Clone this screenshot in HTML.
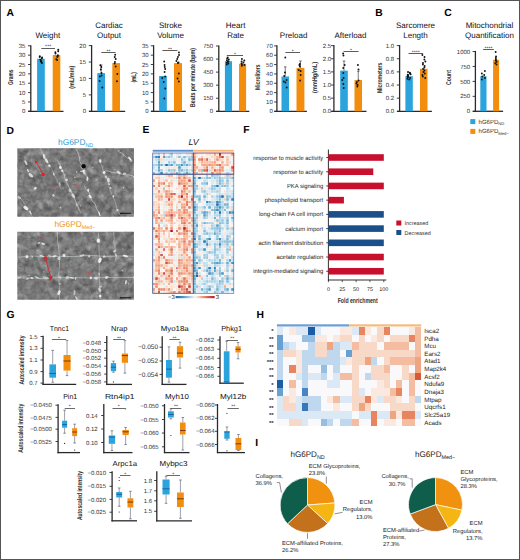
<!DOCTYPE html><html><head><meta charset="utf-8"><title>Figure</title><style>html,body{margin:0;padding:0;background:#fff;width:520px;height:560px;overflow:hidden}svg{display:block}text{font-family:"Liberation Sans",sans-serif;text-rendering:geometricPrecision}</style></head><body><svg width="520" height="560" viewBox="0 0 520 560" font-family="Liberation Sans, sans-serif"><rect width="520" height="560" fill="#fff"/><line x1="30.8" y1="45.2" x2="30.8" y2="111.9" stroke="#2a2a2a" stroke-width="1.3"/>
<line x1="28.2" y1="111.3" x2="63.5" y2="111.3" stroke="#2a2a2a" stroke-width="1.3"/>
<line x1="28" y1="45.8" x2="30.8" y2="45.8" stroke="#2a2a2a" stroke-width="0.9"/>
<text x="25.4" y="47.9" font-size="6.0" text-anchor="end" fill="#333">35</text>
<line x1="28" y1="55.16" x2="30.8" y2="55.16" stroke="#2a2a2a" stroke-width="0.9"/>
<text x="25.4" y="57.26" font-size="6.0" text-anchor="end" fill="#333">30</text>
<line x1="28" y1="64.51" x2="30.8" y2="64.51" stroke="#2a2a2a" stroke-width="0.9"/>
<text x="25.4" y="66.61" font-size="6.0" text-anchor="end" fill="#333">25</text>
<line x1="28" y1="73.87" x2="30.8" y2="73.87" stroke="#2a2a2a" stroke-width="0.9"/>
<text x="25.4" y="75.97" font-size="6.0" text-anchor="end" fill="#333">20</text>
<line x1="28" y1="83.23" x2="30.8" y2="83.23" stroke="#2a2a2a" stroke-width="0.9"/>
<text x="25.4" y="85.33" font-size="6.0" text-anchor="end" fill="#333">15</text>
<line x1="28" y1="92.59" x2="30.8" y2="92.59" stroke="#2a2a2a" stroke-width="0.9"/>
<text x="25.4" y="94.69" font-size="6.0" text-anchor="end" fill="#333">10</text>
<line x1="28" y1="101.94" x2="30.8" y2="101.94" stroke="#2a2a2a" stroke-width="0.9"/>
<text x="25.4" y="104.04" font-size="6.0" text-anchor="end" fill="#333">5</text>
<line x1="28" y1="111.3" x2="30.8" y2="111.3" stroke="#2a2a2a" stroke-width="0.9"/>
<text x="25.4" y="113.4" font-size="6.0" text-anchor="end" fill="#333">0</text>
<rect x="37.1" y="58.8" width="7.7" height="52.5" fill="#2ba3dc"/>
<circle cx="39.83" cy="56.2" r="0.95" fill="#111"/>
<circle cx="42.11" cy="57.5" r="0.95" fill="#111"/>
<circle cx="41.84" cy="58.4" r="0.95" fill="#111"/>
<circle cx="40.22" cy="59.6" r="0.95" fill="#111"/>
<circle cx="40.99" cy="60.5" r="0.95" fill="#111"/>
<circle cx="40.84" cy="61.4" r="0.95" fill="#111"/>
<circle cx="41.49" cy="62.2" r="0.95" fill="#111"/>
<circle cx="41.92" cy="63" r="0.95" fill="#111"/>
<circle cx="39.7" cy="57" r="0.95" fill="#111"/>
<rect x="52.7" y="55" width="7.6" height="56.3" fill="#f38d0d"/>
<circle cx="58.26" cy="49.8" r="0.95" fill="#111"/>
<circle cx="58.23" cy="51.2" r="0.95" fill="#111"/>
<circle cx="55.38" cy="52.3" r="0.95" fill="#111"/>
<circle cx="55.47" cy="53.5" r="0.95" fill="#111"/>
<circle cx="57.87" cy="55.2" r="0.95" fill="#111"/>
<circle cx="57.56" cy="56.2" r="0.95" fill="#111"/>
<circle cx="57.34" cy="57" r="0.95" fill="#111"/>
<circle cx="56.19" cy="59.3" r="0.95" fill="#111"/>
<circle cx="57.14" cy="60" r="0.95" fill="#111"/>
<line x1="41.3" y1="48.5" x2="55" y2="48.5" stroke="#333" stroke-width="0.8"/>
<text x="48.15" y="48.4" font-size="5.2" text-anchor="middle" fill="#222">***</text>
<text x="47.8" y="38.4" font-size="8" text-anchor="middle" fill="#111">Weight</text>
<text x="13" y="77.2" font-size="7" text-anchor="middle" fill="#2a2a2a" font-weight="bold" textLength="15.4" lengthAdjust="spacingAndGlyphs" transform="rotate(-90 13 77.2)">Grams</text>
<line x1="91.6" y1="45" x2="91.6" y2="111.9" stroke="#2a2a2a" stroke-width="1.3"/>
<line x1="89" y1="111.3" x2="125.2" y2="111.3" stroke="#2a2a2a" stroke-width="1.3"/>
<line x1="88.8" y1="45.6" x2="91.6" y2="45.6" stroke="#2a2a2a" stroke-width="0.9"/>
<text x="86" y="47.7" font-size="6.0" text-anchor="end" fill="#333">20</text>
<line x1="88.8" y1="62.02" x2="91.6" y2="62.02" stroke="#2a2a2a" stroke-width="0.9"/>
<text x="86" y="64.12" font-size="6.0" text-anchor="end" fill="#333">15</text>
<line x1="88.8" y1="78.45" x2="91.6" y2="78.45" stroke="#2a2a2a" stroke-width="0.9"/>
<text x="86" y="80.55" font-size="6.0" text-anchor="end" fill="#333">10</text>
<line x1="88.8" y1="94.88" x2="91.6" y2="94.88" stroke="#2a2a2a" stroke-width="0.9"/>
<text x="86" y="96.97" font-size="6.0" text-anchor="end" fill="#333">5</text>
<line x1="88.8" y1="111.3" x2="91.6" y2="111.3" stroke="#2a2a2a" stroke-width="0.9"/>
<text x="86" y="113.4" font-size="6.0" text-anchor="end" fill="#333">0</text>
<rect x="97.3" y="73.1" width="7.7" height="38.2" fill="#2ba3dc"/>
<line x1="101.15" y1="73.1" x2="101.15" y2="65" stroke="#222" stroke-width="0.6"/>
<line x1="99.85" y1="65" x2="102.45" y2="65" stroke="#222" stroke-width="0.6"/>
<circle cx="100.36" cy="65.2" r="0.95" fill="#111"/>
<circle cx="101.34" cy="67" r="0.95" fill="#111"/>
<circle cx="100.78" cy="69.5" r="0.95" fill="#111"/>
<circle cx="101.53" cy="73" r="0.95" fill="#111"/>
<circle cx="101.6" cy="75.5" r="0.95" fill="#111"/>
<circle cx="99.81" cy="76.5" r="0.95" fill="#111"/>
<circle cx="99.64" cy="81" r="0.95" fill="#111"/>
<circle cx="102.28" cy="87.5" r="0.95" fill="#111"/>
<rect x="112.3" y="63.1" width="7.7" height="48.2" fill="#f38d0d"/>
<circle cx="115.16" cy="54.8" r="0.95" fill="#111"/>
<circle cx="114.73" cy="57" r="0.95" fill="#111"/>
<circle cx="115.67" cy="59" r="0.95" fill="#111"/>
<circle cx="114.9" cy="62" r="0.95" fill="#111"/>
<circle cx="114.61" cy="63.5" r="0.95" fill="#111"/>
<circle cx="115.69" cy="66.5" r="0.95" fill="#111"/>
<circle cx="117.34" cy="74" r="0.95" fill="#111"/>
<circle cx="116.96" cy="81.2" r="0.95" fill="#111"/>
<line x1="101.3" y1="52.5" x2="115.6" y2="52.5" stroke="#333" stroke-width="0.8"/>
<text x="108.45" y="52.8" font-size="5.2" text-anchor="middle" fill="#222">**</text>
<text x="109" y="28.4" font-size="8" text-anchor="middle" fill="#111">Cardiac</text>
<text x="109" y="38.2" font-size="8" text-anchor="middle" fill="#111">Output</text>
<text x="74.3" y="77.2" font-size="7" text-anchor="middle" fill="#2a2a2a" font-weight="bold" textLength="23.2" lengthAdjust="spacingAndGlyphs" transform="rotate(-90 74.3 77.2)">(mL/min)</text>
<line x1="153.6" y1="45.2" x2="153.6" y2="111.9" stroke="#2a2a2a" stroke-width="1.3"/>
<line x1="151" y1="111.3" x2="185.8" y2="111.3" stroke="#2a2a2a" stroke-width="1.3"/>
<line x1="150.8" y1="45.8" x2="153.6" y2="45.8" stroke="#2a2a2a" stroke-width="0.9"/>
<text x="148.6" y="47.9" font-size="6.0" text-anchor="end" fill="#333">35</text>
<line x1="150.8" y1="55.16" x2="153.6" y2="55.16" stroke="#2a2a2a" stroke-width="0.9"/>
<text x="148.6" y="57.26" font-size="6.0" text-anchor="end" fill="#333">30</text>
<line x1="150.8" y1="64.51" x2="153.6" y2="64.51" stroke="#2a2a2a" stroke-width="0.9"/>
<text x="148.6" y="66.61" font-size="6.0" text-anchor="end" fill="#333">25</text>
<line x1="150.8" y1="73.87" x2="153.6" y2="73.87" stroke="#2a2a2a" stroke-width="0.9"/>
<text x="148.6" y="75.97" font-size="6.0" text-anchor="end" fill="#333">20</text>
<line x1="150.8" y1="83.23" x2="153.6" y2="83.23" stroke="#2a2a2a" stroke-width="0.9"/>
<text x="148.6" y="85.33" font-size="6.0" text-anchor="end" fill="#333">15</text>
<line x1="150.8" y1="92.59" x2="153.6" y2="92.59" stroke="#2a2a2a" stroke-width="0.9"/>
<text x="148.6" y="94.69" font-size="6.0" text-anchor="end" fill="#333">10</text>
<line x1="150.8" y1="101.94" x2="153.6" y2="101.94" stroke="#2a2a2a" stroke-width="0.9"/>
<text x="148.6" y="104.04" font-size="6.0" text-anchor="end" fill="#333">5</text>
<line x1="150.8" y1="111.3" x2="153.6" y2="111.3" stroke="#2a2a2a" stroke-width="0.9"/>
<text x="148.6" y="113.4" font-size="6.0" text-anchor="end" fill="#333">0</text>
<rect x="159.1" y="76" width="7.7" height="35.3" fill="#2ba3dc"/>
<circle cx="164.19" cy="61.5" r="0.95" fill="#111"/>
<circle cx="164.57" cy="65" r="0.95" fill="#111"/>
<circle cx="164.74" cy="67" r="0.95" fill="#111"/>
<circle cx="165.22" cy="69" r="0.95" fill="#111"/>
<circle cx="164.57" cy="72" r="0.95" fill="#111"/>
<circle cx="165.15" cy="76.5" r="0.95" fill="#111"/>
<circle cx="162.29" cy="78" r="0.95" fill="#111"/>
<circle cx="163.69" cy="82" r="0.95" fill="#111"/>
<circle cx="165.22" cy="88.5" r="0.95" fill="#111"/>
<circle cx="164.28" cy="98.5" r="0.95" fill="#111"/>
<rect x="174" y="63.1" width="8" height="48.2" fill="#f38d0d"/>
<circle cx="178.94" cy="52.5" r="0.95" fill="#111"/>
<circle cx="179.03" cy="55" r="0.95" fill="#111"/>
<circle cx="177.95" cy="57" r="0.95" fill="#111"/>
<circle cx="177.24" cy="59" r="0.95" fill="#111"/>
<circle cx="176.4" cy="61" r="0.95" fill="#111"/>
<circle cx="178.52" cy="62.5" r="0.95" fill="#111"/>
<circle cx="177.9" cy="63" r="0.95" fill="#111"/>
<circle cx="178.83" cy="73.5" r="0.95" fill="#111"/>
<circle cx="177.59" cy="78.5" r="0.95" fill="#111"/>
<circle cx="178.86" cy="81.5" r="0.95" fill="#111"/>
<line x1="162.4" y1="50.5" x2="177.4" y2="50.5" stroke="#333" stroke-width="0.8"/>
<text x="169.9" y="50.6" font-size="5.2" text-anchor="middle" fill="#222">**</text>
<text x="170.5" y="28.4" font-size="8" text-anchor="middle" fill="#111">Stroke</text>
<text x="170.5" y="38.2" font-size="8" text-anchor="middle" fill="#111">Volume</text>
<text x="135.6" y="77.3" font-size="7" text-anchor="middle" fill="#2a2a2a" font-weight="bold" textLength="10.5" lengthAdjust="spacingAndGlyphs" transform="rotate(-90 135.6 77.3)">(mL)</text>
<line x1="218.8" y1="45.4" x2="218.8" y2="111.9" stroke="#2a2a2a" stroke-width="1.3"/>
<line x1="216.2" y1="111.3" x2="249.3" y2="111.3" stroke="#2a2a2a" stroke-width="1.3"/>
<line x1="216" y1="46" x2="218.8" y2="46" stroke="#2a2a2a" stroke-width="0.9"/>
<text x="213.2" y="48.1" font-size="6.0" text-anchor="end" fill="#333">750</text>
<line x1="216" y1="59.06" x2="218.8" y2="59.06" stroke="#2a2a2a" stroke-width="0.9"/>
<text x="213.2" y="61.16" font-size="6.0" text-anchor="end" fill="#333">600</text>
<line x1="216" y1="72.12" x2="218.8" y2="72.12" stroke="#2a2a2a" stroke-width="0.9"/>
<text x="213.2" y="74.22" font-size="6.0" text-anchor="end" fill="#333">450</text>
<line x1="216" y1="85.18" x2="218.8" y2="85.18" stroke="#2a2a2a" stroke-width="0.9"/>
<text x="213.2" y="87.28" font-size="6.0" text-anchor="end" fill="#333">300</text>
<line x1="216" y1="98.24" x2="218.8" y2="98.24" stroke="#2a2a2a" stroke-width="0.9"/>
<text x="213.2" y="100.34" font-size="6.0" text-anchor="end" fill="#333">150</text>
<line x1="216" y1="111.3" x2="218.8" y2="111.3" stroke="#2a2a2a" stroke-width="0.9"/>
<text x="213.2" y="113.4" font-size="6.0" text-anchor="end" fill="#333">0</text>
<rect x="224.9" y="61.2" width="7.1" height="50.1" fill="#2ba3dc"/>
<circle cx="227.74" cy="57.5" r="0.95" fill="#111"/>
<circle cx="227.18" cy="58.5" r="0.95" fill="#111"/>
<circle cx="228.78" cy="59.5" r="0.95" fill="#111"/>
<circle cx="226.93" cy="60.3" r="0.95" fill="#111"/>
<circle cx="228.41" cy="61.2" r="0.95" fill="#111"/>
<circle cx="227.87" cy="62" r="0.95" fill="#111"/>
<circle cx="226.89" cy="62.8" r="0.95" fill="#111"/>
<circle cx="228.32" cy="63.6" r="0.95" fill="#111"/>
<circle cx="226.82" cy="64.5" r="0.95" fill="#111"/>
<rect x="239" y="63.8" width="7.1" height="47.5" fill="#f38d0d"/>
<circle cx="241.93" cy="59" r="0.95" fill="#111"/>
<circle cx="244.28" cy="60.5" r="0.95" fill="#111"/>
<circle cx="241.6" cy="61.5" r="0.95" fill="#111"/>
<circle cx="243.46" cy="62.5" r="0.95" fill="#111"/>
<circle cx="241.47" cy="63.5" r="0.95" fill="#111"/>
<circle cx="241.99" cy="64.3" r="0.95" fill="#111"/>
<circle cx="244.4" cy="65" r="0.95" fill="#111"/>
<circle cx="241.87" cy="65.8" r="0.95" fill="#111"/>
<line x1="226.8" y1="55.5" x2="243" y2="55.5" stroke="#333" stroke-width="0.8"/>
<text x="234.9" y="55.6" font-size="5.2" text-anchor="middle" fill="#222">*</text>
<text x="235.6" y="28.4" font-size="8" text-anchor="middle" fill="#111">Heart</text>
<text x="235.6" y="38.2" font-size="8" text-anchor="middle" fill="#111">Rate</text>
<text x="194.9" y="77.5" font-size="7" text-anchor="middle" fill="#2a2a2a" font-weight="bold" textLength="59" lengthAdjust="spacingAndGlyphs" transform="rotate(-90 194.9 77.5)">Beats per minute (bpm)</text>
<line x1="276.9" y1="45.3" x2="276.9" y2="111.9" stroke="#2a2a2a" stroke-width="1.3"/>
<line x1="274.3" y1="111.3" x2="306.9" y2="111.3" stroke="#2a2a2a" stroke-width="1.3"/>
<line x1="274.1" y1="45.9" x2="276.9" y2="45.9" stroke="#2a2a2a" stroke-width="0.9"/>
<text x="272.8" y="48" font-size="6.0" text-anchor="end" fill="#333">70</text>
<line x1="274.1" y1="55.24" x2="276.9" y2="55.24" stroke="#2a2a2a" stroke-width="0.9"/>
<text x="272.8" y="57.34" font-size="6.0" text-anchor="end" fill="#333">60</text>
<line x1="274.1" y1="64.59" x2="276.9" y2="64.59" stroke="#2a2a2a" stroke-width="0.9"/>
<text x="272.8" y="66.69" font-size="6.0" text-anchor="end" fill="#333">50</text>
<line x1="274.1" y1="73.93" x2="276.9" y2="73.93" stroke="#2a2a2a" stroke-width="0.9"/>
<text x="272.8" y="76.03" font-size="6.0" text-anchor="end" fill="#333">40</text>
<line x1="274.1" y1="83.27" x2="276.9" y2="83.27" stroke="#2a2a2a" stroke-width="0.9"/>
<text x="272.8" y="85.37" font-size="6.0" text-anchor="end" fill="#333">30</text>
<line x1="274.1" y1="92.61" x2="276.9" y2="92.61" stroke="#2a2a2a" stroke-width="0.9"/>
<text x="272.8" y="94.71" font-size="6.0" text-anchor="end" fill="#333">20</text>
<line x1="274.1" y1="101.96" x2="276.9" y2="101.96" stroke="#2a2a2a" stroke-width="0.9"/>
<text x="272.8" y="104.06" font-size="6.0" text-anchor="end" fill="#333">10</text>
<line x1="274.1" y1="111.3" x2="276.9" y2="111.3" stroke="#2a2a2a" stroke-width="0.9"/>
<text x="272.8" y="113.4" font-size="6.0" text-anchor="end" fill="#333">0</text>
<rect x="281.5" y="76.5" width="7.5" height="34.8" fill="#2ba3dc"/>
<line x1="285.25" y1="76.5" x2="285.25" y2="66.9" stroke="#222" stroke-width="0.6"/>
<line x1="283.95" y1="66.9" x2="286.55" y2="66.9" stroke="#222" stroke-width="0.6"/>
<circle cx="285.28" cy="57.5" r="0.95" fill="#111"/>
<circle cx="284.99" cy="72.5" r="0.95" fill="#111"/>
<circle cx="284.24" cy="76" r="0.95" fill="#111"/>
<circle cx="286.57" cy="80" r="0.95" fill="#111"/>
<circle cx="283.82" cy="81.5" r="0.95" fill="#111"/>
<circle cx="285.41" cy="82.5" r="0.95" fill="#111"/>
<circle cx="286.67" cy="87.5" r="0.95" fill="#111"/>
<rect x="296.5" y="67.9" width="7.9" height="43.4" fill="#f38d0d"/>
<line x1="300.45" y1="67.9" x2="300.45" y2="61" stroke="#222" stroke-width="0.6"/>
<line x1="299.15" y1="61" x2="301.75" y2="61" stroke="#222" stroke-width="0.6"/>
<circle cx="299.83" cy="64" r="0.95" fill="#111"/>
<circle cx="299.37" cy="65" r="0.95" fill="#111"/>
<circle cx="299.85" cy="66.5" r="0.95" fill="#111"/>
<circle cx="298.66" cy="70" r="0.95" fill="#111"/>
<circle cx="300.6" cy="71" r="0.95" fill="#111"/>
<circle cx="300.64" cy="75" r="0.95" fill="#111"/>
<circle cx="300.09" cy="80.5" r="0.95" fill="#111"/>
<line x1="285.4" y1="52.5" x2="300" y2="52.5" stroke="#333" stroke-width="0.8"/>
<text x="292.7" y="52.8" font-size="5.2" text-anchor="middle" fill="#222">*</text>
<text x="293.6" y="38.4" font-size="8" text-anchor="middle" fill="#111">Preload</text>
<text x="259.8" y="77.2" font-size="7" text-anchor="middle" fill="#2a2a2a" font-weight="bold" textLength="25.6" lengthAdjust="spacingAndGlyphs" transform="rotate(-90 259.8 77.2)">Microliters</text>
<line x1="333.9" y1="45" x2="333.9" y2="111.9" stroke="#2a2a2a" stroke-width="1.3"/>
<line x1="331.3" y1="111.3" x2="366.5" y2="111.3" stroke="#2a2a2a" stroke-width="1.3"/>
<line x1="331.1" y1="45.6" x2="333.9" y2="45.6" stroke="#2a2a2a" stroke-width="0.9"/>
<text x="331.2" y="47.7" font-size="6.0" text-anchor="end" fill="#333">2.5</text>
<line x1="331.1" y1="58.74" x2="333.9" y2="58.74" stroke="#2a2a2a" stroke-width="0.9"/>
<text x="331.2" y="60.84" font-size="6.0" text-anchor="end" fill="#333">2.0</text>
<line x1="331.1" y1="71.88" x2="333.9" y2="71.88" stroke="#2a2a2a" stroke-width="0.9"/>
<text x="331.2" y="73.98" font-size="6.0" text-anchor="end" fill="#333">1.5</text>
<line x1="331.1" y1="85.02" x2="333.9" y2="85.02" stroke="#2a2a2a" stroke-width="0.9"/>
<text x="331.2" y="87.12" font-size="6.0" text-anchor="end" fill="#333">1.0</text>
<line x1="331.1" y1="98.16" x2="333.9" y2="98.16" stroke="#2a2a2a" stroke-width="0.9"/>
<text x="331.2" y="100.26" font-size="6.0" text-anchor="end" fill="#333">0.5</text>
<line x1="331.1" y1="111.3" x2="333.9" y2="111.3" stroke="#2a2a2a" stroke-width="0.9"/>
<text x="331.2" y="113.4" font-size="6.0" text-anchor="end" fill="#333">0.0</text>
<rect x="340.2" y="70.6" width="7.6" height="40.7" fill="#2ba3dc"/>
<line x1="344" y1="70.6" x2="344" y2="61" stroke="#222" stroke-width="0.6"/>
<line x1="342.7" y1="61" x2="345.3" y2="61" stroke="#222" stroke-width="0.6"/>
<circle cx="343.15" cy="53.5" r="0.95" fill="#111"/>
<circle cx="343.49" cy="55.5" r="0.95" fill="#111"/>
<circle cx="344.66" cy="65" r="0.95" fill="#111"/>
<circle cx="343.19" cy="68" r="0.95" fill="#111"/>
<circle cx="343.33" cy="73" r="0.95" fill="#111"/>
<circle cx="343.58" cy="78" r="0.95" fill="#111"/>
<circle cx="342.29" cy="80" r="0.95" fill="#111"/>
<circle cx="343.34" cy="84" r="0.95" fill="#111"/>
<circle cx="343.72" cy="88" r="0.95" fill="#111"/>
<rect x="354.5" y="80" width="7.5" height="31.3" fill="#f38d0d"/>
<line x1="358.25" y1="80" x2="358.25" y2="71.2" stroke="#222" stroke-width="0.6"/>
<line x1="356.95" y1="71.2" x2="359.55" y2="71.2" stroke="#222" stroke-width="0.6"/>
<circle cx="357.92" cy="65" r="0.95" fill="#111"/>
<circle cx="358.5" cy="69.5" r="0.95" fill="#111"/>
<circle cx="358.53" cy="80.5" r="0.95" fill="#111"/>
<circle cx="356.86" cy="82" r="0.95" fill="#111"/>
<circle cx="356.43" cy="83.5" r="0.95" fill="#111"/>
<circle cx="357.6" cy="85" r="0.95" fill="#111"/>
<circle cx="357.28" cy="86.5" r="0.95" fill="#111"/>
<line x1="343.6" y1="51.5" x2="358.6" y2="51.5" stroke="#333" stroke-width="0.8"/>
<text x="351.1" y="51.6" font-size="5.2" text-anchor="middle" fill="#222">*</text>
<text x="350.5" y="38.4" font-size="8" text-anchor="middle" fill="#111">Afterload</text>
<text x="317.3" y="77.5" font-size="7" text-anchor="middle" fill="#2a2a2a" font-weight="bold" textLength="31.2" lengthAdjust="spacingAndGlyphs" transform="rotate(-90 317.3 77.5)">(mmHg/mL)</text>
<line x1="399.6" y1="45" x2="399.6" y2="111.9" stroke="#2a2a2a" stroke-width="1.3"/>
<line x1="397" y1="111.3" x2="431.9" y2="111.3" stroke="#2a2a2a" stroke-width="1.3"/>
<line x1="396.8" y1="45.6" x2="399.6" y2="45.6" stroke="#2a2a2a" stroke-width="0.9"/>
<text x="394" y="47.7" font-size="6.0" text-anchor="end" fill="#333">1.0</text>
<line x1="396.8" y1="58.74" x2="399.6" y2="58.74" stroke="#2a2a2a" stroke-width="0.9"/>
<text x="394" y="60.84" font-size="6.0" text-anchor="end" fill="#333">0.8</text>
<line x1="396.8" y1="71.88" x2="399.6" y2="71.88" stroke="#2a2a2a" stroke-width="0.9"/>
<text x="394" y="73.98" font-size="6.0" text-anchor="end" fill="#333">0.6</text>
<line x1="396.8" y1="85.02" x2="399.6" y2="85.02" stroke="#2a2a2a" stroke-width="0.9"/>
<text x="394" y="87.12" font-size="6.0" text-anchor="end" fill="#333">0.4</text>
<line x1="396.8" y1="98.16" x2="399.6" y2="98.16" stroke="#2a2a2a" stroke-width="0.9"/>
<text x="394" y="100.26" font-size="6.0" text-anchor="end" fill="#333">0.2</text>
<line x1="396.8" y1="111.3" x2="399.6" y2="111.3" stroke="#2a2a2a" stroke-width="0.9"/>
<text x="394" y="113.4" font-size="6.0" text-anchor="end" fill="#333">0.0</text>
<rect x="405.4" y="76.2" width="7.4" height="35.1" fill="#2ba3dc"/>
<circle cx="408.04" cy="72" r="0.95" fill="#111"/>
<circle cx="409.92" cy="72.8" r="0.95" fill="#111"/>
<circle cx="409.91" cy="73.5" r="0.95" fill="#111"/>
<circle cx="410.64" cy="74.2" r="0.95" fill="#111"/>
<circle cx="407.72" cy="75" r="0.95" fill="#111"/>
<circle cx="407.91" cy="75.8" r="0.95" fill="#111"/>
<circle cx="407.55" cy="76.5" r="0.95" fill="#111"/>
<circle cx="407.89" cy="77.2" r="0.95" fill="#111"/>
<circle cx="410.13" cy="78" r="0.95" fill="#111"/>
<circle cx="407.47" cy="78.8" r="0.95" fill="#111"/>
<circle cx="409.24" cy="79.6" r="0.95" fill="#111"/>
<circle cx="407.84" cy="74.6" r="0.95" fill="#111"/>
<circle cx="408.2" cy="76.1" r="0.95" fill="#111"/>
<rect x="420" y="68.8" width="7.5" height="42.5" fill="#f38d0d"/>
<circle cx="422.38" cy="55" r="0.95" fill="#111"/>
<circle cx="424.53" cy="57" r="0.95" fill="#111"/>
<circle cx="424.35" cy="59.5" r="0.95" fill="#111"/>
<circle cx="425.39" cy="61.5" r="0.95" fill="#111"/>
<circle cx="422.98" cy="63" r="0.95" fill="#111"/>
<circle cx="422.92" cy="64.5" r="0.95" fill="#111"/>
<circle cx="424.64" cy="66" r="0.95" fill="#111"/>
<circle cx="424.37" cy="67.5" r="0.95" fill="#111"/>
<circle cx="423.09" cy="69" r="0.95" fill="#111"/>
<circle cx="424.46" cy="70.5" r="0.95" fill="#111"/>
<circle cx="423.43" cy="72" r="0.95" fill="#111"/>
<circle cx="424.8" cy="73.5" r="0.95" fill="#111"/>
<circle cx="422.43" cy="75" r="0.95" fill="#111"/>
<circle cx="422.8" cy="76.5" r="0.95" fill="#111"/>
<circle cx="425.25" cy="78" r="0.95" fill="#111"/>
<line x1="408.5" y1="53.5" x2="423.1" y2="53.5" stroke="#333" stroke-width="0.8"/>
<text x="415.8" y="53.8" font-size="5.2" text-anchor="middle" fill="#222">****</text>
<text x="415.5" y="28.4" font-size="8" text-anchor="middle" fill="#111">Sarcomere</text>
<text x="415.5" y="38.2" font-size="8" text-anchor="middle" fill="#111">Length</text>
<text x="382.2" y="77.8" font-size="7" text-anchor="middle" fill="#2a2a2a" font-weight="bold" textLength="30.6" lengthAdjust="spacingAndGlyphs" transform="rotate(-90 382.2 77.8)">Micrometers</text>
<line x1="475.4" y1="50.9" x2="475.4" y2="111.9" stroke="#2a2a2a" stroke-width="1.3"/>
<line x1="472.8" y1="111.3" x2="503.1" y2="111.3" stroke="#2a2a2a" stroke-width="1.3"/>
<line x1="472.6" y1="51.5" x2="475.4" y2="51.5" stroke="#2a2a2a" stroke-width="0.9"/>
<text x="470.2" y="53.6" font-size="6.0" text-anchor="end" fill="#333">1000</text>
<line x1="472.6" y1="66.45" x2="475.4" y2="66.45" stroke="#2a2a2a" stroke-width="0.9"/>
<text x="470.2" y="68.55" font-size="6.0" text-anchor="end" fill="#333">750</text>
<line x1="472.6" y1="81.4" x2="475.4" y2="81.4" stroke="#2a2a2a" stroke-width="0.9"/>
<text x="470.2" y="83.5" font-size="6.0" text-anchor="end" fill="#333">500</text>
<line x1="472.6" y1="96.35" x2="475.4" y2="96.35" stroke="#2a2a2a" stroke-width="0.9"/>
<text x="470.2" y="98.45" font-size="6.0" text-anchor="end" fill="#333">250</text>
<line x1="472.6" y1="111.3" x2="475.4" y2="111.3" stroke="#2a2a2a" stroke-width="0.9"/>
<text x="470.2" y="113.4" font-size="6.0" text-anchor="end" fill="#333">0</text>
<rect x="480.3" y="76.2" width="6.2" height="35.1" fill="#2ba3dc"/>
<circle cx="484.89" cy="71" r="0.95" fill="#111"/>
<circle cx="481.84" cy="73.5" r="0.95" fill="#111"/>
<circle cx="484.16" cy="75" r="0.95" fill="#111"/>
<circle cx="482.31" cy="76.5" r="0.95" fill="#111"/>
<circle cx="484.96" cy="78" r="0.95" fill="#111"/>
<circle cx="481.85" cy="79.5" r="0.95" fill="#111"/>
<rect x="493.1" y="59.8" width="6" height="51.5" fill="#f38d0d"/>
<circle cx="495.66" cy="52" r="0.95" fill="#111"/>
<circle cx="496.04" cy="56.5" r="0.95" fill="#111"/>
<circle cx="495.83" cy="58" r="0.95" fill="#111"/>
<circle cx="495.93" cy="59.5" r="0.95" fill="#111"/>
<circle cx="495.81" cy="60.5" r="0.95" fill="#111"/>
<circle cx="496.6" cy="61.8" r="0.95" fill="#111"/>
<circle cx="495.33" cy="63.2" r="0.95" fill="#111"/>
<circle cx="496.53" cy="64.5" r="0.95" fill="#111"/>
<line x1="483.1" y1="49.5" x2="493.8" y2="49.5" stroke="#333" stroke-width="0.8"/>
<text x="488.45" y="49.7" font-size="5.2" text-anchor="middle" fill="#222">****</text>
<text x="489.5" y="28.4" font-size="8" text-anchor="middle" fill="#111">Mitochondrial</text>
<text x="489.5" y="38.2" font-size="8" text-anchor="middle" fill="#111">Quantification</text>
<text x="450.8" y="77.5" font-size="7" text-anchor="middle" fill="#2a2a2a" font-weight="bold" textLength="15" lengthAdjust="spacingAndGlyphs" transform="rotate(-90 450.8 77.5)">Count</text>
<rect x="470.3" y="119.1" width="5" height="5" fill="#2ba3dc"/>
<rect x="470.3" y="128.9" width="5" height="5" fill="#f38d0d"/>
<text x="478.6" y="123.7" font-size="6" fill="#333">hG6PD<tspan font-size="4.2" dy="1.5">ND</tspan></text>
<text x="478.6" y="133.3" font-size="6" fill="#333">hG6PD<tspan font-size="4.2" dy="1.5">Med−</tspan></text>
<text x="6.5" y="15.7" font-size="10.3" fill="#000" font-weight="bold">A</text>
<text x="375.3" y="15.7" font-size="10.3" fill="#000" font-weight="bold">B</text>
<text x="444.2" y="15.9" font-size="10.3" fill="#000" font-weight="bold">C</text>
<text x="6.6" y="133.9" font-size="10.3" fill="#000" font-weight="bold">D</text>
<text x="142.5" y="133.3" font-size="10.3" fill="#000" font-weight="bold">E</text>
<text x="243.3" y="133.3" font-size="10.3" fill="#000" font-weight="bold">F</text>
<text x="6.6" y="317.9" font-size="10.3" fill="#000" font-weight="bold">G</text>
<text x="256.5" y="317.9" font-size="10.3" fill="#000" font-weight="bold">H</text>
<text x="255.3" y="445.5" font-size="10.3" fill="#000" font-weight="bold">I</text>
<defs><filter id="emblur" x="-10%" y="-10%" width="120%" height="120%"><feGaussianBlur stdDeviation="0.3"/></filter>
<filter id="emtex21" x="0" y="0" width="100%" height="100%" color-interpolation-filters="sRGB"><feTurbulence type="fractalNoise" baseFrequency="0.16" numOctaves="3" seed="21"/><feColorMatrix type="matrix" values="0.3 0.3 0 0 0.18  0.3 0.3 0 0 0.18  0.3 0.3 0 0 0.18  0 0 0 0 1"/></filter>
<filter id="emtex22" x="0" y="0" width="100%" height="100%" color-interpolation-filters="sRGB"><feTurbulence type="fractalNoise" baseFrequency="0.16" numOctaves="3" seed="22"/><feColorMatrix type="matrix" values="0.3 0.3 0 0 0.18  0.3 0.3 0 0 0.18  0.3 0.3 0 0 0.18  0 0 0 0 1"/></filter>
</defs>
<clipPath id="emclip21"><rect x="17.3" y="148.2" width="116.6" height="68.6"/></clipPath>
<g clip-path="url(#emclip21)">
<rect x="17.3" y="148.2" width="116.6" height="68.6" fill="#808080" filter="url(#emtex21)"/>
<ellipse cx="36.53" cy="195.52" rx="5.04" ry="4.47" fill="#767676" fill-opacity="0.35" stroke="#555" stroke-width="0.7" stroke-opacity="0.37"/>
<ellipse cx="129.61" cy="160.79" rx="4.61" ry="4.95" fill="#6e6e6e" fill-opacity="0.35" stroke="#555" stroke-width="0.48" stroke-opacity="0.4"/>
<ellipse cx="25.38" cy="202.65" rx="3.43" ry="2.54" fill="#6e6e6e" fill-opacity="0.35" stroke="#555" stroke-width="0.5" stroke-opacity="0.5"/>
<ellipse cx="107.16" cy="176.1" rx="4.27" ry="5.01" fill="#7f7f7f" fill-opacity="0.35" stroke="#555" stroke-width="0.59" stroke-opacity="0.41"/>
<ellipse cx="126.66" cy="149.79" rx="5.46" ry="3.57" fill="#6e6e6e" fill-opacity="0.35" stroke="#555" stroke-width="0.51" stroke-opacity="0.39"/>
<ellipse cx="57.28" cy="181.45" rx="3.25" ry="2.02" fill="#767676" fill-opacity="0.35" stroke="#555" stroke-width="0.38" stroke-opacity="0.3"/>
<ellipse cx="95.86" cy="203.28" rx="5.13" ry="6" fill="#6e6e6e" fill-opacity="0.35" stroke="#555" stroke-width="0.39" stroke-opacity="0.37"/>
<ellipse cx="113.73" cy="161.99" rx="6.19" ry="7.01" fill="#7f7f7f" fill-opacity="0.35" stroke="#555" stroke-width="0.45" stroke-opacity="0.49"/>
<ellipse cx="75.77" cy="170.01" rx="4.44" ry="3.37" fill="#6e6e6e" fill-opacity="0.35" stroke="#555" stroke-width="0.41" stroke-opacity="0.43"/>
<ellipse cx="131.85" cy="148.39" rx="2.78" ry="2.67" fill="#767676" fill-opacity="0.35" stroke="#555" stroke-width="0.55" stroke-opacity="0.33"/>
<ellipse cx="131.57" cy="155.93" rx="5.18" ry="5.05" fill="#8a8a8a" fill-opacity="0.35" stroke="#555" stroke-width="0.47" stroke-opacity="0.4"/>
<ellipse cx="53.05" cy="155.28" rx="2.76" ry="3.01" fill="#7f7f7f" fill-opacity="0.35" stroke="#555" stroke-width="0.48" stroke-opacity="0.42"/>
<ellipse cx="96.11" cy="209.85" rx="6.33" ry="5.35" fill="#767676" fill-opacity="0.35" stroke="#555" stroke-width="0.69" stroke-opacity="0.4"/>
<ellipse cx="120.28" cy="181.88" rx="4" ry="2.99" fill="#767676" fill-opacity="0.35" stroke="#555" stroke-width="0.41" stroke-opacity="0.27"/>
<ellipse cx="111.2" cy="201.29" rx="4.43" ry="4.89" fill="#6e6e6e" fill-opacity="0.35" stroke="#555" stroke-width="0.65" stroke-opacity="0.41"/>
<ellipse cx="21.35" cy="165.25" rx="4.08" ry="4.58" fill="#767676" fill-opacity="0.35" stroke="#555" stroke-width="0.69" stroke-opacity="0.44"/>
<ellipse cx="73.15" cy="165.5" rx="6.34" ry="5.8" fill="#7f7f7f" fill-opacity="0.35" stroke="#555" stroke-width="0.36" stroke-opacity="0.3"/>
<ellipse cx="115.04" cy="202.75" rx="6.03" ry="5.79" fill="#7f7f7f" fill-opacity="0.35" stroke="#555" stroke-width="0.52" stroke-opacity="0.48"/>
<ellipse cx="72.9" cy="157.72" rx="4.85" ry="3.32" fill="#6e6e6e" fill-opacity="0.35" stroke="#555" stroke-width="0.48" stroke-opacity="0.28"/>
<ellipse cx="100.75" cy="166.34" rx="3.8" ry="2.85" fill="#7f7f7f" fill-opacity="0.35" stroke="#555" stroke-width="0.44" stroke-opacity="0.35"/>
<ellipse cx="129.09" cy="210.32" rx="3.03" ry="1.99" fill="#6e6e6e" fill-opacity="0.35" stroke="#555" stroke-width="0.42" stroke-opacity="0.41"/>
<ellipse cx="108.96" cy="153.13" rx="2.98" ry="2.29" fill="#8a8a8a" fill-opacity="0.35" stroke="#555" stroke-width="0.54" stroke-opacity="0.33"/>
<ellipse cx="74.88" cy="163.27" rx="3.16" ry="2.25" fill="#7f7f7f" fill-opacity="0.35" stroke="#555" stroke-width="0.42" stroke-opacity="0.44"/>
<ellipse cx="105.57" cy="189.63" rx="4.52" ry="4.73" fill="#6e6e6e" fill-opacity="0.35" stroke="#555" stroke-width="0.63" stroke-opacity="0.25"/>
<ellipse cx="71.39" cy="152.56" rx="5.56" ry="3.92" fill="#767676" fill-opacity="0.35" stroke="#555" stroke-width="0.44" stroke-opacity="0.42"/>
<ellipse cx="53.87" cy="151.08" rx="4.06" ry="3.19" fill="#8a8a8a" fill-opacity="0.35" stroke="#555" stroke-width="0.64" stroke-opacity="0.45"/>
<ellipse cx="74.44" cy="187.51" rx="4.68" ry="2.98" fill="#8a8a8a" fill-opacity="0.35" stroke="#555" stroke-width="0.69" stroke-opacity="0.33"/>
<ellipse cx="98.86" cy="184.27" rx="4.74" ry="3.03" fill="#8a8a8a" fill-opacity="0.35" stroke="#555" stroke-width="0.69" stroke-opacity="0.34"/>
<ellipse cx="54.39" cy="216.33" rx="2.93" ry="1.89" fill="#6e6e6e" fill-opacity="0.35" stroke="#555" stroke-width="0.57" stroke-opacity="0.45"/>
<ellipse cx="131.28" cy="182.85" rx="6.29" ry="6.34" fill="#7f7f7f" fill-opacity="0.35" stroke="#555" stroke-width="0.51" stroke-opacity="0.38"/>
<ellipse cx="119.4" cy="153.03" rx="2.6" ry="2.59" fill="#6e6e6e" fill-opacity="0.35" stroke="#555" stroke-width="0.44" stroke-opacity="0.43"/>
<ellipse cx="112.6" cy="197.85" rx="4.32" ry="3.21" fill="#7f7f7f" fill-opacity="0.35" stroke="#555" stroke-width="0.46" stroke-opacity="0.31"/>
<ellipse cx="123.95" cy="193.09" rx="2.65" ry="1.86" fill="#8a8a8a" fill-opacity="0.35" stroke="#555" stroke-width="0.6" stroke-opacity="0.47"/>
<ellipse cx="108.19" cy="191.2" rx="5.53" ry="5.54" fill="#8a8a8a" fill-opacity="0.35" stroke="#555" stroke-width="0.44" stroke-opacity="0.48"/>
<ellipse cx="62.3" cy="190.37" rx="5.8" ry="6.83" fill="#6e6e6e" fill-opacity="0.35" stroke="#555" stroke-width="0.41" stroke-opacity="0.3"/>
<ellipse cx="119.4" cy="197.35" rx="2.86" ry="2.02" fill="#8a8a8a" fill-opacity="0.35" stroke="#555" stroke-width="0.57" stroke-opacity="0.34"/>
<ellipse cx="103.93" cy="215.63" rx="6.46" ry="4.52" fill="#7f7f7f" fill-opacity="0.35" stroke="#555" stroke-width="0.42" stroke-opacity="0.33"/>
<ellipse cx="92.11" cy="194.96" rx="3.54" ry="4.15" fill="#8a8a8a" fill-opacity="0.35" stroke="#555" stroke-width="0.53" stroke-opacity="0.49"/>
<ellipse cx="130.07" cy="209.92" rx="4.53" ry="3.36" fill="#8a8a8a" fill-opacity="0.35" stroke="#555" stroke-width="0.6" stroke-opacity="0.29"/>
<ellipse cx="63.09" cy="175.76" rx="4.34" ry="4.34" fill="#767676" fill-opacity="0.35" stroke="#555" stroke-width="0.58" stroke-opacity="0.41"/>
<ellipse cx="28.84" cy="215.1" rx="3.36" ry="2.72" fill="#8a8a8a" fill-opacity="0.35" stroke="#555" stroke-width="0.36" stroke-opacity="0.38"/>
<ellipse cx="21.88" cy="189.9" rx="5.3" ry="3.95" fill="#6e6e6e" fill-opacity="0.35" stroke="#555" stroke-width="0.68" stroke-opacity="0.29"/>
<ellipse cx="130.73" cy="161.25" rx="3.98" ry="2.4" fill="#767676" fill-opacity="0.35" stroke="#555" stroke-width="0.4" stroke-opacity="0.45"/>
<ellipse cx="113.19" cy="184.52" rx="2.7" ry="1.92" fill="#7f7f7f" fill-opacity="0.35" stroke="#555" stroke-width="0.66" stroke-opacity="0.31"/>
<ellipse cx="84.33" cy="204.71" rx="4.84" ry="4.26" fill="#6e6e6e" fill-opacity="0.35" stroke="#555" stroke-width="0.58" stroke-opacity="0.27"/>
<ellipse cx="68.11" cy="205.32" rx="6.46" ry="6.42" fill="#767676" fill-opacity="0.35" stroke="#555" stroke-width="0.37" stroke-opacity="0.45"/>
<ellipse cx="88.02" cy="190.75" rx="4.38" ry="4.74" fill="#8a8a8a" fill-opacity="0.35" stroke="#555" stroke-width="0.4" stroke-opacity="0.29"/>
<ellipse cx="50.88" cy="192.1" rx="2.54" ry="2.75" fill="#6e6e6e" fill-opacity="0.35" stroke="#555" stroke-width="0.42" stroke-opacity="0.27"/>
<ellipse cx="113.88" cy="172.91" rx="3.91" ry="2.73" fill="#7f7f7f" fill-opacity="0.35" stroke="#555" stroke-width="0.45" stroke-opacity="0.45"/>
<ellipse cx="63.88" cy="150.43" rx="3.43" ry="2.8" fill="#8a8a8a" fill-opacity="0.35" stroke="#555" stroke-width="0.49" stroke-opacity="0.42"/>
<ellipse cx="102.16" cy="184.19" rx="2.81" ry="3.08" fill="#767676" fill-opacity="0.35" stroke="#555" stroke-width="0.53" stroke-opacity="0.43"/>
<ellipse cx="88.04" cy="191.62" rx="5.07" ry="3.11" fill="#8a8a8a" fill-opacity="0.35" stroke="#555" stroke-width="0.52" stroke-opacity="0.29"/>
<ellipse cx="116.52" cy="203.54" rx="6.13" ry="6.17" fill="#767676" fill-opacity="0.35" stroke="#555" stroke-width="0.59" stroke-opacity="0.41"/>
<ellipse cx="89.12" cy="189.61" rx="2.95" ry="2.32" fill="#767676" fill-opacity="0.35" stroke="#555" stroke-width="0.68" stroke-opacity="0.48"/>
<ellipse cx="109.87" cy="148.97" rx="3.91" ry="3.78" fill="#6e6e6e" fill-opacity="0.35" stroke="#555" stroke-width="0.61" stroke-opacity="0.41"/>
<ellipse cx="36.13" cy="212.05" rx="4.64" ry="5.24" fill="#767676" fill-opacity="0.35" stroke="#555" stroke-width="0.43" stroke-opacity="0.38"/>
<ellipse cx="50.64" cy="179.07" rx="5.57" ry="6.53" fill="#6e6e6e" fill-opacity="0.35" stroke="#555" stroke-width="0.43" stroke-opacity="0.4"/>
<ellipse cx="58.33" cy="194.29" rx="5.97" ry="5.63" fill="#6e6e6e" fill-opacity="0.35" stroke="#555" stroke-width="0.67" stroke-opacity="0.49"/>
<ellipse cx="105.35" cy="215.72" rx="5.46" ry="5.71" fill="#767676" fill-opacity="0.35" stroke="#555" stroke-width="0.67" stroke-opacity="0.38"/>
<ellipse cx="121.67" cy="183.46" rx="2.99" ry="2.23" fill="#7f7f7f" fill-opacity="0.35" stroke="#555" stroke-width="0.56" stroke-opacity="0.37"/>
<g filter="url(#emblur)" fill="#f4f4f4">
<polyline points="39.99,147.51 42.29,152.75 46.02,158.06 48.21,163.01 51.57,168.53 54.21,173.99 56.4,179.18 58.67,184.3 61.45,189.43" fill="none" stroke="#e2e2e2" stroke-width="0.61" opacity="0.55"/>
<ellipse cx="44.02" cy="156.46" rx="2.62" ry="1.21" transform="rotate(78.26 44.02 156.46)" opacity="0.8"/>
<ellipse cx="46.49" cy="160.73" rx="2.81" ry="1.22" transform="rotate(59.23 46.49 160.73)" opacity="0.82"/>
<ellipse cx="49.35" cy="165.73" rx="1.33" ry="1.1" transform="rotate(39.85 49.35 165.73)" opacity="0.9"/>
<ellipse cx="53.87" cy="174.39" rx="1.31" ry="0.71" transform="rotate(69.38 53.87 174.39)" opacity="0.79"/>
<ellipse cx="59.78" cy="184.02" rx="1.93" ry="0.89" transform="rotate(81.85 59.78 184.02)" opacity="0.53"/>
<polyline points="57.57,160.33 60.73,166.56 63.58,172.89 65.48,180.22 68.43,185.84 71.66,192.74 74.85,199.14 77.15,205.07 80.56,212.64" fill="none" stroke="#e2e2e2" stroke-width="0.94" opacity="0.55"/>
<ellipse cx="60.34" cy="167.38" rx="1.53" ry="1.36" transform="rotate(55.02 60.34 167.38)" opacity="0.93"/>
<ellipse cx="62.25" cy="170.96" rx="1.2" ry="1.21" transform="rotate(47.07 62.25 170.96)" opacity="0.79"/>
<ellipse cx="64.88" cy="174.74" rx="1.03" ry="0.62" transform="rotate(83.86 64.88 174.74)" opacity="0.6"/>
<ellipse cx="66.6" cy="179.83" rx="1.3" ry="1.37" transform="rotate(85.82 66.6 179.83)" opacity="0.68"/>
<ellipse cx="70.11" cy="190.58" rx="1.69" ry="1.49" transform="rotate(66 70.11 190.58)" opacity="0.52"/>
<ellipse cx="73.29" cy="195.79" rx="2.5" ry="1.51" transform="rotate(54.41 73.29 195.79)" opacity="0.67"/>
<ellipse cx="76.74" cy="204.99" rx="1.01" ry="0.75" transform="rotate(80.34 76.74 204.99)" opacity="0.64"/>
<polyline points="76.02,149.37 78.26,153.3 79.61,157.86 79.77,161.45 82.17,164.9 83.93,167.98 85,171.96 86.05,175.71 88.74,179.22" fill="none" stroke="#e2e2e2" stroke-width="0.91" opacity="0.55"/>
<ellipse cx="82.2" cy="166.96" rx="1.58" ry="1.32" transform="rotate(55.46 82.2 166.96)" opacity="0.84"/>
<ellipse cx="83.76" cy="172.05" rx="2.4" ry="0.93" transform="rotate(71.79 83.76 172.05)" opacity="0.87"/>
<ellipse cx="87.34" cy="178.79" rx="2.37" ry="0.83" transform="rotate(97.26 87.34 178.79)" opacity="0.85"/>
<polyline points="99.39,159.24 102.04,166.8 104.5,174.24 107.77,180.54 109.47,188.64 112.31,195.69 115.43,202.03 116.78,209.34 120.41,215.47" fill="none" stroke="#e2e2e2" stroke-width="0.64" opacity="0.55"/>
<ellipse cx="100.27" cy="161.06" rx="1.82" ry="1.24" transform="rotate(79.51 100.27 161.06)" opacity="0.89"/>
<ellipse cx="104.07" cy="172.5" rx="1.38" ry="1.57" transform="rotate(68.14 104.07 172.5)" opacity="0.91"/>
<ellipse cx="105.99" cy="176.91" rx="1.35" ry="1.29" transform="rotate(52.64 105.99 176.91)" opacity="0.57"/>
<ellipse cx="108.41" cy="180" rx="2.54" ry="1.47" transform="rotate(81.94 108.41 180)" opacity="0.73"/>
<ellipse cx="109.16" cy="184.08" rx="0.82" ry="0.74" transform="rotate(59.7 109.16 184.08)" opacity="0.82"/>
<ellipse cx="110.51" cy="187.95" rx="1.2" ry="0.96" transform="rotate(83.97 110.51 187.95)" opacity="0.67"/>
<ellipse cx="113.42" cy="196.32" rx="1.42" ry="0.81" transform="rotate(97.71 113.42 196.32)" opacity="0.78"/>
<ellipse cx="117.54" cy="210" rx="0.86" ry="1.21" transform="rotate(94.62 117.54 210)" opacity="0.92"/>
<polyline points="105.43,170.78 108.53,171.1 111.2,172.12 116.09,173.03 119.73,172.34 122.35,174.52 126.58,174.96 129.48,174.87 133.11,176.22" fill="none" stroke="#e2e2e2" stroke-width="0.99" opacity="0.55"/>
<ellipse cx="118.57" cy="172.54" rx="2.48" ry="1.16" transform="rotate(36.78 118.57 172.54)" opacity="0.79"/>
<ellipse cx="124.5" cy="173.66" rx="1.79" ry="1.21" transform="rotate(-1.13 124.5 173.66)" opacity="0.59"/>
<ellipse cx="134.57" cy="176.91" rx="1.7" ry="0.82" transform="rotate(-7.13 134.57 176.91)" opacity="0.74"/>
<polyline points="117.46,150.71 119.37,152.03 121.72,153.15 123.26,154.5 124.84,156.17 127.87,158.16 129.81,159.1 130.43,161.29 132.47,161.22" fill="none" stroke="#e2e2e2" stroke-width="0.91" opacity="0.55"/>
<ellipse cx="130.01" cy="158.78" rx="2.66" ry="0.81" transform="rotate(51.34 130.01 158.78)" opacity="0.94"/>
<polyline points="18.35,195.26 19.59,197.28 21.87,199.82 23.52,202.48 25.74,205.55 26.77,207.75 27.96,211.38 30.83,212.74 32.25,216.65" fill="none" stroke="#e2e2e2" stroke-width="0.67" opacity="0.55"/>
<ellipse cx="19.19" cy="197.55" rx="2.06" ry="1.27" transform="rotate(28.34 19.19 197.55)" opacity="0.52"/>
<ellipse cx="25.9" cy="208.01" rx="2.91" ry="1.68" transform="rotate(35.07 25.9 208.01)" opacity="0.92"/>
<ellipse cx="30.41" cy="212.48" rx="2.16" ry="0.73" transform="rotate(66.49 30.41 212.48)" opacity="0.79"/>
<polyline points="84.36,185.77 86.14,189.62 89.23,192.49 90.47,196.99 92.14,201 95.04,203.66 96.68,208.91 98.25,211.56 100.03,215.34" fill="none" stroke="#e2e2e2" stroke-width="0.94" opacity="0.55"/>
<ellipse cx="88.19" cy="190.22" rx="1.83" ry="0.87" transform="rotate(88.72 88.19 190.22)" opacity="0.85"/>
<ellipse cx="90.03" cy="196.52" rx="2.04" ry="1.22" transform="rotate(48.13 90.03 196.52)" opacity="0.92"/>
<ellipse cx="99.42" cy="213.82" rx="2.64" ry="0.63" transform="rotate(72.02 99.42 213.82)" opacity="0.94"/>
<ellipse cx="25.95" cy="162.79" rx="2.66" ry="1.01" transform="rotate(62.47 25.95 162.79)" opacity="0.75"/>
<ellipse cx="27.98" cy="170.66" rx="1.65" ry="0.7" transform="rotate(75.27 27.98 170.66)" opacity="0.93"/>
<ellipse cx="30.93" cy="175.3" rx="2.86" ry="1.5" transform="rotate(39.32 30.93 175.3)" opacity="0.79"/>
<ellipse cx="35.25" cy="188.4" rx="1.19" ry="1.51" transform="rotate(51.52 35.25 188.4)" opacity="0.89"/>
<ellipse cx="53.4" cy="195.37" rx="1.36" ry="1.13" transform="rotate(53.66 53.4 195.37)" opacity="0.67"/>
<ellipse cx="76.63" cy="171.92" rx="0.81" ry="0.7" transform="rotate(-9.86 76.63 171.92)" opacity="0.67"/>
<ellipse cx="82.66" cy="171.13" rx="2.8" ry="0.97" transform="rotate(-9.33 82.66 171.13)" opacity="0.65"/>
<ellipse cx="63.36" cy="188" rx="0.4" ry="0.41" opacity="0.79"/>
<ellipse cx="126.89" cy="153.12" rx="0.49" ry="0.73" opacity="0.46"/>
<ellipse cx="123.66" cy="187.68" rx="0.64" ry="0.66" opacity="0.73"/>
<ellipse cx="40.88" cy="173.32" rx="0.64" ry="0.42" opacity="0.46"/>
<ellipse cx="92.83" cy="167.59" rx="0.74" ry="0.51" opacity="0.54"/>
<ellipse cx="60.51" cy="207.76" rx="0.7" ry="0.75" opacity="0.75"/>
<ellipse cx="119.01" cy="150.46" rx="0.79" ry="0.5" opacity="0.5"/>
<ellipse cx="80.51" cy="205.74" rx="0.51" ry="0.64" opacity="0.54"/>
<ellipse cx="81.55" cy="199.17" rx="0.42" ry="0.41" opacity="0.58"/>
<ellipse cx="74.83" cy="177.27" rx="0.82" ry="0.46" opacity="0.79"/>
</g>
</g>
<clipPath id="emclip22"><rect x="17.3" y="231.8" width="116.6" height="68"/></clipPath>
<g clip-path="url(#emclip22)">
<rect x="17.3" y="231.8" width="116.6" height="68" fill="#808080" filter="url(#emtex22)"/>
<ellipse cx="129.03" cy="241.35" rx="2.59" ry="3.11" fill="#767676" fill-opacity="0.35" stroke="#555" stroke-width="0.6" stroke-opacity="0.43"/>
<ellipse cx="119.75" cy="285.7" rx="2.82" ry="2.15" fill="#6e6e6e" fill-opacity="0.35" stroke="#555" stroke-width="0.46" stroke-opacity="0.4"/>
<ellipse cx="125.98" cy="278.4" rx="6.2" ry="6.35" fill="#6e6e6e" fill-opacity="0.35" stroke="#555" stroke-width="0.55" stroke-opacity="0.26"/>
<ellipse cx="48.08" cy="260.46" rx="3.22" ry="2.15" fill="#6e6e6e" fill-opacity="0.35" stroke="#555" stroke-width="0.59" stroke-opacity="0.4"/>
<ellipse cx="47.43" cy="296.86" rx="3.75" ry="4.01" fill="#767676" fill-opacity="0.35" stroke="#555" stroke-width="0.45" stroke-opacity="0.32"/>
<ellipse cx="97.97" cy="261.17" rx="3.87" ry="4.41" fill="#7f7f7f" fill-opacity="0.35" stroke="#555" stroke-width="0.67" stroke-opacity="0.38"/>
<ellipse cx="77.62" cy="259.64" rx="5.14" ry="5.91" fill="#8a8a8a" fill-opacity="0.35" stroke="#555" stroke-width="0.55" stroke-opacity="0.35"/>
<ellipse cx="20.24" cy="270.94" rx="4.75" ry="4.35" fill="#7f7f7f" fill-opacity="0.35" stroke="#555" stroke-width="0.38" stroke-opacity="0.5"/>
<ellipse cx="58.77" cy="261.16" rx="4.11" ry="4.76" fill="#767676" fill-opacity="0.35" stroke="#555" stroke-width="0.53" stroke-opacity="0.35"/>
<ellipse cx="28.56" cy="292.69" rx="3.19" ry="2.96" fill="#8a8a8a" fill-opacity="0.35" stroke="#555" stroke-width="0.41" stroke-opacity="0.48"/>
<ellipse cx="90.7" cy="261.96" rx="2.75" ry="1.87" fill="#767676" fill-opacity="0.35" stroke="#555" stroke-width="0.58" stroke-opacity="0.28"/>
<ellipse cx="40.04" cy="240.1" rx="3.09" ry="2.94" fill="#6e6e6e" fill-opacity="0.35" stroke="#555" stroke-width="0.65" stroke-opacity="0.37"/>
<ellipse cx="78.39" cy="271.55" rx="6.47" ry="6.76" fill="#7f7f7f" fill-opacity="0.35" stroke="#555" stroke-width="0.52" stroke-opacity="0.27"/>
<ellipse cx="100.56" cy="296.72" rx="2.94" ry="3.19" fill="#8a8a8a" fill-opacity="0.35" stroke="#555" stroke-width="0.68" stroke-opacity="0.25"/>
<ellipse cx="75.6" cy="274.95" rx="3.86" ry="2.71" fill="#7f7f7f" fill-opacity="0.35" stroke="#555" stroke-width="0.59" stroke-opacity="0.29"/>
<ellipse cx="26.21" cy="244.76" rx="5.22" ry="6.24" fill="#8a8a8a" fill-opacity="0.35" stroke="#555" stroke-width="0.52" stroke-opacity="0.27"/>
<ellipse cx="20.02" cy="282.97" rx="4.82" ry="4.68" fill="#7f7f7f" fill-opacity="0.35" stroke="#555" stroke-width="0.47" stroke-opacity="0.43"/>
<ellipse cx="125.16" cy="288.52" rx="2.65" ry="2.19" fill="#6e6e6e" fill-opacity="0.35" stroke="#555" stroke-width="0.42" stroke-opacity="0.44"/>
<ellipse cx="91.34" cy="235.14" rx="5.26" ry="4.48" fill="#8a8a8a" fill-opacity="0.35" stroke="#555" stroke-width="0.44" stroke-opacity="0.31"/>
<ellipse cx="48.35" cy="236.23" rx="5.16" ry="3.59" fill="#8a8a8a" fill-opacity="0.35" stroke="#555" stroke-width="0.37" stroke-opacity="0.37"/>
<ellipse cx="87.69" cy="234.67" rx="4.45" ry="2.75" fill="#6e6e6e" fill-opacity="0.35" stroke="#555" stroke-width="0.43" stroke-opacity="0.45"/>
<ellipse cx="70.11" cy="276.76" rx="4.27" ry="3.67" fill="#8a8a8a" fill-opacity="0.35" stroke="#555" stroke-width="0.47" stroke-opacity="0.47"/>
<ellipse cx="112.65" cy="232.42" rx="4.02" ry="3.96" fill="#767676" fill-opacity="0.35" stroke="#555" stroke-width="0.65" stroke-opacity="0.49"/>
<ellipse cx="89.72" cy="275.82" rx="3.62" ry="4" fill="#8a8a8a" fill-opacity="0.35" stroke="#555" stroke-width="0.42" stroke-opacity="0.32"/>
<ellipse cx="35.85" cy="288.83" rx="4.54" ry="4.62" fill="#767676" fill-opacity="0.35" stroke="#555" stroke-width="0.69" stroke-opacity="0.3"/>
<ellipse cx="64.61" cy="291.25" rx="5.55" ry="4.62" fill="#767676" fill-opacity="0.35" stroke="#555" stroke-width="0.6" stroke-opacity="0.27"/>
<ellipse cx="124.68" cy="254.8" rx="2.72" ry="2.49" fill="#767676" fill-opacity="0.35" stroke="#555" stroke-width="0.42" stroke-opacity="0.34"/>
<ellipse cx="128.39" cy="231.84" rx="3.78" ry="4.01" fill="#6e6e6e" fill-opacity="0.35" stroke="#555" stroke-width="0.68" stroke-opacity="0.42"/>
<ellipse cx="111.36" cy="287.91" rx="2.89" ry="1.85" fill="#767676" fill-opacity="0.35" stroke="#555" stroke-width="0.44" stroke-opacity="0.33"/>
<ellipse cx="53.75" cy="293.86" rx="4.8" ry="4.39" fill="#8a8a8a" fill-opacity="0.35" stroke="#555" stroke-width="0.46" stroke-opacity="0.42"/>
<ellipse cx="109.76" cy="235.35" rx="3.44" ry="3.12" fill="#8a8a8a" fill-opacity="0.35" stroke="#555" stroke-width="0.59" stroke-opacity="0.25"/>
<ellipse cx="45.57" cy="239.82" rx="3.76" ry="4.26" fill="#8a8a8a" fill-opacity="0.35" stroke="#555" stroke-width="0.39" stroke-opacity="0.48"/>
<ellipse cx="113.45" cy="294.28" rx="3.14" ry="2.42" fill="#7f7f7f" fill-opacity="0.35" stroke="#555" stroke-width="0.47" stroke-opacity="0.45"/>
<ellipse cx="53.07" cy="268.6" rx="6.01" ry="7.07" fill="#8a8a8a" fill-opacity="0.35" stroke="#555" stroke-width="0.67" stroke-opacity="0.37"/>
<ellipse cx="49.94" cy="268.71" rx="2.87" ry="3.14" fill="#8a8a8a" fill-opacity="0.35" stroke="#555" stroke-width="0.54" stroke-opacity="0.36"/>
<ellipse cx="47.29" cy="248.39" rx="3.11" ry="2.91" fill="#8a8a8a" fill-opacity="0.35" stroke="#555" stroke-width="0.63" stroke-opacity="0.38"/>
<ellipse cx="25.37" cy="254.9" rx="4.02" ry="4.62" fill="#7f7f7f" fill-opacity="0.35" stroke="#555" stroke-width="0.5" stroke-opacity="0.38"/>
<ellipse cx="63.31" cy="263.01" rx="5.91" ry="5.11" fill="#767676" fill-opacity="0.35" stroke="#555" stroke-width="0.45" stroke-opacity="0.25"/>
<ellipse cx="26.86" cy="242.31" rx="4.31" ry="4.6" fill="#767676" fill-opacity="0.35" stroke="#555" stroke-width="0.55" stroke-opacity="0.45"/>
<ellipse cx="48.48" cy="240.31" rx="5.55" ry="3.87" fill="#8a8a8a" fill-opacity="0.35" stroke="#555" stroke-width="0.54" stroke-opacity="0.4"/>
<ellipse cx="40.43" cy="285.69" rx="5.45" ry="4.74" fill="#767676" fill-opacity="0.35" stroke="#555" stroke-width="0.62" stroke-opacity="0.42"/>
<ellipse cx="69.91" cy="286.14" rx="4.2" ry="4.48" fill="#767676" fill-opacity="0.35" stroke="#555" stroke-width="0.62" stroke-opacity="0.31"/>
<ellipse cx="79.1" cy="278.17" rx="4.79" ry="4.61" fill="#767676" fill-opacity="0.35" stroke="#555" stroke-width="0.56" stroke-opacity="0.31"/>
<ellipse cx="70.98" cy="286.69" rx="6.43" ry="4.33" fill="#767676" fill-opacity="0.35" stroke="#555" stroke-width="0.47" stroke-opacity="0.34"/>
<ellipse cx="129.86" cy="241.19" rx="4.7" ry="4.24" fill="#6e6e6e" fill-opacity="0.35" stroke="#555" stroke-width="0.39" stroke-opacity="0.42"/>
<ellipse cx="100.55" cy="247.65" rx="3.02" ry="2.49" fill="#8a8a8a" fill-opacity="0.35" stroke="#555" stroke-width="0.35" stroke-opacity="0.29"/>
<ellipse cx="133.41" cy="254.62" rx="4.43" ry="3.1" fill="#767676" fill-opacity="0.35" stroke="#555" stroke-width="0.6" stroke-opacity="0.32"/>
<ellipse cx="31.41" cy="243.36" rx="5.36" ry="5.45" fill="#8a8a8a" fill-opacity="0.35" stroke="#555" stroke-width="0.59" stroke-opacity="0.38"/>
<ellipse cx="55.27" cy="285.13" rx="3.79" ry="4.2" fill="#6e6e6e" fill-opacity="0.35" stroke="#555" stroke-width="0.56" stroke-opacity="0.34"/>
<ellipse cx="18.47" cy="267.83" rx="6.36" ry="5.39" fill="#8a8a8a" fill-opacity="0.35" stroke="#555" stroke-width="0.68" stroke-opacity="0.44"/>
<ellipse cx="28.3" cy="289.98" rx="6.38" ry="4.84" fill="#8a8a8a" fill-opacity="0.35" stroke="#555" stroke-width="0.56" stroke-opacity="0.32"/>
<ellipse cx="101.86" cy="254.1" rx="4.09" ry="2.69" fill="#6e6e6e" fill-opacity="0.35" stroke="#555" stroke-width="0.59" stroke-opacity="0.38"/>
<ellipse cx="35.74" cy="296.59" rx="6.18" ry="5.38" fill="#7f7f7f" fill-opacity="0.35" stroke="#555" stroke-width="0.5" stroke-opacity="0.34"/>
<ellipse cx="20.52" cy="264.49" rx="3.35" ry="2.23" fill="#767676" fill-opacity="0.35" stroke="#555" stroke-width="0.68" stroke-opacity="0.5"/>
<ellipse cx="30.09" cy="263.36" rx="3.31" ry="2.79" fill="#767676" fill-opacity="0.35" stroke="#555" stroke-width="0.51" stroke-opacity="0.29"/>
<ellipse cx="19.56" cy="239.5" rx="3.54" ry="3.73" fill="#7f7f7f" fill-opacity="0.35" stroke="#555" stroke-width="0.57" stroke-opacity="0.33"/>
<ellipse cx="94.72" cy="281.61" rx="3.97" ry="2.58" fill="#7f7f7f" fill-opacity="0.35" stroke="#555" stroke-width="0.69" stroke-opacity="0.29"/>
<ellipse cx="66.51" cy="242.13" rx="5.74" ry="6.11" fill="#8a8a8a" fill-opacity="0.35" stroke="#555" stroke-width="0.61" stroke-opacity="0.25"/>
<ellipse cx="122.15" cy="286.84" rx="4.6" ry="5.2" fill="#7f7f7f" fill-opacity="0.35" stroke="#555" stroke-width="0.42" stroke-opacity="0.3"/>
<ellipse cx="102.91" cy="234.82" rx="2.61" ry="2.34" fill="#8a8a8a" fill-opacity="0.35" stroke="#555" stroke-width="0.43" stroke-opacity="0.41"/>
<g filter="url(#emblur)" fill="#f4f4f4">
<polyline points="17.73,257.24 31.1,255.99 46.91,256.7 61.06,256.42 74.88,256.59 89.54,255.29 105.19,256.5 120.04,255.92 133.76,256.29" fill="none" stroke="#e2e2e2" stroke-width="0.85" opacity="0.55"/>
<ellipse cx="27" cy="256.76" rx="1.47" ry="1.61" transform="rotate(4.51 27 256.76)" opacity="0.88"/>
<ellipse cx="32.25" cy="256.86" rx="1.02" ry="0.62" transform="rotate(7.56 32.25 256.86)" opacity="0.78"/>
<ellipse cx="41.82" cy="255.92" rx="2.47" ry="0.69" transform="rotate(14.88 41.82 255.92)" opacity="0.7"/>
<ellipse cx="49.71" cy="255.78" rx="1.89" ry="0.95" transform="rotate(27.94 49.71 255.78)" opacity="0.52"/>
<ellipse cx="54.44" cy="256.23" rx="2.28" ry="1.03" transform="rotate(-9.21 54.44 256.23)" opacity="0.73"/>
<ellipse cx="63.96" cy="255.38" rx="1.55" ry="1.69" transform="rotate(-27.14 63.96 255.38)" opacity="0.83"/>
<ellipse cx="82.16" cy="255.51" rx="2.74" ry="0.98" transform="rotate(-11.69 82.16 255.51)" opacity="0.63"/>
<ellipse cx="89.27" cy="256.29" rx="1.1" ry="1.32" transform="rotate(18.5 89.27 256.29)" opacity="0.71"/>
<ellipse cx="104.26" cy="256.53" rx="1.42" ry="1.27" transform="rotate(-4.06 104.26 256.53)" opacity="0.64"/>
<ellipse cx="125.35" cy="256.03" rx="2.73" ry="0.98" transform="rotate(14.88 125.35 256.03)" opacity="0.89"/>
<polyline points="16.22,278.1 31.38,277.86 46.06,278.9 60.65,277.22 75.12,277.53 89.37,277.97 104.62,277.53 119.77,277.47 134.11,277.49" fill="none" stroke="#e2e2e2" stroke-width="0.8" opacity="0.55"/>
<ellipse cx="19.14" cy="277.55" rx="2.06" ry="1.03" transform="rotate(-19.37 19.14 277.55)" opacity="0.54"/>
<ellipse cx="27.62" cy="278.75" rx="1.96" ry="0.71" transform="rotate(-20.9 27.62 278.75)" opacity="0.63"/>
<ellipse cx="31.94" cy="278.07" rx="1.51" ry="0.93" transform="rotate(6.73 31.94 278.07)" opacity="0.8"/>
<ellipse cx="37.03" cy="277.39" rx="2.83" ry="0.77" transform="rotate(24.66 37.03 277.39)" opacity="0.77"/>
<ellipse cx="45.84" cy="277.73" rx="3" ry="1.16" transform="rotate(5.16 45.84 277.73)" opacity="0.56"/>
<ellipse cx="67.35" cy="277.64" rx="2.07" ry="1.64" transform="rotate(-14.56 67.35 277.64)" opacity="0.55"/>
<ellipse cx="71.78" cy="277.94" rx="2.45" ry="0.67" transform="rotate(13.15 71.78 277.94)" opacity="0.85"/>
<ellipse cx="75.57" cy="278.49" rx="0.84" ry="1.18" transform="rotate(22.33 75.57 278.49)" opacity="0.83"/>
<ellipse cx="90.79" cy="277.86" rx="1.05" ry="1.44" transform="rotate(5.79 90.79 277.86)" opacity="0.92"/>
<ellipse cx="95.97" cy="278.2" rx="1.84" ry="1.37" transform="rotate(22.97 95.97 278.2)" opacity="0.64"/>
<ellipse cx="106.75" cy="277.41" rx="1.96" ry="1.4" transform="rotate(-16.83 106.75 277.41)" opacity="0.69"/>
<ellipse cx="134.68" cy="277.67" rx="2.21" ry="0.76" transform="rotate(20.32 134.68 277.67)" opacity="0.69"/>
<polyline points="57.54,231.74 57.55,240.81 58.8,248.59 59.45,257.01 59.53,265.73 58.72,274.86 58.96,282.56 59.76,291.58 59.33,300.7" fill="none" stroke="#e2e2e2" stroke-width="0.75" opacity="0.55"/>
<ellipse cx="59.07" cy="258.44" rx="1.57" ry="1.7" transform="rotate(58.88 59.07 258.44)" opacity="0.7"/>
<ellipse cx="60.22" cy="277.64" rx="1.9" ry="1.22" transform="rotate(67.7 60.22 277.64)" opacity="0.51"/>
<ellipse cx="59.88" cy="283.87" rx="0.8" ry="0.66" transform="rotate(101.97 59.88 283.87)" opacity="0.86"/>
<ellipse cx="58.98" cy="292.58" rx="2.6" ry="1.35" transform="rotate(114.29 58.98 292.58)" opacity="0.89"/>
<polyline points="98.26,232.25 99.04,241.28 98.94,249.7 99.62,257.89 99.22,265.96 99.24,274.55 99.6,283.11 99.86,290.75 100.7,299.21" fill="none" stroke="#e2e2e2" stroke-width="0.71" opacity="0.55"/>
<ellipse cx="98.28" cy="240.69" rx="2.15" ry="1.69" transform="rotate(92.03 98.28 240.69)" opacity="0.95"/>
<ellipse cx="99.92" cy="260.32" rx="2.77" ry="1.64" transform="rotate(109.5 99.92 260.32)" opacity="0.94"/>
<ellipse cx="99.13" cy="273.93" rx="1.51" ry="0.65" transform="rotate(73.62 99.13 273.93)" opacity="0.61"/>
<ellipse cx="100.72" cy="286.73" rx="1.03" ry="1.61" transform="rotate(58.03 100.72 286.73)" opacity="0.62"/>
<ellipse cx="99.78" cy="289.75" rx="2.44" ry="1.34" transform="rotate(60.54 99.78 289.75)" opacity="0.69"/>
<ellipse cx="100.14" cy="296.01" rx="1.37" ry="1.37" transform="rotate(88.92 100.14 296.01)" opacity="0.9"/>
<polyline points="113.33,232.04 113.79,235.53 114.36,238.26 113.36,242.25 115.14,245.47 115.19,248.83 114.56,252.32 116.09,256.61 115.42,260.06" fill="none" stroke="#e2e2e2" stroke-width="0.71" opacity="0.55"/>
<ellipse cx="114.7" cy="251.18" rx="0.93" ry="1.7" transform="rotate(63.26 114.7 251.18)" opacity="0.7"/>
<ellipse cx="116.04" cy="255.09" rx="1.74" ry="0.64" transform="rotate(82.5 116.04 255.09)" opacity="0.75"/>
<ellipse cx="39.05" cy="242.95" rx="1.65" ry="0.66" transform="rotate(-11.33 39.05 242.95)" opacity="0.85"/>
<ellipse cx="43.13" cy="243.65" rx="2" ry="1.05" transform="rotate(18.47 43.13 243.65)" opacity="0.75"/>
<ellipse cx="122.59" cy="270.46" rx="1.14" ry="0.67" transform="rotate(45.73 122.59 270.46)" opacity="0.59"/>
<ellipse cx="125.93" cy="282.2" rx="2.21" ry="0.81" transform="rotate(97.82 125.93 282.2)" opacity="0.92"/>
<ellipse cx="74.45" cy="292.47" rx="2.73" ry="1" transform="rotate(94.35 74.45 292.47)" opacity="0.58"/>
<ellipse cx="76.75" cy="298.77" rx="2.78" ry="0.87" transform="rotate(60.89 76.75 298.77)" opacity="0.66"/>
<ellipse cx="37.38" cy="250.49" rx="0.87" ry="0.8" opacity="0.47"/>
<ellipse cx="28" cy="239.49" rx="0.45" ry="0.41" opacity="0.52"/>
<ellipse cx="128.58" cy="283.71" rx="0.52" ry="0.63" opacity="0.71"/>
<ellipse cx="51.2" cy="274.93" rx="0.41" ry="0.47" opacity="0.72"/>
<ellipse cx="17.64" cy="259.27" rx="0.74" ry="0.41" opacity="0.72"/>
<ellipse cx="66.95" cy="265.73" rx="0.42" ry="0.79" opacity="0.67"/>
<ellipse cx="47.35" cy="265.19" rx="0.71" ry="0.58" opacity="0.45"/>
<ellipse cx="29.35" cy="275.63" rx="0.85" ry="0.45" opacity="0.56"/>
<ellipse cx="43.66" cy="271.74" rx="0.7" ry="0.57" opacity="0.51"/>
<ellipse cx="95.97" cy="295.92" rx="0.43" ry="0.46" opacity="0.65"/>
</g>
</g>
<circle cx="83.6" cy="166.2" r="2.3" fill="#0a0a0a"/>
<polygon points="34.6,160.4 37.9,161.5 35.4,164.0" fill="#e0202a"/>
<line x1="36.5" y1="162.5" x2="42.8" y2="173.5" stroke="#e0202a" stroke-width="0.9"/>
<circle cx="43.2" cy="174.5" r="1.7" fill="#e0202a"/>
<text x="53.8" y="188.3" font-size="4.5" text-anchor="middle" fill="#d04040" opacity="0.8">M</text>
<text x="77.6" y="188.3" font-size="4.5" text-anchor="middle" fill="#d04040" opacity="0.8">M</text>
<line x1="120" y1="213.3" x2="131.2" y2="213.3" stroke="#111" stroke-width="1"/>
<text x="42.2" y="239.8" font-size="4.5" text-anchor="middle" fill="#d04040" opacity="0.8">M</text>
<circle cx="45.6" cy="258.0" r="1.8" fill="#e0202a"/>
<line x1="45.6" y1="258.5" x2="50.4" y2="276" stroke="#e0202a" stroke-width="0.9"/>
<circle cx="50.6" cy="277.5" r="1.8" fill="#e0202a"/>
<line x1="30" y1="258" x2="75" y2="258" stroke="#33aa99" stroke-width="0.4" opacity="0.5"/>
<line x1="30" y1="276" x2="75" y2="276" stroke="#33aa99" stroke-width="0.4" opacity="0.5"/>
<text x="89.5" y="275.3" font-size="4.5" text-anchor="middle" fill="#d04040" opacity="0.8">M</text>
<line x1="120" y1="297.8" x2="131.2" y2="297.8" stroke="#111" stroke-width="1"/>
<text x="58" y="145" font-size="8.4" fill="#2b9fd8">hG6PD<tspan font-size="5.4" dy="1.8">ND</tspan></text>
<text x="54.4" y="227.3" font-size="8.4" fill="#f0961e">hG6PD<tspan font-size="5.4" dy="1.8">Med−</tspan></text>
<g shape-rendering="crispEdges">
<rect x="152.7" y="153" width="2.58" height="2.7" fill="#fcd5bf"/>
<rect x="155.23" y="153" width="2.58" height="2.7" fill="#cde3ef"/>
<rect x="157.77" y="153" width="2.58" height="2.7" fill="#aed3e6"/>
<rect x="160.3" y="153" width="2.58" height="2.7" fill="#edf2f5"/>
<rect x="162.84" y="153" width="2.58" height="2.7" fill="#f6af8f"/>
<rect x="165.37" y="153" width="2.58" height="2.7" fill="#f0f4f6"/>
<rect x="167.91" y="153" width="2.58" height="2.7" fill="#dbeaf2"/>
<rect x="170.44" y="153" width="2.58" height="2.7" fill="#93c6de"/>
<rect x="172.97" y="153" width="2.58" height="2.7" fill="#f0f4f6"/>
<rect x="175.51" y="153" width="2.58" height="2.7" fill="#dbeaf2"/>
<rect x="178.04" y="153" width="2.58" height="2.7" fill="#d3e6f0"/>
<rect x="180.58" y="153" width="2.58" height="2.7" fill="#f8f3f0"/>
<rect x="183.11" y="153" width="2.58" height="2.7" fill="#f3f5f6"/>
<rect x="185.65" y="153" width="2.58" height="2.7" fill="#dbeaf2"/>
<rect x="188.18" y="153" width="2.58" height="2.7" fill="#fce1d1"/>
<rect x="190.72" y="153" width="2.58" height="2.7" fill="#faccb3"/>
<rect x="193.25" y="153" width="2.58" height="2.7" fill="#f5a987"/>
<rect x="195.78" y="153" width="2.58" height="2.7" fill="#fbe5d8"/>
<rect x="198.32" y="153" width="2.58" height="2.7" fill="#f9f0eb"/>
<rect x="200.85" y="153" width="2.58" height="2.7" fill="#ebf1f5"/>
<rect x="203.39" y="153" width="2.58" height="2.7" fill="#f8f4f2"/>
<rect x="205.92" y="153" width="2.58" height="2.7" fill="#fbe6d9"/>
<rect x="208.46" y="153" width="2.58" height="2.7" fill="#fdddcb"/>
<rect x="210.99" y="153" width="2.58" height="2.7" fill="#fce2d3"/>
<rect x="213.53" y="153" width="2.58" height="2.7" fill="#f5aa88"/>
<rect x="216.06" y="153" width="2.58" height="2.7" fill="#fce1d1"/>
<rect x="218.59" y="153" width="2.58" height="2.7" fill="#b2182b"/>
<rect x="221.13" y="153" width="2.58" height="2.7" fill="#fbe4d6"/>
<rect x="223.66" y="153" width="2.58" height="2.7" fill="#f9eee8"/>
<rect x="226.2" y="153" width="2.58" height="2.7" fill="#f9ece4"/>
<rect x="228.73" y="153" width="2.58" height="2.7" fill="#faeae1"/>
<rect x="231.27" y="153" width="2.58" height="2.7" fill="#ef9878"/>
<rect x="152.7" y="155.65" width="2.58" height="2.7" fill="#a9d1e5"/>
<rect x="155.23" y="155.65" width="2.58" height="2.7" fill="#3884bb"/>
<rect x="157.77" y="155.65" width="2.58" height="2.7" fill="#337eb8"/>
<rect x="160.3" y="155.65" width="2.58" height="2.7" fill="#faeae1"/>
<rect x="162.84" y="155.65" width="2.58" height="2.7" fill="#4c99c6"/>
<rect x="165.37" y="155.65" width="2.58" height="2.7" fill="#acd2e5"/>
<rect x="167.91" y="155.65" width="2.58" height="2.7" fill="#90c3dd"/>
<rect x="170.44" y="155.65" width="2.58" height="2.7" fill="#b5d7e8"/>
<rect x="172.97" y="155.65" width="2.58" height="2.7" fill="#f1f4f6"/>
<rect x="175.51" y="155.65" width="2.58" height="2.7" fill="#fddac6"/>
<rect x="178.04" y="155.65" width="2.58" height="2.7" fill="#86bdda"/>
<rect x="180.58" y="155.65" width="2.58" height="2.7" fill="#deebf2"/>
<rect x="183.11" y="155.65" width="2.58" height="2.7" fill="#7fb9d8"/>
<rect x="185.65" y="155.65" width="2.58" height="2.7" fill="#cce2ee"/>
<rect x="188.18" y="155.65" width="2.58" height="2.7" fill="#aed3e6"/>
<rect x="190.72" y="155.65" width="2.58" height="2.7" fill="#9bc9e0"/>
<rect x="193.25" y="155.65" width="2.58" height="2.7" fill="#ee9878"/>
<rect x="195.78" y="155.65" width="2.58" height="2.7" fill="#fbe5d9"/>
<rect x="198.32" y="155.65" width="2.58" height="2.7" fill="#f9eee7"/>
<rect x="200.85" y="155.65" width="2.58" height="2.7" fill="#facbb3"/>
<rect x="203.39" y="155.65" width="2.58" height="2.7" fill="#f8f0ec"/>
<rect x="205.92" y="155.65" width="2.58" height="2.7" fill="#f9ebe3"/>
<rect x="208.46" y="155.65" width="2.58" height="2.7" fill="#faebe3"/>
<rect x="210.99" y="155.65" width="2.58" height="2.7" fill="#fcd8c3"/>
<rect x="213.53" y="155.65" width="2.58" height="2.7" fill="#fcd6c1"/>
<rect x="216.06" y="155.65" width="2.58" height="2.7" fill="#f6b393"/>
<rect x="218.59" y="155.65" width="2.58" height="2.7" fill="#e37d63"/>
<rect x="221.13" y="155.65" width="2.58" height="2.7" fill="#c7433f"/>
<rect x="223.66" y="155.65" width="2.58" height="2.7" fill="#e5eff4"/>
<rect x="226.2" y="155.65" width="2.58" height="2.7" fill="#fac8af"/>
<rect x="228.73" y="155.65" width="2.58" height="2.7" fill="#e8f0f4"/>
<rect x="231.27" y="155.65" width="2.58" height="2.7" fill="#fae9df"/>
<rect x="152.7" y="158.29" width="2.58" height="2.7" fill="#ddebf2"/>
<rect x="155.23" y="158.29" width="2.58" height="2.7" fill="#bddbea"/>
<rect x="157.77" y="158.29" width="2.58" height="2.7" fill="#95c7df"/>
<rect x="160.3" y="158.29" width="2.58" height="2.7" fill="#fcd7c2"/>
<rect x="162.84" y="158.29" width="2.58" height="2.7" fill="#dbeaf2"/>
<rect x="165.37" y="158.29" width="2.58" height="2.7" fill="#d5e7f1"/>
<rect x="167.91" y="158.29" width="2.58" height="2.7" fill="#ddebf2"/>
<rect x="170.44" y="158.29" width="2.58" height="2.7" fill="#dae9f2"/>
<rect x="172.97" y="158.29" width="2.58" height="2.7" fill="#d1e5f0"/>
<rect x="175.51" y="158.29" width="2.58" height="2.7" fill="#fbe7db"/>
<rect x="178.04" y="158.29" width="2.58" height="2.7" fill="#e6eff4"/>
<rect x="180.58" y="158.29" width="2.58" height="2.7" fill="#8ec2dd"/>
<rect x="183.11" y="158.29" width="2.58" height="2.7" fill="#c2deec"/>
<rect x="185.65" y="158.29" width="2.58" height="2.7" fill="#f0f4f6"/>
<rect x="188.18" y="158.29" width="2.58" height="2.7" fill="#76b3d4"/>
<rect x="190.72" y="158.29" width="2.58" height="2.7" fill="#98c8e0"/>
<rect x="193.25" y="158.29" width="2.58" height="2.7" fill="#e58267"/>
<rect x="195.78" y="158.29" width="2.58" height="2.7" fill="#f7f7f6"/>
<rect x="198.32" y="158.29" width="2.58" height="2.7" fill="#e58267"/>
<rect x="200.85" y="158.29" width="2.58" height="2.7" fill="#db6b56"/>
<rect x="203.39" y="158.29" width="2.58" height="2.7" fill="#f7b99b"/>
<rect x="205.92" y="158.29" width="2.58" height="2.7" fill="#d6604d"/>
<rect x="208.46" y="158.29" width="2.58" height="2.7" fill="#fcd6c1"/>
<rect x="210.99" y="158.29" width="2.58" height="2.7" fill="#ecf2f5"/>
<rect x="213.53" y="158.29" width="2.58" height="2.7" fill="#f9c3a8"/>
<rect x="216.06" y="158.29" width="2.58" height="2.7" fill="#eb9173"/>
<rect x="218.59" y="158.29" width="2.58" height="2.7" fill="#facbb2"/>
<rect x="221.13" y="158.29" width="2.58" height="2.7" fill="#fcd7c2"/>
<rect x="223.66" y="158.29" width="2.58" height="2.7" fill="#edf2f5"/>
<rect x="226.2" y="158.29" width="2.58" height="2.7" fill="#f7b89a"/>
<rect x="228.73" y="158.29" width="2.58" height="2.7" fill="#faeae0"/>
<rect x="231.27" y="158.29" width="2.58" height="2.7" fill="#e8f0f4"/>
<rect x="152.7" y="160.94" width="2.58" height="2.7" fill="#e9f1f5"/>
<rect x="155.23" y="160.94" width="2.58" height="2.7" fill="#d7e8f1"/>
<rect x="157.77" y="160.94" width="2.58" height="2.7" fill="#569fc9"/>
<rect x="160.3" y="160.94" width="2.58" height="2.7" fill="#d9e9f2"/>
<rect x="162.84" y="160.94" width="2.58" height="2.7" fill="#e1edf3"/>
<rect x="165.37" y="160.94" width="2.58" height="2.7" fill="#ebf1f5"/>
<rect x="167.91" y="160.94" width="2.58" height="2.7" fill="#9ccae1"/>
<rect x="170.44" y="160.94" width="2.58" height="2.7" fill="#c1ddec"/>
<rect x="172.97" y="160.94" width="2.58" height="2.7" fill="#8cc1dc"/>
<rect x="175.51" y="160.94" width="2.58" height="2.7" fill="#f8f1ed"/>
<rect x="178.04" y="160.94" width="2.58" height="2.7" fill="#edf2f5"/>
<rect x="180.58" y="160.94" width="2.58" height="2.7" fill="#b1d5e7"/>
<rect x="183.11" y="160.94" width="2.58" height="2.7" fill="#76b3d4"/>
<rect x="185.65" y="160.94" width="2.58" height="2.7" fill="#dceaf2"/>
<rect x="188.18" y="160.94" width="2.58" height="2.7" fill="#c8e0ed"/>
<rect x="190.72" y="160.94" width="2.58" height="2.7" fill="#fae8de"/>
<rect x="193.25" y="160.94" width="2.58" height="2.7" fill="#f3a280"/>
<rect x="195.78" y="160.94" width="2.58" height="2.7" fill="#f6f7f7"/>
<rect x="198.32" y="160.94" width="2.58" height="2.7" fill="#fddbc7"/>
<rect x="200.85" y="160.94" width="2.58" height="2.7" fill="#f5ac8b"/>
<rect x="203.39" y="160.94" width="2.58" height="2.7" fill="#f8c0a4"/>
<rect x="205.92" y="160.94" width="2.58" height="2.7" fill="#f7ba9c"/>
<rect x="208.46" y="160.94" width="2.58" height="2.7" fill="#f8bb9e"/>
<rect x="210.99" y="160.94" width="2.58" height="2.7" fill="#f6b495"/>
<rect x="213.53" y="160.94" width="2.58" height="2.7" fill="#f19f7e"/>
<rect x="216.06" y="160.94" width="2.58" height="2.7" fill="#fcdecc"/>
<rect x="218.59" y="160.94" width="2.58" height="2.7" fill="#f7f6f5"/>
<rect x="221.13" y="160.94" width="2.58" height="2.7" fill="#f6af8e"/>
<rect x="223.66" y="160.94" width="2.58" height="2.7" fill="#f8f1ed"/>
<rect x="226.2" y="160.94" width="2.58" height="2.7" fill="#f9c0a5"/>
<rect x="228.73" y="160.94" width="2.58" height="2.7" fill="#d0e4f0"/>
<rect x="231.27" y="160.94" width="2.58" height="2.7" fill="#f9ede5"/>
<rect x="152.7" y="163.59" width="2.58" height="2.7" fill="#b8d8e9"/>
<rect x="155.23" y="163.59" width="2.58" height="2.7" fill="#9fcce2"/>
<rect x="157.77" y="163.59" width="2.58" height="2.7" fill="#6aabd0"/>
<rect x="160.3" y="163.59" width="2.58" height="2.7" fill="#76b3d4"/>
<rect x="162.84" y="163.59" width="2.58" height="2.7" fill="#c3deec"/>
<rect x="165.37" y="163.59" width="2.58" height="2.7" fill="#2166ac"/>
<rect x="167.91" y="163.59" width="2.58" height="2.7" fill="#84bcd9"/>
<rect x="170.44" y="163.59" width="2.58" height="2.7" fill="#539dc8"/>
<rect x="172.97" y="163.59" width="2.58" height="2.7" fill="#c3deec"/>
<rect x="175.51" y="163.59" width="2.58" height="2.7" fill="#83bcd9"/>
<rect x="178.04" y="163.59" width="2.58" height="2.7" fill="#82bbd8"/>
<rect x="180.58" y="163.59" width="2.58" height="2.7" fill="#4190c2"/>
<rect x="183.11" y="163.59" width="2.58" height="2.7" fill="#93c6de"/>
<rect x="185.65" y="163.59" width="2.58" height="2.7" fill="#66a9cf"/>
<rect x="188.18" y="163.59" width="2.58" height="2.7" fill="#9ccae1"/>
<rect x="190.72" y="163.59" width="2.58" height="2.7" fill="#d0e4f0"/>
<rect x="193.25" y="163.59" width="2.58" height="2.7" fill="#e0775f"/>
<rect x="195.78" y="163.59" width="2.58" height="2.7" fill="#faeae0"/>
<rect x="198.32" y="163.59" width="2.58" height="2.7" fill="#f8f0eb"/>
<rect x="200.85" y="163.59" width="2.58" height="2.7" fill="#f5ae8d"/>
<rect x="203.39" y="163.59" width="2.58" height="2.7" fill="#f09d7c"/>
<rect x="205.92" y="163.59" width="2.58" height="2.7" fill="#f5ad8d"/>
<rect x="208.46" y="163.59" width="2.58" height="2.7" fill="#ec9273"/>
<rect x="210.99" y="163.59" width="2.58" height="2.7" fill="#f4a582"/>
<rect x="213.53" y="163.59" width="2.58" height="2.7" fill="#f5ad8c"/>
<rect x="216.06" y="163.59" width="2.58" height="2.7" fill="#e6866a"/>
<rect x="218.59" y="163.59" width="2.58" height="2.7" fill="#d86651"/>
<rect x="221.13" y="163.59" width="2.58" height="2.7" fill="#fac8af"/>
<rect x="223.66" y="163.59" width="2.58" height="2.7" fill="#fac7ad"/>
<rect x="226.2" y="163.59" width="2.58" height="2.7" fill="#f6b292"/>
<rect x="228.73" y="163.59" width="2.58" height="2.7" fill="#f8f1ed"/>
<rect x="231.27" y="163.59" width="2.58" height="2.7" fill="#fbe3d5"/>
<rect x="152.7" y="166.24" width="2.58" height="2.7" fill="#c5dfec"/>
<rect x="155.23" y="166.24" width="2.58" height="2.7" fill="#e1edf3"/>
<rect x="157.77" y="166.24" width="2.58" height="2.7" fill="#5ca3cc"/>
<rect x="160.3" y="166.24" width="2.58" height="2.7" fill="#f3f5f6"/>
<rect x="162.84" y="166.24" width="2.58" height="2.7" fill="#eaf1f5"/>
<rect x="165.37" y="166.24" width="2.58" height="2.7" fill="#e3eef3"/>
<rect x="167.91" y="166.24" width="2.58" height="2.7" fill="#d6e8f1"/>
<rect x="170.44" y="166.24" width="2.58" height="2.7" fill="#e6eff4"/>
<rect x="172.97" y="166.24" width="2.58" height="2.7" fill="#fce1d2"/>
<rect x="175.51" y="166.24" width="2.58" height="2.7" fill="#fae8de"/>
<rect x="178.04" y="166.24" width="2.58" height="2.7" fill="#4896c5"/>
<rect x="180.58" y="166.24" width="2.58" height="2.7" fill="#d4e6f0"/>
<rect x="183.11" y="166.24" width="2.58" height="2.7" fill="#d7e8f1"/>
<rect x="185.65" y="166.24" width="2.58" height="2.7" fill="#d4e6f1"/>
<rect x="188.18" y="166.24" width="2.58" height="2.7" fill="#edf2f5"/>
<rect x="190.72" y="166.24" width="2.58" height="2.7" fill="#d1e5f0"/>
<rect x="193.25" y="166.24" width="2.58" height="2.7" fill="#ee9878"/>
<rect x="195.78" y="166.24" width="2.58" height="2.7" fill="#f5a988"/>
<rect x="198.32" y="166.24" width="2.58" height="2.7" fill="#fce1d1"/>
<rect x="200.85" y="166.24" width="2.58" height="2.7" fill="#fbe6da"/>
<rect x="203.39" y="166.24" width="2.58" height="2.7" fill="#f8bc9f"/>
<rect x="205.92" y="166.24" width="2.58" height="2.7" fill="#e37f65"/>
<rect x="208.46" y="166.24" width="2.58" height="2.7" fill="#fbe3d4"/>
<rect x="210.99" y="166.24" width="2.58" height="2.7" fill="#f5a987"/>
<rect x="213.53" y="166.24" width="2.58" height="2.7" fill="#fddbc7"/>
<rect x="216.06" y="166.24" width="2.58" height="2.7" fill="#fae7db"/>
<rect x="218.59" y="166.24" width="2.58" height="2.7" fill="#f3a380"/>
<rect x="221.13" y="166.24" width="2.58" height="2.7" fill="#ec9374"/>
<rect x="223.66" y="166.24" width="2.58" height="2.7" fill="#f5f6f7"/>
<rect x="226.2" y="166.24" width="2.58" height="2.7" fill="#f9f0eb"/>
<rect x="228.73" y="166.24" width="2.58" height="2.7" fill="#fae9e0"/>
<rect x="231.27" y="166.24" width="2.58" height="2.7" fill="#cd4f45"/>
<rect x="152.7" y="168.88" width="2.58" height="2.7" fill="#faeae0"/>
<rect x="155.23" y="168.88" width="2.58" height="2.7" fill="#cbe2ee"/>
<rect x="157.77" y="168.88" width="2.58" height="2.7" fill="#63a7ce"/>
<rect x="160.3" y="168.88" width="2.58" height="2.7" fill="#9dcae1"/>
<rect x="162.84" y="168.88" width="2.58" height="2.7" fill="#f9eee8"/>
<rect x="165.37" y="168.88" width="2.58" height="2.7" fill="#d1e5f0"/>
<rect x="167.91" y="168.88" width="2.58" height="2.7" fill="#8ac0db"/>
<rect x="170.44" y="168.88" width="2.58" height="2.7" fill="#a2cde2"/>
<rect x="172.97" y="168.88" width="2.58" height="2.7" fill="#97c8df"/>
<rect x="175.51" y="168.88" width="2.58" height="2.7" fill="#fbe6da"/>
<rect x="178.04" y="168.88" width="2.58" height="2.7" fill="#79b5d5"/>
<rect x="180.58" y="168.88" width="2.58" height="2.7" fill="#76b3d5"/>
<rect x="183.11" y="168.88" width="2.58" height="2.7" fill="#add3e6"/>
<rect x="185.65" y="168.88" width="2.58" height="2.7" fill="#90c3dd"/>
<rect x="188.18" y="168.88" width="2.58" height="2.7" fill="#c7e0ed"/>
<rect x="190.72" y="168.88" width="2.58" height="2.7" fill="#b2d5e7"/>
<rect x="193.25" y="168.88" width="2.58" height="2.7" fill="#e98c6f"/>
<rect x="195.78" y="168.88" width="2.58" height="2.7" fill="#fae9df"/>
<rect x="198.32" y="168.88" width="2.58" height="2.7" fill="#f5ad8c"/>
<rect x="200.85" y="168.88" width="2.58" height="2.7" fill="#8ac0db"/>
<rect x="203.39" y="168.88" width="2.58" height="2.7" fill="#da6a55"/>
<rect x="205.92" y="168.88" width="2.58" height="2.7" fill="#cb4942"/>
<rect x="208.46" y="168.88" width="2.58" height="2.7" fill="#c2deec"/>
<rect x="210.99" y="168.88" width="2.58" height="2.7" fill="#fbcdb5"/>
<rect x="213.53" y="168.88" width="2.58" height="2.7" fill="#d86450"/>
<rect x="216.06" y="168.88" width="2.58" height="2.7" fill="#f2a17f"/>
<rect x="218.59" y="168.88" width="2.58" height="2.7" fill="#e7866a"/>
<rect x="221.13" y="168.88" width="2.58" height="2.7" fill="#ee9878"/>
<rect x="223.66" y="168.88" width="2.58" height="2.7" fill="#e4eef4"/>
<rect x="226.2" y="168.88" width="2.58" height="2.7" fill="#deebf2"/>
<rect x="228.73" y="168.88" width="2.58" height="2.7" fill="#dae9f2"/>
<rect x="231.27" y="168.88" width="2.58" height="2.7" fill="#f09d7c"/>
<rect x="152.7" y="171.53" width="2.58" height="2.7" fill="#89bfdb"/>
<rect x="155.23" y="171.53" width="2.58" height="2.7" fill="#e7eff4"/>
<rect x="157.77" y="171.53" width="2.58" height="2.7" fill="#b1d5e7"/>
<rect x="160.3" y="171.53" width="2.58" height="2.7" fill="#3c8abe"/>
<rect x="162.84" y="171.53" width="2.58" height="2.7" fill="#f9ede6"/>
<rect x="165.37" y="171.53" width="2.58" height="2.7" fill="#b4d6e8"/>
<rect x="167.91" y="171.53" width="2.58" height="2.7" fill="#e6eff4"/>
<rect x="170.44" y="171.53" width="2.58" height="2.7" fill="#a8d0e4"/>
<rect x="172.97" y="171.53" width="2.58" height="2.7" fill="#f9c3a8"/>
<rect x="175.51" y="171.53" width="2.58" height="2.7" fill="#71b0d3"/>
<rect x="178.04" y="171.53" width="2.58" height="2.7" fill="#a0cce2"/>
<rect x="180.58" y="171.53" width="2.58" height="2.7" fill="#e5eff4"/>
<rect x="183.11" y="171.53" width="2.58" height="2.7" fill="#afd4e6"/>
<rect x="185.65" y="171.53" width="2.58" height="2.7" fill="#64a8ce"/>
<rect x="188.18" y="171.53" width="2.58" height="2.7" fill="#bad9e9"/>
<rect x="190.72" y="171.53" width="2.58" height="2.7" fill="#f3f5f6"/>
<rect x="193.25" y="171.53" width="2.58" height="2.7" fill="#ee9878"/>
<rect x="195.78" y="171.53" width="2.58" height="2.7" fill="#a3cde3"/>
<rect x="198.32" y="171.53" width="2.58" height="2.7" fill="#faeae0"/>
<rect x="200.85" y="171.53" width="2.58" height="2.7" fill="#fcd3bd"/>
<rect x="203.39" y="171.53" width="2.58" height="2.7" fill="#f9f0eb"/>
<rect x="205.92" y="171.53" width="2.58" height="2.7" fill="#fbccb4"/>
<rect x="208.46" y="171.53" width="2.58" height="2.7" fill="#e1edf3"/>
<rect x="210.99" y="171.53" width="2.58" height="2.7" fill="#e37f64"/>
<rect x="213.53" y="171.53" width="2.58" height="2.7" fill="#fdd8c4"/>
<rect x="216.06" y="171.53" width="2.58" height="2.7" fill="#f6ae8e"/>
<rect x="218.59" y="171.53" width="2.58" height="2.7" fill="#f2a17f"/>
<rect x="221.13" y="171.53" width="2.58" height="2.7" fill="#fce2d2"/>
<rect x="223.66" y="171.53" width="2.58" height="2.7" fill="#fae7dc"/>
<rect x="226.2" y="171.53" width="2.58" height="2.7" fill="#a7cfe4"/>
<rect x="228.73" y="171.53" width="2.58" height="2.7" fill="#d7e8f1"/>
<rect x="231.27" y="171.53" width="2.58" height="2.7" fill="#fbe6da"/>
<rect x="152.7" y="174.18" width="2.58" height="2.7" fill="#fae7dc"/>
<rect x="155.23" y="174.18" width="2.58" height="2.7" fill="#fbe3d5"/>
<rect x="157.77" y="174.18" width="2.58" height="2.7" fill="#fcd3bd"/>
<rect x="160.3" y="174.18" width="2.58" height="2.7" fill="#e9f0f4"/>
<rect x="162.84" y="174.18" width="2.58" height="2.7" fill="#e9f0f4"/>
<rect x="165.37" y="174.18" width="2.58" height="2.7" fill="#fbd0b9"/>
<rect x="167.91" y="174.18" width="2.58" height="2.7" fill="#f5a886"/>
<rect x="170.44" y="174.18" width="2.58" height="2.7" fill="#f4a785"/>
<rect x="172.97" y="174.18" width="2.58" height="2.7" fill="#f7f7f7"/>
<rect x="175.51" y="174.18" width="2.58" height="2.7" fill="#d3e6f0"/>
<rect x="178.04" y="174.18" width="2.58" height="2.7" fill="#f3a481"/>
<rect x="180.58" y="174.18" width="2.58" height="2.7" fill="#f7b799"/>
<rect x="183.11" y="174.18" width="2.58" height="2.7" fill="#f09d7c"/>
<rect x="185.65" y="174.18" width="2.58" height="2.7" fill="#fcd3bd"/>
<rect x="188.18" y="174.18" width="2.58" height="2.7" fill="#f9ede6"/>
<rect x="190.72" y="174.18" width="2.58" height="2.7" fill="#f7f6f5"/>
<rect x="193.25" y="174.18" width="2.58" height="2.7" fill="#a8d0e4"/>
<rect x="195.78" y="174.18" width="2.58" height="2.7" fill="#f9eee8"/>
<rect x="198.32" y="174.18" width="2.58" height="2.7" fill="#fae7db"/>
<rect x="200.85" y="174.18" width="2.58" height="2.7" fill="#f6f7f7"/>
<rect x="203.39" y="174.18" width="2.58" height="2.7" fill="#eff3f5"/>
<rect x="205.92" y="174.18" width="2.58" height="2.7" fill="#95c7df"/>
<rect x="208.46" y="174.18" width="2.58" height="2.7" fill="#f8f3f1"/>
<rect x="210.99" y="174.18" width="2.58" height="2.7" fill="#86beda"/>
<rect x="213.53" y="174.18" width="2.58" height="2.7" fill="#aad1e5"/>
<rect x="216.06" y="174.18" width="2.58" height="2.7" fill="#a1cde2"/>
<rect x="218.59" y="174.18" width="2.58" height="2.7" fill="#b1d5e7"/>
<rect x="221.13" y="174.18" width="2.58" height="2.7" fill="#eff3f5"/>
<rect x="223.66" y="174.18" width="2.58" height="2.7" fill="#fce1d2"/>
<rect x="226.2" y="174.18" width="2.58" height="2.7" fill="#96c7df"/>
<rect x="228.73" y="174.18" width="2.58" height="2.7" fill="#fac7ae"/>
<rect x="231.27" y="174.18" width="2.58" height="2.7" fill="#cce3ef"/>
<rect x="152.7" y="176.82" width="2.58" height="2.7" fill="#f8f3f0"/>
<rect x="155.23" y="176.82" width="2.58" height="2.7" fill="#fac9b0"/>
<rect x="157.77" y="176.82" width="2.58" height="2.7" fill="#fac8af"/>
<rect x="160.3" y="176.82" width="2.58" height="2.7" fill="#fce0d0"/>
<rect x="162.84" y="176.82" width="2.58" height="2.7" fill="#e7eff4"/>
<rect x="165.37" y="176.82" width="2.58" height="2.7" fill="#e6eff4"/>
<rect x="167.91" y="176.82" width="2.58" height="2.7" fill="#fcdfcf"/>
<rect x="170.44" y="176.82" width="2.58" height="2.7" fill="#fbe4d7"/>
<rect x="172.97" y="176.82" width="2.58" height="2.7" fill="#fddac5"/>
<rect x="175.51" y="176.82" width="2.58" height="2.7" fill="#c5dfed"/>
<rect x="178.04" y="176.82" width="2.58" height="2.7" fill="#e68469"/>
<rect x="180.58" y="176.82" width="2.58" height="2.7" fill="#fcd5bf"/>
<rect x="183.11" y="176.82" width="2.58" height="2.7" fill="#e58368"/>
<rect x="185.65" y="176.82" width="2.58" height="2.7" fill="#f8bca0"/>
<rect x="188.18" y="176.82" width="2.58" height="2.7" fill="#f8bb9f"/>
<rect x="190.72" y="176.82" width="2.58" height="2.7" fill="#e6eff4"/>
<rect x="193.25" y="176.82" width="2.58" height="2.7" fill="#579fca"/>
<rect x="195.78" y="176.82" width="2.58" height="2.7" fill="#d1e5f0"/>
<rect x="198.32" y="176.82" width="2.58" height="2.7" fill="#2a72b2"/>
<rect x="200.85" y="176.82" width="2.58" height="2.7" fill="#aed3e6"/>
<rect x="203.39" y="176.82" width="2.58" height="2.7" fill="#b3d6e8"/>
<rect x="205.92" y="176.82" width="2.58" height="2.7" fill="#87beda"/>
<rect x="208.46" y="176.82" width="2.58" height="2.7" fill="#86beda"/>
<rect x="210.99" y="176.82" width="2.58" height="2.7" fill="#c6e0ed"/>
<rect x="213.53" y="176.82" width="2.58" height="2.7" fill="#9dcae1"/>
<rect x="216.06" y="176.82" width="2.58" height="2.7" fill="#b2d5e7"/>
<rect x="218.59" y="176.82" width="2.58" height="2.7" fill="#87beda"/>
<rect x="221.13" y="176.82" width="2.58" height="2.7" fill="#b3d6e7"/>
<rect x="223.66" y="176.82" width="2.58" height="2.7" fill="#c1ddeb"/>
<rect x="226.2" y="176.82" width="2.58" height="2.7" fill="#a5cfe4"/>
<rect x="228.73" y="176.82" width="2.58" height="2.7" fill="#bddbea"/>
<rect x="231.27" y="176.82" width="2.58" height="2.7" fill="#85bdd9"/>
<rect x="152.7" y="179.47" width="2.58" height="2.7" fill="#f3a27f"/>
<rect x="155.23" y="179.47" width="2.58" height="2.7" fill="#f7f6f6"/>
<rect x="157.77" y="179.47" width="2.58" height="2.7" fill="#f9c2a7"/>
<rect x="160.3" y="179.47" width="2.58" height="2.7" fill="#e0ecf3"/>
<rect x="162.84" y="179.47" width="2.58" height="2.7" fill="#fddcc8"/>
<rect x="165.37" y="179.47" width="2.58" height="2.7" fill="#f8bc9f"/>
<rect x="167.91" y="179.47" width="2.58" height="2.7" fill="#f4f5f6"/>
<rect x="170.44" y="179.47" width="2.58" height="2.7" fill="#fbd1ba"/>
<rect x="172.97" y="179.47" width="2.58" height="2.7" fill="#e1edf3"/>
<rect x="175.51" y="179.47" width="2.58" height="2.7" fill="#e0ecf3"/>
<rect x="178.04" y="179.47" width="2.58" height="2.7" fill="#f4a683"/>
<rect x="180.58" y="179.47" width="2.58" height="2.7" fill="#f19d7c"/>
<rect x="183.11" y="179.47" width="2.58" height="2.7" fill="#f3a27f"/>
<rect x="185.65" y="179.47" width="2.58" height="2.7" fill="#fcd4bd"/>
<rect x="188.18" y="179.47" width="2.58" height="2.7" fill="#d05548"/>
<rect x="190.72" y="179.47" width="2.58" height="2.7" fill="#fbe3d4"/>
<rect x="193.25" y="179.47" width="2.58" height="2.7" fill="#7fb9d7"/>
<rect x="195.78" y="179.47" width="2.58" height="2.7" fill="#dbeaf2"/>
<rect x="198.32" y="179.47" width="2.58" height="2.7" fill="#edf2f5"/>
<rect x="200.85" y="179.47" width="2.58" height="2.7" fill="#f4f6f6"/>
<rect x="203.39" y="179.47" width="2.58" height="2.7" fill="#c0ddeb"/>
<rect x="205.92" y="179.47" width="2.58" height="2.7" fill="#cee3ef"/>
<rect x="208.46" y="179.47" width="2.58" height="2.7" fill="#eef3f5"/>
<rect x="210.99" y="179.47" width="2.58" height="2.7" fill="#d3e6f0"/>
<rect x="213.53" y="179.47" width="2.58" height="2.7" fill="#dbeaf2"/>
<rect x="216.06" y="179.47" width="2.58" height="2.7" fill="#b0d4e7"/>
<rect x="218.59" y="179.47" width="2.58" height="2.7" fill="#7cb7d6"/>
<rect x="221.13" y="179.47" width="2.58" height="2.7" fill="#9ac9e0"/>
<rect x="223.66" y="179.47" width="2.58" height="2.7" fill="#f9f0ea"/>
<rect x="226.2" y="179.47" width="2.58" height="2.7" fill="#8cc1dc"/>
<rect x="228.73" y="179.47" width="2.58" height="2.7" fill="#fce0d0"/>
<rect x="231.27" y="179.47" width="2.58" height="2.7" fill="#d5e7f1"/>
<rect x="152.7" y="182.12" width="2.58" height="2.7" fill="#fbe6d9"/>
<rect x="155.23" y="182.12" width="2.58" height="2.7" fill="#fbe3d5"/>
<rect x="157.77" y="182.12" width="2.58" height="2.7" fill="#eb9172"/>
<rect x="160.3" y="182.12" width="2.58" height="2.7" fill="#f3a280"/>
<rect x="162.84" y="182.12" width="2.58" height="2.7" fill="#e27b62"/>
<rect x="165.37" y="182.12" width="2.58" height="2.7" fill="#f9ede5"/>
<rect x="167.91" y="182.12" width="2.58" height="2.7" fill="#f7b698"/>
<rect x="170.44" y="182.12" width="2.58" height="2.7" fill="#f8bb9e"/>
<rect x="172.97" y="182.12" width="2.58" height="2.7" fill="#f7f5f4"/>
<rect x="175.51" y="182.12" width="2.58" height="2.7" fill="#f8f1ed"/>
<rect x="178.04" y="182.12" width="2.58" height="2.7" fill="#df755d"/>
<rect x="180.58" y="182.12" width="2.58" height="2.7" fill="#f19e7d"/>
<rect x="183.11" y="182.12" width="2.58" height="2.7" fill="#f09c7b"/>
<rect x="185.65" y="182.12" width="2.58" height="2.7" fill="#f5aa89"/>
<rect x="188.18" y="182.12" width="2.58" height="2.7" fill="#fcd6c0"/>
<rect x="190.72" y="182.12" width="2.58" height="2.7" fill="#fbd2bb"/>
<rect x="193.25" y="182.12" width="2.58" height="2.7" fill="#5ea4cc"/>
<rect x="195.78" y="182.12" width="2.58" height="2.7" fill="#eff3f5"/>
<rect x="198.32" y="182.12" width="2.58" height="2.7" fill="#f3f5f6"/>
<rect x="200.85" y="182.12" width="2.58" height="2.7" fill="#9dcae1"/>
<rect x="203.39" y="182.12" width="2.58" height="2.7" fill="#8dc2dc"/>
<rect x="205.92" y="182.12" width="2.58" height="2.7" fill="#6daed1"/>
<rect x="208.46" y="182.12" width="2.58" height="2.7" fill="#f6f6f7"/>
<rect x="210.99" y="182.12" width="2.58" height="2.7" fill="#d5e7f1"/>
<rect x="213.53" y="182.12" width="2.58" height="2.7" fill="#e8f0f4"/>
<rect x="216.06" y="182.12" width="2.58" height="2.7" fill="#bcdaea"/>
<rect x="218.59" y="182.12" width="2.58" height="2.7" fill="#7ab6d6"/>
<rect x="221.13" y="182.12" width="2.58" height="2.7" fill="#a6cfe4"/>
<rect x="223.66" y="182.12" width="2.58" height="2.7" fill="#fdddca"/>
<rect x="226.2" y="182.12" width="2.58" height="2.7" fill="#9bcae1"/>
<rect x="228.73" y="182.12" width="2.58" height="2.7" fill="#e1ecf3"/>
<rect x="231.27" y="182.12" width="2.58" height="2.7" fill="#faeae1"/>
<rect x="152.7" y="184.77" width="2.58" height="2.7" fill="#e68469"/>
<rect x="155.23" y="184.77" width="2.58" height="2.7" fill="#faeae1"/>
<rect x="157.77" y="184.77" width="2.58" height="2.7" fill="#e98b6e"/>
<rect x="160.3" y="184.77" width="2.58" height="2.7" fill="#fbe5d8"/>
<rect x="162.84" y="184.77" width="2.58" height="2.7" fill="#f8f0ec"/>
<rect x="165.37" y="184.77" width="2.58" height="2.7" fill="#f9c6ac"/>
<rect x="167.91" y="184.77" width="2.58" height="2.7" fill="#eb9172"/>
<rect x="170.44" y="184.77" width="2.58" height="2.7" fill="#fbcfb8"/>
<rect x="172.97" y="184.77" width="2.58" height="2.7" fill="#f8f4f2"/>
<rect x="175.51" y="184.77" width="2.58" height="2.7" fill="#f3f5f6"/>
<rect x="178.04" y="184.77" width="2.58" height="2.7" fill="#fcd7c3"/>
<rect x="180.58" y="184.77" width="2.58" height="2.7" fill="#fae9df"/>
<rect x="183.11" y="184.77" width="2.58" height="2.7" fill="#d6614d"/>
<rect x="185.65" y="184.77" width="2.58" height="2.7" fill="#fdd8c4"/>
<rect x="188.18" y="184.77" width="2.58" height="2.7" fill="#ee9677"/>
<rect x="190.72" y="184.77" width="2.58" height="2.7" fill="#f4a683"/>
<rect x="193.25" y="184.77" width="2.58" height="2.7" fill="#89bfdb"/>
<rect x="195.78" y="184.77" width="2.58" height="2.7" fill="#89bfdb"/>
<rect x="198.32" y="184.77" width="2.58" height="2.7" fill="#f9ede7"/>
<rect x="200.85" y="184.77" width="2.58" height="2.7" fill="#edf2f5"/>
<rect x="203.39" y="184.77" width="2.58" height="2.7" fill="#dceaf2"/>
<rect x="205.92" y="184.77" width="2.58" height="2.7" fill="#faeae1"/>
<rect x="208.46" y="184.77" width="2.58" height="2.7" fill="#f5f6f7"/>
<rect x="210.99" y="184.77" width="2.58" height="2.7" fill="#95c7df"/>
<rect x="213.53" y="184.77" width="2.58" height="2.7" fill="#80b9d8"/>
<rect x="216.06" y="184.77" width="2.58" height="2.7" fill="#317cb7"/>
<rect x="218.59" y="184.77" width="2.58" height="2.7" fill="#c8e0ed"/>
<rect x="221.13" y="184.77" width="2.58" height="2.7" fill="#91c5de"/>
<rect x="223.66" y="184.77" width="2.58" height="2.7" fill="#8cc1dc"/>
<rect x="226.2" y="184.77" width="2.58" height="2.7" fill="#a2cde3"/>
<rect x="228.73" y="184.77" width="2.58" height="2.7" fill="#eef3f5"/>
<rect x="231.27" y="184.77" width="2.58" height="2.7" fill="#c2ddec"/>
<rect x="152.7" y="187.41" width="2.58" height="2.7" fill="#e8f0f4"/>
<rect x="155.23" y="187.41" width="2.58" height="2.7" fill="#f9c3a9"/>
<rect x="157.77" y="187.41" width="2.58" height="2.7" fill="#f6f6f7"/>
<rect x="160.3" y="187.41" width="2.58" height="2.7" fill="#fbe5d9"/>
<rect x="162.84" y="187.41" width="2.58" height="2.7" fill="#96c7df"/>
<rect x="165.37" y="187.41" width="2.58" height="2.7" fill="#f9efe9"/>
<rect x="167.91" y="187.41" width="2.58" height="2.7" fill="#fcd4be"/>
<rect x="170.44" y="187.41" width="2.58" height="2.7" fill="#f8f0eb"/>
<rect x="172.97" y="187.41" width="2.58" height="2.7" fill="#f0f4f6"/>
<rect x="175.51" y="187.41" width="2.58" height="2.7" fill="#fddbc7"/>
<rect x="178.04" y="187.41" width="2.58" height="2.7" fill="#fcdecc"/>
<rect x="180.58" y="187.41" width="2.58" height="2.7" fill="#fbd2bb"/>
<rect x="183.11" y="187.41" width="2.58" height="2.7" fill="#e58368"/>
<rect x="185.65" y="187.41" width="2.58" height="2.7" fill="#f19e7d"/>
<rect x="188.18" y="187.41" width="2.58" height="2.7" fill="#f9ece5"/>
<rect x="190.72" y="187.41" width="2.58" height="2.7" fill="#fdd8c3"/>
<rect x="193.25" y="187.41" width="2.58" height="2.7" fill="#77b4d5"/>
<rect x="195.78" y="187.41" width="2.58" height="2.7" fill="#abd2e5"/>
<rect x="198.32" y="187.41" width="2.58" height="2.7" fill="#deebf2"/>
<rect x="200.85" y="187.41" width="2.58" height="2.7" fill="#f8bea1"/>
<rect x="203.39" y="187.41" width="2.58" height="2.7" fill="#d3e6f0"/>
<rect x="205.92" y="187.41" width="2.58" height="2.7" fill="#e1ecf3"/>
<rect x="208.46" y="187.41" width="2.58" height="2.7" fill="#c6dfed"/>
<rect x="210.99" y="187.41" width="2.58" height="2.7" fill="#8bc1dc"/>
<rect x="213.53" y="187.41" width="2.58" height="2.7" fill="#a5cfe3"/>
<rect x="216.06" y="187.41" width="2.58" height="2.7" fill="#cbe2ee"/>
<rect x="218.59" y="187.41" width="2.58" height="2.7" fill="#b4d6e8"/>
<rect x="221.13" y="187.41" width="2.58" height="2.7" fill="#f8f1ed"/>
<rect x="223.66" y="187.41" width="2.58" height="2.7" fill="#f7f7f7"/>
<rect x="226.2" y="187.41" width="2.58" height="2.7" fill="#bbdaea"/>
<rect x="228.73" y="187.41" width="2.58" height="2.7" fill="#dfecf3"/>
<rect x="231.27" y="187.41" width="2.58" height="2.7" fill="#f2f5f6"/>
<rect x="152.7" y="190.06" width="2.58" height="2.7" fill="#faeae0"/>
<rect x="155.23" y="190.06" width="2.58" height="2.7" fill="#fbe3d5"/>
<rect x="157.77" y="190.06" width="2.58" height="2.7" fill="#ea8e70"/>
<rect x="160.3" y="190.06" width="2.58" height="2.7" fill="#fce0d0"/>
<rect x="162.84" y="190.06" width="2.58" height="2.7" fill="#f9c4aa"/>
<rect x="165.37" y="190.06" width="2.58" height="2.7" fill="#ed9676"/>
<rect x="167.91" y="190.06" width="2.58" height="2.7" fill="#f5aa89"/>
<rect x="170.44" y="190.06" width="2.58" height="2.7" fill="#fbccb4"/>
<rect x="172.97" y="190.06" width="2.58" height="2.7" fill="#f2f5f6"/>
<rect x="175.51" y="190.06" width="2.58" height="2.7" fill="#f1f4f6"/>
<rect x="178.04" y="190.06" width="2.58" height="2.7" fill="#faeae1"/>
<rect x="180.58" y="190.06" width="2.58" height="2.7" fill="#e27b62"/>
<rect x="183.11" y="190.06" width="2.58" height="2.7" fill="#f09b7a"/>
<rect x="185.65" y="190.06" width="2.58" height="2.7" fill="#fddcc9"/>
<rect x="188.18" y="190.06" width="2.58" height="2.7" fill="#f7b99b"/>
<rect x="190.72" y="190.06" width="2.58" height="2.7" fill="#f8f2ee"/>
<rect x="193.25" y="190.06" width="2.58" height="2.7" fill="#62a7ce"/>
<rect x="195.78" y="190.06" width="2.58" height="2.7" fill="#f8f1ed"/>
<rect x="198.32" y="190.06" width="2.58" height="2.7" fill="#edf2f5"/>
<rect x="200.85" y="190.06" width="2.58" height="2.7" fill="#aad1e5"/>
<rect x="203.39" y="190.06" width="2.58" height="2.7" fill="#8cc1dc"/>
<rect x="205.92" y="190.06" width="2.58" height="2.7" fill="#d2e5f0"/>
<rect x="208.46" y="190.06" width="2.58" height="2.7" fill="#d7e8f1"/>
<rect x="210.99" y="190.06" width="2.58" height="2.7" fill="#b5d7e8"/>
<rect x="213.53" y="190.06" width="2.58" height="2.7" fill="#bedceb"/>
<rect x="216.06" y="190.06" width="2.58" height="2.7" fill="#a5cee3"/>
<rect x="218.59" y="190.06" width="2.58" height="2.7" fill="#bddbea"/>
<rect x="221.13" y="190.06" width="2.58" height="2.7" fill="#f9f0ea"/>
<rect x="223.66" y="190.06" width="2.58" height="2.7" fill="#fce2d3"/>
<rect x="226.2" y="190.06" width="2.58" height="2.7" fill="#c6dfed"/>
<rect x="228.73" y="190.06" width="2.58" height="2.7" fill="#d4e6f0"/>
<rect x="231.27" y="190.06" width="2.58" height="2.7" fill="#c6dfed"/>
<rect x="152.7" y="192.71" width="2.58" height="2.7" fill="#cce2ee"/>
<rect x="155.23" y="192.71" width="2.58" height="2.7" fill="#fbceb7"/>
<rect x="157.77" y="192.71" width="2.58" height="2.7" fill="#fcd4be"/>
<rect x="160.3" y="192.71" width="2.58" height="2.7" fill="#fcd4be"/>
<rect x="162.84" y="192.71" width="2.58" height="2.7" fill="#f4f6f6"/>
<rect x="165.37" y="192.71" width="2.58" height="2.7" fill="#ed9576"/>
<rect x="167.91" y="192.71" width="2.58" height="2.7" fill="#f5ac8b"/>
<rect x="170.44" y="192.71" width="2.58" height="2.7" fill="#d7624f"/>
<rect x="172.97" y="192.71" width="2.58" height="2.7" fill="#d86450"/>
<rect x="175.51" y="192.71" width="2.58" height="2.7" fill="#fae8de"/>
<rect x="178.04" y="192.71" width="2.58" height="2.7" fill="#fdddcb"/>
<rect x="180.58" y="192.71" width="2.58" height="2.7" fill="#f2a17f"/>
<rect x="183.11" y="192.71" width="2.58" height="2.7" fill="#f6b090"/>
<rect x="185.65" y="192.71" width="2.58" height="2.7" fill="#e37e64"/>
<rect x="188.18" y="192.71" width="2.58" height="2.7" fill="#f5f6f7"/>
<rect x="190.72" y="192.71" width="2.58" height="2.7" fill="#f8f5f3"/>
<rect x="193.25" y="192.71" width="2.58" height="2.7" fill="#98c8e0"/>
<rect x="195.78" y="192.71" width="2.58" height="2.7" fill="#f4f5f6"/>
<rect x="198.32" y="192.71" width="2.58" height="2.7" fill="#ebf1f5"/>
<rect x="200.85" y="192.71" width="2.58" height="2.7" fill="#f8f3f0"/>
<rect x="203.39" y="192.71" width="2.58" height="2.7" fill="#cae2ee"/>
<rect x="205.92" y="192.71" width="2.58" height="2.7" fill="#a8d0e4"/>
<rect x="208.46" y="192.71" width="2.58" height="2.7" fill="#fdd8c4"/>
<rect x="210.99" y="192.71" width="2.58" height="2.7" fill="#f7f6f5"/>
<rect x="213.53" y="192.71" width="2.58" height="2.7" fill="#f4f6f6"/>
<rect x="216.06" y="192.71" width="2.58" height="2.7" fill="#d8e8f1"/>
<rect x="218.59" y="192.71" width="2.58" height="2.7" fill="#bcdaea"/>
<rect x="221.13" y="192.71" width="2.58" height="2.7" fill="#d8e8f1"/>
<rect x="223.66" y="192.71" width="2.58" height="2.7" fill="#fcdecc"/>
<rect x="226.2" y="192.71" width="2.58" height="2.7" fill="#c8e0ed"/>
<rect x="228.73" y="192.71" width="2.58" height="2.7" fill="#deebf2"/>
<rect x="231.27" y="192.71" width="2.58" height="2.7" fill="#c1ddec"/>
<rect x="152.7" y="195.35" width="2.58" height="2.7" fill="#faeae0"/>
<rect x="155.23" y="195.35" width="2.58" height="2.7" fill="#f8bb9e"/>
<rect x="157.77" y="195.35" width="2.58" height="2.7" fill="#f6b192"/>
<rect x="160.3" y="195.35" width="2.58" height="2.7" fill="#f19e7d"/>
<rect x="162.84" y="195.35" width="2.58" height="2.7" fill="#fbe5d9"/>
<rect x="165.37" y="195.35" width="2.58" height="2.7" fill="#e98d6f"/>
<rect x="167.91" y="195.35" width="2.58" height="2.7" fill="#ef9a7a"/>
<rect x="170.44" y="195.35" width="2.58" height="2.7" fill="#ec9273"/>
<rect x="172.97" y="195.35" width="2.58" height="2.7" fill="#faeae0"/>
<rect x="175.51" y="195.35" width="2.58" height="2.7" fill="#fce1d2"/>
<rect x="178.04" y="195.35" width="2.58" height="2.7" fill="#e7886c"/>
<rect x="180.58" y="195.35" width="2.58" height="2.7" fill="#b2182b"/>
<rect x="183.11" y="195.35" width="2.58" height="2.7" fill="#fbceb7"/>
<rect x="185.65" y="195.35" width="2.58" height="2.7" fill="#ef9979"/>
<rect x="188.18" y="195.35" width="2.58" height="2.7" fill="#fce2d2"/>
<rect x="190.72" y="195.35" width="2.58" height="2.7" fill="#f5a987"/>
<rect x="193.25" y="195.35" width="2.58" height="2.7" fill="#7fb9d7"/>
<rect x="195.78" y="195.35" width="2.58" height="2.7" fill="#88bfda"/>
<rect x="198.32" y="195.35" width="2.58" height="2.7" fill="#84bcd9"/>
<rect x="200.85" y="195.35" width="2.58" height="2.7" fill="#f1f4f6"/>
<rect x="203.39" y="195.35" width="2.58" height="2.7" fill="#73b1d3"/>
<rect x="205.92" y="195.35" width="2.58" height="2.7" fill="#cbe2ee"/>
<rect x="208.46" y="195.35" width="2.58" height="2.7" fill="#f2f5f6"/>
<rect x="210.99" y="195.35" width="2.58" height="2.7" fill="#afd4e6"/>
<rect x="213.53" y="195.35" width="2.58" height="2.7" fill="#d3e6f0"/>
<rect x="216.06" y="195.35" width="2.58" height="2.7" fill="#93c5de"/>
<rect x="218.59" y="195.35" width="2.58" height="2.7" fill="#6aabd0"/>
<rect x="221.13" y="195.35" width="2.58" height="2.7" fill="#276db0"/>
<rect x="223.66" y="195.35" width="2.58" height="2.7" fill="#d5e7f1"/>
<rect x="226.2" y="195.35" width="2.58" height="2.7" fill="#82bbd9"/>
<rect x="228.73" y="195.35" width="2.58" height="2.7" fill="#a3cde3"/>
<rect x="231.27" y="195.35" width="2.58" height="2.7" fill="#b5d7e8"/>
<rect x="152.7" y="198" width="2.58" height="2.7" fill="#f8f1ec"/>
<rect x="155.23" y="198" width="2.58" height="2.7" fill="#fbe6da"/>
<rect x="157.77" y="198" width="2.58" height="2.7" fill="#f5ab8a"/>
<rect x="160.3" y="198" width="2.58" height="2.7" fill="#f9c0a5"/>
<rect x="162.84" y="198" width="2.58" height="2.7" fill="#e1edf3"/>
<rect x="165.37" y="198" width="2.58" height="2.7" fill="#fdddca"/>
<rect x="167.91" y="198" width="2.58" height="2.7" fill="#c84540"/>
<rect x="170.44" y="198" width="2.58" height="2.7" fill="#fbcdb5"/>
<rect x="172.97" y="198" width="2.58" height="2.7" fill="#fbd2bb"/>
<rect x="175.51" y="198" width="2.58" height="2.7" fill="#edf2f5"/>
<rect x="178.04" y="198" width="2.58" height="2.7" fill="#fbcdb6"/>
<rect x="180.58" y="198" width="2.58" height="2.7" fill="#fbcdb5"/>
<rect x="183.11" y="198" width="2.58" height="2.7" fill="#ec9374"/>
<rect x="185.65" y="198" width="2.58" height="2.7" fill="#f7b596"/>
<rect x="188.18" y="198" width="2.58" height="2.7" fill="#fbe7db"/>
<rect x="190.72" y="198" width="2.58" height="2.7" fill="#d25849"/>
<rect x="193.25" y="198" width="2.58" height="2.7" fill="#e1edf3"/>
<rect x="195.78" y="198" width="2.58" height="2.7" fill="#e1edf3"/>
<rect x="198.32" y="198" width="2.58" height="2.7" fill="#70b0d3"/>
<rect x="200.85" y="198" width="2.58" height="2.7" fill="#f1f4f6"/>
<rect x="203.39" y="198" width="2.58" height="2.7" fill="#c1ddeb"/>
<rect x="205.92" y="198" width="2.58" height="2.7" fill="#e3eef3"/>
<rect x="208.46" y="198" width="2.58" height="2.7" fill="#f5f6f7"/>
<rect x="210.99" y="198" width="2.58" height="2.7" fill="#dceaf2"/>
<rect x="213.53" y="198" width="2.58" height="2.7" fill="#cfe4ef"/>
<rect x="216.06" y="198" width="2.58" height="2.7" fill="#b2d5e7"/>
<rect x="218.59" y="198" width="2.58" height="2.7" fill="#85bdda"/>
<rect x="221.13" y="198" width="2.58" height="2.7" fill="#cee4ef"/>
<rect x="223.66" y="198" width="2.58" height="2.7" fill="#fbceb7"/>
<rect x="226.2" y="198" width="2.58" height="2.7" fill="#77b4d5"/>
<rect x="228.73" y="198" width="2.58" height="2.7" fill="#d4e6f0"/>
<rect x="231.27" y="198" width="2.58" height="2.7" fill="#3580b9"/>
<rect x="152.7" y="200.65" width="2.58" height="2.7" fill="#fcd3bd"/>
<rect x="155.23" y="200.65" width="2.58" height="2.7" fill="#fddbc7"/>
<rect x="157.77" y="200.65" width="2.58" height="2.7" fill="#faebe3"/>
<rect x="160.3" y="200.65" width="2.58" height="2.7" fill="#f8f3f1"/>
<rect x="162.84" y="200.65" width="2.58" height="2.7" fill="#fae7dc"/>
<rect x="165.37" y="200.65" width="2.58" height="2.7" fill="#fac7ad"/>
<rect x="167.91" y="200.65" width="2.58" height="2.7" fill="#fcd7c2"/>
<rect x="170.44" y="200.65" width="2.58" height="2.7" fill="#f8bb9e"/>
<rect x="172.97" y="200.65" width="2.58" height="2.7" fill="#f9efe9"/>
<rect x="175.51" y="200.65" width="2.58" height="2.7" fill="#ebf1f5"/>
<rect x="178.04" y="200.65" width="2.58" height="2.7" fill="#f4a886"/>
<rect x="180.58" y="200.65" width="2.58" height="2.7" fill="#fdddcb"/>
<rect x="183.11" y="200.65" width="2.58" height="2.7" fill="#fcdfcd"/>
<rect x="185.65" y="200.65" width="2.58" height="2.7" fill="#e37d64"/>
<rect x="188.18" y="200.65" width="2.58" height="2.7" fill="#f6b090"/>
<rect x="190.72" y="200.65" width="2.58" height="2.7" fill="#f7b89b"/>
<rect x="193.25" y="200.65" width="2.58" height="2.7" fill="#69abd0"/>
<rect x="195.78" y="200.65" width="2.58" height="2.7" fill="#f7f5f3"/>
<rect x="198.32" y="200.65" width="2.58" height="2.7" fill="#bad9e9"/>
<rect x="200.85" y="200.65" width="2.58" height="2.7" fill="#fbe6d9"/>
<rect x="203.39" y="200.65" width="2.58" height="2.7" fill="#f8f0eb"/>
<rect x="205.92" y="200.65" width="2.58" height="2.7" fill="#3783bb"/>
<rect x="208.46" y="200.65" width="2.58" height="2.7" fill="#70afd2"/>
<rect x="210.99" y="200.65" width="2.58" height="2.7" fill="#b0d4e7"/>
<rect x="213.53" y="200.65" width="2.58" height="2.7" fill="#c0ddeb"/>
<rect x="216.06" y="200.65" width="2.58" height="2.7" fill="#3884bb"/>
<rect x="218.59" y="200.65" width="2.58" height="2.7" fill="#67aacf"/>
<rect x="221.13" y="200.65" width="2.58" height="2.7" fill="#b6d7e8"/>
<rect x="223.66" y="200.65" width="2.58" height="2.7" fill="#f8f2ee"/>
<rect x="226.2" y="200.65" width="2.58" height="2.7" fill="#cce2ee"/>
<rect x="228.73" y="200.65" width="2.58" height="2.7" fill="#f1f4f6"/>
<rect x="231.27" y="200.65" width="2.58" height="2.7" fill="#ebf1f5"/>
<rect x="152.7" y="203.3" width="2.58" height="2.7" fill="#fbceb7"/>
<rect x="155.23" y="203.3" width="2.58" height="2.7" fill="#fcd4be"/>
<rect x="157.77" y="203.3" width="2.58" height="2.7" fill="#fac6ac"/>
<rect x="160.3" y="203.3" width="2.58" height="2.7" fill="#fae8dd"/>
<rect x="162.84" y="203.3" width="2.58" height="2.7" fill="#deebf2"/>
<rect x="165.37" y="203.3" width="2.58" height="2.7" fill="#fcd2bc"/>
<rect x="167.91" y="203.3" width="2.58" height="2.7" fill="#f2a17f"/>
<rect x="170.44" y="203.3" width="2.58" height="2.7" fill="#f3a381"/>
<rect x="172.97" y="203.3" width="2.58" height="2.7" fill="#f9efe9"/>
<rect x="175.51" y="203.3" width="2.58" height="2.7" fill="#fddac5"/>
<rect x="178.04" y="203.3" width="2.58" height="2.7" fill="#e2edf3"/>
<rect x="180.58" y="203.3" width="2.58" height="2.7" fill="#f4a886"/>
<rect x="183.11" y="203.3" width="2.58" height="2.7" fill="#f5ab8a"/>
<rect x="185.65" y="203.3" width="2.58" height="2.7" fill="#df745d"/>
<rect x="188.18" y="203.3" width="2.58" height="2.7" fill="#fae7dc"/>
<rect x="190.72" y="203.3" width="2.58" height="2.7" fill="#f7b79a"/>
<rect x="193.25" y="203.3" width="2.58" height="2.7" fill="#81bad8"/>
<rect x="195.78" y="203.3" width="2.58" height="2.7" fill="#b4d6e8"/>
<rect x="198.32" y="203.3" width="2.58" height="2.7" fill="#f5f6f7"/>
<rect x="200.85" y="203.3" width="2.58" height="2.7" fill="#f8f3ef"/>
<rect x="203.39" y="203.3" width="2.58" height="2.7" fill="#e6eff4"/>
<rect x="205.92" y="203.3" width="2.58" height="2.7" fill="#b0d4e7"/>
<rect x="208.46" y="203.3" width="2.58" height="2.7" fill="#b8d8e9"/>
<rect x="210.99" y="203.3" width="2.58" height="2.7" fill="#b3d6e7"/>
<rect x="213.53" y="203.3" width="2.58" height="2.7" fill="#cde3ef"/>
<rect x="216.06" y="203.3" width="2.58" height="2.7" fill="#246aae"/>
<rect x="218.59" y="203.3" width="2.58" height="2.7" fill="#86beda"/>
<rect x="221.13" y="203.3" width="2.58" height="2.7" fill="#b5d7e8"/>
<rect x="223.66" y="203.3" width="2.58" height="2.7" fill="#7ab6d6"/>
<rect x="226.2" y="203.3" width="2.58" height="2.7" fill="#76b3d4"/>
<rect x="228.73" y="203.3" width="2.58" height="2.7" fill="#f4f6f6"/>
<rect x="231.27" y="203.3" width="2.58" height="2.7" fill="#d2e5f0"/>
<rect x="152.7" y="205.94" width="2.58" height="2.7" fill="#fbe3d5"/>
<rect x="155.23" y="205.94" width="2.58" height="2.7" fill="#fdd8c4"/>
<rect x="157.77" y="205.94" width="2.58" height="2.7" fill="#f6af8e"/>
<rect x="160.3" y="205.94" width="2.58" height="2.7" fill="#f3f5f6"/>
<rect x="162.84" y="205.94" width="2.58" height="2.7" fill="#fbe4d6"/>
<rect x="165.37" y="205.94" width="2.58" height="2.7" fill="#e6eff4"/>
<rect x="167.91" y="205.94" width="2.58" height="2.7" fill="#fce1d1"/>
<rect x="170.44" y="205.94" width="2.58" height="2.7" fill="#f8bfa3"/>
<rect x="172.97" y="205.94" width="2.58" height="2.7" fill="#f5f6f7"/>
<rect x="175.51" y="205.94" width="2.58" height="2.7" fill="#facab2"/>
<rect x="178.04" y="205.94" width="2.58" height="2.7" fill="#f9ede6"/>
<rect x="180.58" y="205.94" width="2.58" height="2.7" fill="#f2a07e"/>
<rect x="183.11" y="205.94" width="2.58" height="2.7" fill="#eb9173"/>
<rect x="185.65" y="205.94" width="2.58" height="2.7" fill="#fbe6da"/>
<rect x="188.18" y="205.94" width="2.58" height="2.7" fill="#e47f65"/>
<rect x="190.72" y="205.94" width="2.58" height="2.7" fill="#fac7ae"/>
<rect x="193.25" y="205.94" width="2.58" height="2.7" fill="#337eb8"/>
<rect x="195.78" y="205.94" width="2.58" height="2.7" fill="#92c5de"/>
<rect x="198.32" y="205.94" width="2.58" height="2.7" fill="#cde3ef"/>
<rect x="200.85" y="205.94" width="2.58" height="2.7" fill="#c4deec"/>
<rect x="203.39" y="205.94" width="2.58" height="2.7" fill="#86bdda"/>
<rect x="205.92" y="205.94" width="2.58" height="2.7" fill="#e7f0f4"/>
<rect x="208.46" y="205.94" width="2.58" height="2.7" fill="#68aacf"/>
<rect x="210.99" y="205.94" width="2.58" height="2.7" fill="#d9e9f1"/>
<rect x="213.53" y="205.94" width="2.58" height="2.7" fill="#90c4dd"/>
<rect x="216.06" y="205.94" width="2.58" height="2.7" fill="#76b3d4"/>
<rect x="218.59" y="205.94" width="2.58" height="2.7" fill="#4090c1"/>
<rect x="221.13" y="205.94" width="2.58" height="2.7" fill="#89bfdb"/>
<rect x="223.66" y="205.94" width="2.58" height="2.7" fill="#d8e8f1"/>
<rect x="226.2" y="205.94" width="2.58" height="2.7" fill="#8bc0db"/>
<rect x="228.73" y="205.94" width="2.58" height="2.7" fill="#fddcc8"/>
<rect x="231.27" y="205.94" width="2.58" height="2.7" fill="#c0ddeb"/>
<rect x="152.7" y="208.59" width="2.58" height="2.7" fill="#fce0d0"/>
<rect x="155.23" y="208.59" width="2.58" height="2.7" fill="#f9c6ac"/>
<rect x="157.77" y="208.59" width="2.58" height="2.7" fill="#f6ae8e"/>
<rect x="160.3" y="208.59" width="2.58" height="2.7" fill="#faebe2"/>
<rect x="162.84" y="208.59" width="2.58" height="2.7" fill="#e8f0f4"/>
<rect x="165.37" y="208.59" width="2.58" height="2.7" fill="#f9ece5"/>
<rect x="167.91" y="208.59" width="2.58" height="2.7" fill="#facab1"/>
<rect x="170.44" y="208.59" width="2.58" height="2.7" fill="#f09b7a"/>
<rect x="172.97" y="208.59" width="2.58" height="2.7" fill="#f9efea"/>
<rect x="175.51" y="208.59" width="2.58" height="2.7" fill="#cfe4f0"/>
<rect x="178.04" y="208.59" width="2.58" height="2.7" fill="#f09c7b"/>
<rect x="180.58" y="208.59" width="2.58" height="2.7" fill="#fcdecc"/>
<rect x="183.11" y="208.59" width="2.58" height="2.7" fill="#ea8e70"/>
<rect x="185.65" y="208.59" width="2.58" height="2.7" fill="#f2a17f"/>
<rect x="188.18" y="208.59" width="2.58" height="2.7" fill="#f3f5f6"/>
<rect x="190.72" y="208.59" width="2.58" height="2.7" fill="#e8f0f4"/>
<rect x="193.25" y="208.59" width="2.58" height="2.7" fill="#4a97c5"/>
<rect x="195.78" y="208.59" width="2.58" height="2.7" fill="#aad1e5"/>
<rect x="198.32" y="208.59" width="2.58" height="2.7" fill="#fae9df"/>
<rect x="200.85" y="208.59" width="2.58" height="2.7" fill="#fddbc8"/>
<rect x="203.39" y="208.59" width="2.58" height="2.7" fill="#d5e7f1"/>
<rect x="205.92" y="208.59" width="2.58" height="2.7" fill="#f1f4f6"/>
<rect x="208.46" y="208.59" width="2.58" height="2.7" fill="#f9efea"/>
<rect x="210.99" y="208.59" width="2.58" height="2.7" fill="#81bad8"/>
<rect x="213.53" y="208.59" width="2.58" height="2.7" fill="#6daed1"/>
<rect x="216.06" y="208.59" width="2.58" height="2.7" fill="#3a88bd"/>
<rect x="218.59" y="208.59" width="2.58" height="2.7" fill="#8ec3dd"/>
<rect x="221.13" y="208.59" width="2.58" height="2.7" fill="#b9d9e9"/>
<rect x="223.66" y="208.59" width="2.58" height="2.7" fill="#85bdda"/>
<rect x="226.2" y="208.59" width="2.58" height="2.7" fill="#e9f0f4"/>
<rect x="228.73" y="208.59" width="2.58" height="2.7" fill="#f8f0eb"/>
<rect x="231.27" y="208.59" width="2.58" height="2.7" fill="#bbdaea"/>
<rect x="152.7" y="211.24" width="2.58" height="2.7" fill="#f4a886"/>
<rect x="155.23" y="211.24" width="2.58" height="2.7" fill="#fce2d3"/>
<rect x="157.77" y="211.24" width="2.58" height="2.7" fill="#e8886c"/>
<rect x="160.3" y="211.24" width="2.58" height="2.7" fill="#f7f6f5"/>
<rect x="162.84" y="211.24" width="2.58" height="2.7" fill="#facbb2"/>
<rect x="165.37" y="211.24" width="2.58" height="2.7" fill="#f7b799"/>
<rect x="167.91" y="211.24" width="2.58" height="2.7" fill="#f2a07e"/>
<rect x="170.44" y="211.24" width="2.58" height="2.7" fill="#f29f7e"/>
<rect x="172.97" y="211.24" width="2.58" height="2.7" fill="#f8bfa3"/>
<rect x="175.51" y="211.24" width="2.58" height="2.7" fill="#f8bca0"/>
<rect x="178.04" y="211.24" width="2.58" height="2.7" fill="#f4a481"/>
<rect x="180.58" y="211.24" width="2.58" height="2.7" fill="#f7b89b"/>
<rect x="183.11" y="211.24" width="2.58" height="2.7" fill="#e48066"/>
<rect x="185.65" y="211.24" width="2.58" height="2.7" fill="#f3a380"/>
<rect x="188.18" y="211.24" width="2.58" height="2.7" fill="#f8bb9e"/>
<rect x="190.72" y="211.24" width="2.58" height="2.7" fill="#fcd6c1"/>
<rect x="193.25" y="211.24" width="2.58" height="2.7" fill="#6fafd2"/>
<rect x="195.78" y="211.24" width="2.58" height="2.7" fill="#dfecf3"/>
<rect x="198.32" y="211.24" width="2.58" height="2.7" fill="#d6e8f1"/>
<rect x="200.85" y="211.24" width="2.58" height="2.7" fill="#98c8e0"/>
<rect x="203.39" y="211.24" width="2.58" height="2.7" fill="#4f9bc7"/>
<rect x="205.92" y="211.24" width="2.58" height="2.7" fill="#78b4d5"/>
<rect x="208.46" y="211.24" width="2.58" height="2.7" fill="#afd4e6"/>
<rect x="210.99" y="211.24" width="2.58" height="2.7" fill="#f8f1ed"/>
<rect x="213.53" y="211.24" width="2.58" height="2.7" fill="#89bfdb"/>
<rect x="216.06" y="211.24" width="2.58" height="2.7" fill="#c4deec"/>
<rect x="218.59" y="211.24" width="2.58" height="2.7" fill="#2166ac"/>
<rect x="221.13" y="211.24" width="2.58" height="2.7" fill="#bcdaea"/>
<rect x="223.66" y="211.24" width="2.58" height="2.7" fill="#f8f1ec"/>
<rect x="226.2" y="211.24" width="2.58" height="2.7" fill="#9ac9e0"/>
<rect x="228.73" y="211.24" width="2.58" height="2.7" fill="#4190c2"/>
<rect x="231.27" y="211.24" width="2.58" height="2.7" fill="#4d99c6"/>
<rect x="152.7" y="213.88" width="2.58" height="2.7" fill="#f09c7b"/>
<rect x="155.23" y="213.88" width="2.58" height="2.7" fill="#f5ac8b"/>
<rect x="157.77" y="213.88" width="2.58" height="2.7" fill="#f9ece5"/>
<rect x="160.3" y="213.88" width="2.58" height="2.7" fill="#fbcfb8"/>
<rect x="162.84" y="213.88" width="2.58" height="2.7" fill="#bbdaea"/>
<rect x="165.37" y="213.88" width="2.58" height="2.7" fill="#ea8e70"/>
<rect x="167.91" y="213.88" width="2.58" height="2.7" fill="#eb9072"/>
<rect x="170.44" y="213.88" width="2.58" height="2.7" fill="#c7423f"/>
<rect x="172.97" y="213.88" width="2.58" height="2.7" fill="#f3a381"/>
<rect x="175.51" y="213.88" width="2.58" height="2.7" fill="#f9efea"/>
<rect x="178.04" y="213.88" width="2.58" height="2.7" fill="#ee9878"/>
<rect x="180.58" y="213.88" width="2.58" height="2.7" fill="#f7b697"/>
<rect x="183.11" y="213.88" width="2.58" height="2.7" fill="#f9c6ac"/>
<rect x="185.65" y="213.88" width="2.58" height="2.7" fill="#f9c4aa"/>
<rect x="188.18" y="213.88" width="2.58" height="2.7" fill="#e88a6d"/>
<rect x="190.72" y="213.88" width="2.58" height="2.7" fill="#f8f2ef"/>
<rect x="193.25" y="213.88" width="2.58" height="2.7" fill="#a7d0e4"/>
<rect x="195.78" y="213.88" width="2.58" height="2.7" fill="#8fc3dd"/>
<rect x="198.32" y="213.88" width="2.58" height="2.7" fill="#d6e7f1"/>
<rect x="200.85" y="213.88" width="2.58" height="2.7" fill="#f8f1ec"/>
<rect x="203.39" y="213.88" width="2.58" height="2.7" fill="#569fc9"/>
<rect x="205.92" y="213.88" width="2.58" height="2.7" fill="#91c5de"/>
<rect x="208.46" y="213.88" width="2.58" height="2.7" fill="#d7e8f1"/>
<rect x="210.99" y="213.88" width="2.58" height="2.7" fill="#e5eef4"/>
<rect x="213.53" y="213.88" width="2.58" height="2.7" fill="#b6d8e8"/>
<rect x="216.06" y="213.88" width="2.58" height="2.7" fill="#afd4e6"/>
<rect x="218.59" y="213.88" width="2.58" height="2.7" fill="#89bfdb"/>
<rect x="221.13" y="213.88" width="2.58" height="2.7" fill="#dfecf3"/>
<rect x="223.66" y="213.88" width="2.58" height="2.7" fill="#f7f6f4"/>
<rect x="226.2" y="213.88" width="2.58" height="2.7" fill="#c1ddeb"/>
<rect x="228.73" y="213.88" width="2.58" height="2.7" fill="#fae8dd"/>
<rect x="231.27" y="213.88" width="2.58" height="2.7" fill="#c6dfed"/>
<rect x="152.7" y="216.53" width="2.58" height="2.7" fill="#fcd5c0"/>
<rect x="155.23" y="216.53" width="2.58" height="2.7" fill="#ed9576"/>
<rect x="157.77" y="216.53" width="2.58" height="2.7" fill="#e37e64"/>
<rect x="160.3" y="216.53" width="2.58" height="2.7" fill="#f9c6ac"/>
<rect x="162.84" y="216.53" width="2.58" height="2.7" fill="#f7b698"/>
<rect x="165.37" y="216.53" width="2.58" height="2.7" fill="#fbe2d3"/>
<rect x="167.91" y="216.53" width="2.58" height="2.7" fill="#fcd6c1"/>
<rect x="170.44" y="216.53" width="2.58" height="2.7" fill="#e6856a"/>
<rect x="172.97" y="216.53" width="2.58" height="2.7" fill="#e5eff4"/>
<rect x="175.51" y="216.53" width="2.58" height="2.7" fill="#f1f4f6"/>
<rect x="178.04" y="216.53" width="2.58" height="2.7" fill="#ee9878"/>
<rect x="180.58" y="216.53" width="2.58" height="2.7" fill="#d76350"/>
<rect x="183.11" y="216.53" width="2.58" height="2.7" fill="#f2a17f"/>
<rect x="185.65" y="216.53" width="2.58" height="2.7" fill="#fcd5c0"/>
<rect x="188.18" y="216.53" width="2.58" height="2.7" fill="#f6b191"/>
<rect x="190.72" y="216.53" width="2.58" height="2.7" fill="#f6ae8e"/>
<rect x="193.25" y="216.53" width="2.58" height="2.7" fill="#7eb8d7"/>
<rect x="195.78" y="216.53" width="2.58" height="2.7" fill="#9ecbe1"/>
<rect x="198.32" y="216.53" width="2.58" height="2.7" fill="#f9eee7"/>
<rect x="200.85" y="216.53" width="2.58" height="2.7" fill="#e8f0f4"/>
<rect x="203.39" y="216.53" width="2.58" height="2.7" fill="#9ac9e0"/>
<rect x="205.92" y="216.53" width="2.58" height="2.7" fill="#b7d8e8"/>
<rect x="208.46" y="216.53" width="2.58" height="2.7" fill="#f9ede6"/>
<rect x="210.99" y="216.53" width="2.58" height="2.7" fill="#dceaf2"/>
<rect x="213.53" y="216.53" width="2.58" height="2.7" fill="#6bacd1"/>
<rect x="216.06" y="216.53" width="2.58" height="2.7" fill="#e8f0f4"/>
<rect x="218.59" y="216.53" width="2.58" height="2.7" fill="#add3e6"/>
<rect x="221.13" y="216.53" width="2.58" height="2.7" fill="#bedbeb"/>
<rect x="223.66" y="216.53" width="2.58" height="2.7" fill="#cbe2ee"/>
<rect x="226.2" y="216.53" width="2.58" height="2.7" fill="#a2cde3"/>
<rect x="228.73" y="216.53" width="2.58" height="2.7" fill="#f8f3ef"/>
<rect x="231.27" y="216.53" width="2.58" height="2.7" fill="#74b2d4"/>
<rect x="152.7" y="219.18" width="2.58" height="2.7" fill="#f4f6f7"/>
<rect x="155.23" y="219.18" width="2.58" height="2.7" fill="#f3a380"/>
<rect x="157.77" y="219.18" width="2.58" height="2.7" fill="#f9ebe3"/>
<rect x="160.3" y="219.18" width="2.58" height="2.7" fill="#f19f7d"/>
<rect x="162.84" y="219.18" width="2.58" height="2.7" fill="#e5eef4"/>
<rect x="165.37" y="219.18" width="2.58" height="2.7" fill="#f9c4aa"/>
<rect x="167.91" y="219.18" width="2.58" height="2.7" fill="#f6b293"/>
<rect x="170.44" y="219.18" width="2.58" height="2.7" fill="#f09c7b"/>
<rect x="172.97" y="219.18" width="2.58" height="2.7" fill="#f7f5f3"/>
<rect x="175.51" y="219.18" width="2.58" height="2.7" fill="#fcd8c3"/>
<rect x="178.04" y="219.18" width="2.58" height="2.7" fill="#fce0cf"/>
<rect x="180.58" y="219.18" width="2.58" height="2.7" fill="#f19e7d"/>
<rect x="183.11" y="219.18" width="2.58" height="2.7" fill="#ef9a7a"/>
<rect x="185.65" y="219.18" width="2.58" height="2.7" fill="#f5ab89"/>
<rect x="188.18" y="219.18" width="2.58" height="2.7" fill="#fbe4d7"/>
<rect x="190.72" y="219.18" width="2.58" height="2.7" fill="#f5ad8c"/>
<rect x="193.25" y="219.18" width="2.58" height="2.7" fill="#6aacd0"/>
<rect x="195.78" y="219.18" width="2.58" height="2.7" fill="#bfdceb"/>
<rect x="198.32" y="219.18" width="2.58" height="2.7" fill="#f9ece4"/>
<rect x="200.85" y="219.18" width="2.58" height="2.7" fill="#f9ece4"/>
<rect x="203.39" y="219.18" width="2.58" height="2.7" fill="#e7eff4"/>
<rect x="205.92" y="219.18" width="2.58" height="2.7" fill="#f8f4f2"/>
<rect x="208.46" y="219.18" width="2.58" height="2.7" fill="#f9efe9"/>
<rect x="210.99" y="219.18" width="2.58" height="2.7" fill="#eaf1f5"/>
<rect x="213.53" y="219.18" width="2.58" height="2.7" fill="#fcd6c1"/>
<rect x="216.06" y="219.18" width="2.58" height="2.7" fill="#89bfdb"/>
<rect x="218.59" y="219.18" width="2.58" height="2.7" fill="#b2d5e7"/>
<rect x="221.13" y="219.18" width="2.58" height="2.7" fill="#91c4de"/>
<rect x="223.66" y="219.18" width="2.58" height="2.7" fill="#ddebf2"/>
<rect x="226.2" y="219.18" width="2.58" height="2.7" fill="#75b2d4"/>
<rect x="228.73" y="219.18" width="2.58" height="2.7" fill="#f6f7f7"/>
<rect x="231.27" y="219.18" width="2.58" height="2.7" fill="#bbdaea"/>
<rect x="152.7" y="221.83" width="2.58" height="2.7" fill="#ebf2f5"/>
<rect x="155.23" y="221.83" width="2.58" height="2.7" fill="#f5ab8a"/>
<rect x="157.77" y="221.83" width="2.58" height="2.7" fill="#fac8af"/>
<rect x="160.3" y="221.83" width="2.58" height="2.7" fill="#cbe2ee"/>
<rect x="162.84" y="221.83" width="2.58" height="2.7" fill="#fce2d3"/>
<rect x="165.37" y="221.83" width="2.58" height="2.7" fill="#f9ede6"/>
<rect x="167.91" y="221.83" width="2.58" height="2.7" fill="#fdddca"/>
<rect x="170.44" y="221.83" width="2.58" height="2.7" fill="#f6b394"/>
<rect x="172.97" y="221.83" width="2.58" height="2.7" fill="#fbd1bb"/>
<rect x="175.51" y="221.83" width="2.58" height="2.7" fill="#f0f4f6"/>
<rect x="178.04" y="221.83" width="2.58" height="2.7" fill="#faeae1"/>
<rect x="180.58" y="221.83" width="2.58" height="2.7" fill="#ea8e70"/>
<rect x="183.11" y="221.83" width="2.58" height="2.7" fill="#dd7059"/>
<rect x="185.65" y="221.83" width="2.58" height="2.7" fill="#fddbc8"/>
<rect x="188.18" y="221.83" width="2.58" height="2.7" fill="#ee9878"/>
<rect x="190.72" y="221.83" width="2.58" height="2.7" fill="#fae7db"/>
<rect x="193.25" y="221.83" width="2.58" height="2.7" fill="#68abd0"/>
<rect x="195.78" y="221.83" width="2.58" height="2.7" fill="#b3d6e7"/>
<rect x="198.32" y="221.83" width="2.58" height="2.7" fill="#f7f6f6"/>
<rect x="200.85" y="221.83" width="2.58" height="2.7" fill="#bbdaea"/>
<rect x="203.39" y="221.83" width="2.58" height="2.7" fill="#76b3d4"/>
<rect x="205.92" y="221.83" width="2.58" height="2.7" fill="#9ac9e0"/>
<rect x="208.46" y="221.83" width="2.58" height="2.7" fill="#abd2e5"/>
<rect x="210.99" y="221.83" width="2.58" height="2.7" fill="#abd2e5"/>
<rect x="213.53" y="221.83" width="2.58" height="2.7" fill="#f0f4f6"/>
<rect x="216.06" y="221.83" width="2.58" height="2.7" fill="#fddcc8"/>
<rect x="218.59" y="221.83" width="2.58" height="2.7" fill="#86beda"/>
<rect x="221.13" y="221.83" width="2.58" height="2.7" fill="#90c4dd"/>
<rect x="223.66" y="221.83" width="2.58" height="2.7" fill="#d3e6f0"/>
<rect x="226.2" y="221.83" width="2.58" height="2.7" fill="#80b9d8"/>
<rect x="228.73" y="221.83" width="2.58" height="2.7" fill="#f7f6f5"/>
<rect x="231.27" y="221.83" width="2.58" height="2.7" fill="#e6eff4"/>
<rect x="152.7" y="224.47" width="2.58" height="2.7" fill="#f6f6f7"/>
<rect x="155.23" y="224.47" width="2.58" height="2.7" fill="#f7f6f5"/>
<rect x="157.77" y="224.47" width="2.58" height="2.7" fill="#ee9777"/>
<rect x="160.3" y="224.47" width="2.58" height="2.7" fill="#f0f4f6"/>
<rect x="162.84" y="224.47" width="2.58" height="2.7" fill="#d0e5f0"/>
<rect x="165.37" y="224.47" width="2.58" height="2.7" fill="#fac9b0"/>
<rect x="167.91" y="224.47" width="2.58" height="2.7" fill="#f5f6f7"/>
<rect x="170.44" y="224.47" width="2.58" height="2.7" fill="#f9c1a5"/>
<rect x="172.97" y="224.47" width="2.58" height="2.7" fill="#f7f6f5"/>
<rect x="175.51" y="224.47" width="2.58" height="2.7" fill="#f8f4f2"/>
<rect x="178.04" y="224.47" width="2.58" height="2.7" fill="#fbceb6"/>
<rect x="180.58" y="224.47" width="2.58" height="2.7" fill="#fce1d1"/>
<rect x="183.11" y="224.47" width="2.58" height="2.7" fill="#f5ad8c"/>
<rect x="185.65" y="224.47" width="2.58" height="2.7" fill="#fcd4bf"/>
<rect x="188.18" y="224.47" width="2.58" height="2.7" fill="#fce1d2"/>
<rect x="190.72" y="224.47" width="2.58" height="2.7" fill="#f8bea2"/>
<rect x="193.25" y="224.47" width="2.58" height="2.7" fill="#8dc2dc"/>
<rect x="195.78" y="224.47" width="2.58" height="2.7" fill="#519cc8"/>
<rect x="198.32" y="224.47" width="2.58" height="2.7" fill="#fae8dd"/>
<rect x="200.85" y="224.47" width="2.58" height="2.7" fill="#cbe2ee"/>
<rect x="203.39" y="224.47" width="2.58" height="2.7" fill="#e0ecf3"/>
<rect x="205.92" y="224.47" width="2.58" height="2.7" fill="#f9eee7"/>
<rect x="208.46" y="224.47" width="2.58" height="2.7" fill="#f9ede5"/>
<rect x="210.99" y="224.47" width="2.58" height="2.7" fill="#a7d0e4"/>
<rect x="213.53" y="224.47" width="2.58" height="2.7" fill="#c5dfed"/>
<rect x="216.06" y="224.47" width="2.58" height="2.7" fill="#579fca"/>
<rect x="218.59" y="224.47" width="2.58" height="2.7" fill="#9dcae1"/>
<rect x="221.13" y="224.47" width="2.58" height="2.7" fill="#e6eff4"/>
<rect x="223.66" y="224.47" width="2.58" height="2.7" fill="#d6e8f1"/>
<rect x="226.2" y="224.47" width="2.58" height="2.7" fill="#aed3e6"/>
<rect x="228.73" y="224.47" width="2.58" height="2.7" fill="#f8f5f3"/>
<rect x="231.27" y="224.47" width="2.58" height="2.7" fill="#faebe2"/>
<rect x="152.7" y="227.12" width="2.58" height="2.7" fill="#e27b62"/>
<rect x="155.23" y="227.12" width="2.58" height="2.7" fill="#facbb2"/>
<rect x="157.77" y="227.12" width="2.58" height="2.7" fill="#f19e7d"/>
<rect x="160.3" y="227.12" width="2.58" height="2.7" fill="#f7b99c"/>
<rect x="162.84" y="227.12" width="2.58" height="2.7" fill="#f7f6f5"/>
<rect x="165.37" y="227.12" width="2.58" height="2.7" fill="#e8896c"/>
<rect x="167.91" y="227.12" width="2.58" height="2.7" fill="#f9eee7"/>
<rect x="170.44" y="227.12" width="2.58" height="2.7" fill="#e88a6d"/>
<rect x="172.97" y="227.12" width="2.58" height="2.7" fill="#f7f7f7"/>
<rect x="175.51" y="227.12" width="2.58" height="2.7" fill="#f9ece5"/>
<rect x="178.04" y="227.12" width="2.58" height="2.7" fill="#eb8f71"/>
<rect x="180.58" y="227.12" width="2.58" height="2.7" fill="#fcd6c0"/>
<rect x="183.11" y="227.12" width="2.58" height="2.7" fill="#b2182b"/>
<rect x="185.65" y="227.12" width="2.58" height="2.7" fill="#f19f7d"/>
<rect x="188.18" y="227.12" width="2.58" height="2.7" fill="#fddbc7"/>
<rect x="190.72" y="227.12" width="2.58" height="2.7" fill="#fbe5d7"/>
<rect x="193.25" y="227.12" width="2.58" height="2.7" fill="#73b2d3"/>
<rect x="195.78" y="227.12" width="2.58" height="2.7" fill="#b1d5e7"/>
<rect x="198.32" y="227.12" width="2.58" height="2.7" fill="#f8f4f2"/>
<rect x="200.85" y="227.12" width="2.58" height="2.7" fill="#deebf2"/>
<rect x="203.39" y="227.12" width="2.58" height="2.7" fill="#b9d9e9"/>
<rect x="205.92" y="227.12" width="2.58" height="2.7" fill="#ebf1f5"/>
<rect x="208.46" y="227.12" width="2.58" height="2.7" fill="#cfe4ef"/>
<rect x="210.99" y="227.12" width="2.58" height="2.7" fill="#95c7df"/>
<rect x="213.53" y="227.12" width="2.58" height="2.7" fill="#93c5de"/>
<rect x="216.06" y="227.12" width="2.58" height="2.7" fill="#81bad8"/>
<rect x="218.59" y="227.12" width="2.58" height="2.7" fill="#7fb9d7"/>
<rect x="221.13" y="227.12" width="2.58" height="2.7" fill="#b3d6e8"/>
<rect x="223.66" y="227.12" width="2.58" height="2.7" fill="#eaf1f5"/>
<rect x="226.2" y="227.12" width="2.58" height="2.7" fill="#92c5de"/>
<rect x="228.73" y="227.12" width="2.58" height="2.7" fill="#fcd3bd"/>
<rect x="231.27" y="227.12" width="2.58" height="2.7" fill="#a0cce2"/>
<rect x="152.7" y="229.77" width="2.58" height="2.7" fill="#fce1d2"/>
<rect x="155.23" y="229.77" width="2.58" height="2.7" fill="#e48065"/>
<rect x="157.77" y="229.77" width="2.58" height="2.7" fill="#f6b191"/>
<rect x="160.3" y="229.77" width="2.58" height="2.7" fill="#f8c0a4"/>
<rect x="162.84" y="229.77" width="2.58" height="2.7" fill="#f4a784"/>
<rect x="165.37" y="229.77" width="2.58" height="2.7" fill="#fbcfb8"/>
<rect x="167.91" y="229.77" width="2.58" height="2.7" fill="#facab1"/>
<rect x="170.44" y="229.77" width="2.58" height="2.7" fill="#b2182b"/>
<rect x="172.97" y="229.77" width="2.58" height="2.7" fill="#f2f4f6"/>
<rect x="175.51" y="229.77" width="2.58" height="2.7" fill="#e0765e"/>
<rect x="178.04" y="229.77" width="2.58" height="2.7" fill="#fbe5d9"/>
<rect x="180.58" y="229.77" width="2.58" height="2.7" fill="#faeae1"/>
<rect x="183.11" y="229.77" width="2.58" height="2.7" fill="#e68569"/>
<rect x="185.65" y="229.77" width="2.58" height="2.7" fill="#e17a61"/>
<rect x="188.18" y="229.77" width="2.58" height="2.7" fill="#f5ae8d"/>
<rect x="190.72" y="229.77" width="2.58" height="2.7" fill="#f9ece4"/>
<rect x="193.25" y="229.77" width="2.58" height="2.7" fill="#82bbd9"/>
<rect x="195.78" y="229.77" width="2.58" height="2.7" fill="#aad1e5"/>
<rect x="198.32" y="229.77" width="2.58" height="2.7" fill="#fae8dd"/>
<rect x="200.85" y="229.77" width="2.58" height="2.7" fill="#f8f2ee"/>
<rect x="203.39" y="229.77" width="2.58" height="2.7" fill="#83bbd9"/>
<rect x="205.92" y="229.77" width="2.58" height="2.7" fill="#d8e8f1"/>
<rect x="208.46" y="229.77" width="2.58" height="2.7" fill="#e4eef3"/>
<rect x="210.99" y="229.77" width="2.58" height="2.7" fill="#ddebf2"/>
<rect x="213.53" y="229.77" width="2.58" height="2.7" fill="#a5cfe3"/>
<rect x="216.06" y="229.77" width="2.58" height="2.7" fill="#b2d5e7"/>
<rect x="218.59" y="229.77" width="2.58" height="2.7" fill="#83bcd9"/>
<rect x="221.13" y="229.77" width="2.58" height="2.7" fill="#e4eef3"/>
<rect x="223.66" y="229.77" width="2.58" height="2.7" fill="#f8f2ee"/>
<rect x="226.2" y="229.77" width="2.58" height="2.7" fill="#d7e8f1"/>
<rect x="228.73" y="229.77" width="2.58" height="2.7" fill="#ddebf2"/>
<rect x="231.27" y="229.77" width="2.58" height="2.7" fill="#cee3ef"/>
<rect x="152.7" y="232.42" width="2.58" height="2.7" fill="#f9ede6"/>
<rect x="155.23" y="232.42" width="2.58" height="2.7" fill="#fac7ad"/>
<rect x="157.77" y="232.42" width="2.58" height="2.7" fill="#f4a582"/>
<rect x="160.3" y="232.42" width="2.58" height="2.7" fill="#fae7db"/>
<rect x="162.84" y="232.42" width="2.58" height="2.7" fill="#f8bc9f"/>
<rect x="165.37" y="232.42" width="2.58" height="2.7" fill="#f8f4f2"/>
<rect x="167.91" y="232.42" width="2.58" height="2.7" fill="#fbd0b9"/>
<rect x="170.44" y="232.42" width="2.58" height="2.7" fill="#f7f6f6"/>
<rect x="172.97" y="232.42" width="2.58" height="2.7" fill="#fdd9c5"/>
<rect x="175.51" y="232.42" width="2.58" height="2.7" fill="#fce2d3"/>
<rect x="178.04" y="232.42" width="2.58" height="2.7" fill="#e98c6e"/>
<rect x="180.58" y="232.42" width="2.58" height="2.7" fill="#f5aa88"/>
<rect x="183.11" y="232.42" width="2.58" height="2.7" fill="#e58368"/>
<rect x="185.65" y="232.42" width="2.58" height="2.7" fill="#f3a280"/>
<rect x="188.18" y="232.42" width="2.58" height="2.7" fill="#fbe5d8"/>
<rect x="190.72" y="232.42" width="2.58" height="2.7" fill="#e27b62"/>
<rect x="193.25" y="232.42" width="2.58" height="2.7" fill="#509bc7"/>
<rect x="195.78" y="232.42" width="2.58" height="2.7" fill="#c3deec"/>
<rect x="198.32" y="232.42" width="2.58" height="2.7" fill="#f9ede6"/>
<rect x="200.85" y="232.42" width="2.58" height="2.7" fill="#deebf2"/>
<rect x="203.39" y="232.42" width="2.58" height="2.7" fill="#9ccae1"/>
<rect x="205.92" y="232.42" width="2.58" height="2.7" fill="#82bbd8"/>
<rect x="208.46" y="232.42" width="2.58" height="2.7" fill="#acd2e5"/>
<rect x="210.99" y="232.42" width="2.58" height="2.7" fill="#b7d8e9"/>
<rect x="213.53" y="232.42" width="2.58" height="2.7" fill="#5fa5cc"/>
<rect x="216.06" y="232.42" width="2.58" height="2.7" fill="#94c6df"/>
<rect x="218.59" y="232.42" width="2.58" height="2.7" fill="#9ecbe1"/>
<rect x="221.13" y="232.42" width="2.58" height="2.7" fill="#dceaf2"/>
<rect x="223.66" y="232.42" width="2.58" height="2.7" fill="#fbe5d8"/>
<rect x="226.2" y="232.42" width="2.58" height="2.7" fill="#d3e6f0"/>
<rect x="228.73" y="232.42" width="2.58" height="2.7" fill="#c5dfed"/>
<rect x="231.27" y="232.42" width="2.58" height="2.7" fill="#abd2e5"/>
<rect x="152.7" y="235.06" width="2.58" height="2.7" fill="#e2edf3"/>
<rect x="155.23" y="235.06" width="2.58" height="2.7" fill="#d3594a"/>
<rect x="157.77" y="235.06" width="2.58" height="2.7" fill="#ef9a7a"/>
<rect x="160.3" y="235.06" width="2.58" height="2.7" fill="#fbe6da"/>
<rect x="162.84" y="235.06" width="2.58" height="2.7" fill="#fce2d3"/>
<rect x="165.37" y="235.06" width="2.58" height="2.7" fill="#f9efea"/>
<rect x="167.91" y="235.06" width="2.58" height="2.7" fill="#fac6ac"/>
<rect x="170.44" y="235.06" width="2.58" height="2.7" fill="#f7f6f5"/>
<rect x="172.97" y="235.06" width="2.58" height="2.7" fill="#f7f6f5"/>
<rect x="175.51" y="235.06" width="2.58" height="2.7" fill="#fce1d1"/>
<rect x="178.04" y="235.06" width="2.58" height="2.7" fill="#fae7dc"/>
<rect x="180.58" y="235.06" width="2.58" height="2.7" fill="#f8f4f2"/>
<rect x="183.11" y="235.06" width="2.58" height="2.7" fill="#f6b090"/>
<rect x="185.65" y="235.06" width="2.58" height="2.7" fill="#f7b89a"/>
<rect x="188.18" y="235.06" width="2.58" height="2.7" fill="#fbd0b9"/>
<rect x="190.72" y="235.06" width="2.58" height="2.7" fill="#fdddca"/>
<rect x="193.25" y="235.06" width="2.58" height="2.7" fill="#5ba2cb"/>
<rect x="195.78" y="235.06" width="2.58" height="2.7" fill="#cee4ef"/>
<rect x="198.32" y="235.06" width="2.58" height="2.7" fill="#81bad8"/>
<rect x="200.85" y="235.06" width="2.58" height="2.7" fill="#e2edf3"/>
<rect x="203.39" y="235.06" width="2.58" height="2.7" fill="#e2edf3"/>
<rect x="205.92" y="235.06" width="2.58" height="2.7" fill="#f7f5f4"/>
<rect x="208.46" y="235.06" width="2.58" height="2.7" fill="#c5dfed"/>
<rect x="210.99" y="235.06" width="2.58" height="2.7" fill="#f4f6f6"/>
<rect x="213.53" y="235.06" width="2.58" height="2.7" fill="#e3edf3"/>
<rect x="216.06" y="235.06" width="2.58" height="2.7" fill="#8ec3dd"/>
<rect x="218.59" y="235.06" width="2.58" height="2.7" fill="#f1f4f6"/>
<rect x="221.13" y="235.06" width="2.58" height="2.7" fill="#d3e6f0"/>
<rect x="223.66" y="235.06" width="2.58" height="2.7" fill="#f9ede6"/>
<rect x="226.2" y="235.06" width="2.58" height="2.7" fill="#8dc2dc"/>
<rect x="228.73" y="235.06" width="2.58" height="2.7" fill="#b1d5e7"/>
<rect x="231.27" y="235.06" width="2.58" height="2.7" fill="#f7f6f5"/>
<rect x="152.7" y="237.71" width="2.58" height="2.7" fill="#fcdecc"/>
<rect x="155.23" y="237.71" width="2.58" height="2.7" fill="#fdddca"/>
<rect x="157.77" y="237.71" width="2.58" height="2.7" fill="#e98b6e"/>
<rect x="160.3" y="237.71" width="2.58" height="2.7" fill="#f7f5f4"/>
<rect x="162.84" y="237.71" width="2.58" height="2.7" fill="#fce0d0"/>
<rect x="165.37" y="237.71" width="2.58" height="2.7" fill="#d5e7f1"/>
<rect x="167.91" y="237.71" width="2.58" height="2.7" fill="#fce0d0"/>
<rect x="170.44" y="237.71" width="2.58" height="2.7" fill="#f6b090"/>
<rect x="172.97" y="237.71" width="2.58" height="2.7" fill="#fcd4be"/>
<rect x="175.51" y="237.71" width="2.58" height="2.7" fill="#ee9778"/>
<rect x="178.04" y="237.71" width="2.58" height="2.7" fill="#f9c3a8"/>
<rect x="180.58" y="237.71" width="2.58" height="2.7" fill="#f6b293"/>
<rect x="183.11" y="237.71" width="2.58" height="2.7" fill="#f09c7b"/>
<rect x="185.65" y="237.71" width="2.58" height="2.7" fill="#f9c0a5"/>
<rect x="188.18" y="237.71" width="2.58" height="2.7" fill="#f8f3f1"/>
<rect x="190.72" y="237.71" width="2.58" height="2.7" fill="#f4a886"/>
<rect x="193.25" y="237.71" width="2.58" height="2.7" fill="#2970b1"/>
<rect x="195.78" y="237.71" width="2.58" height="2.7" fill="#f8f1ec"/>
<rect x="198.32" y="237.71" width="2.58" height="2.7" fill="#79b5d6"/>
<rect x="200.85" y="237.71" width="2.58" height="2.7" fill="#fcd7c2"/>
<rect x="203.39" y="237.71" width="2.58" height="2.7" fill="#d0e4f0"/>
<rect x="205.92" y="237.71" width="2.58" height="2.7" fill="#7ab6d6"/>
<rect x="208.46" y="237.71" width="2.58" height="2.7" fill="#3783bb"/>
<rect x="210.99" y="237.71" width="2.58" height="2.7" fill="#f8f3f0"/>
<rect x="213.53" y="237.71" width="2.58" height="2.7" fill="#d7e8f1"/>
<rect x="216.06" y="237.71" width="2.58" height="2.7" fill="#83bbd9"/>
<rect x="218.59" y="237.71" width="2.58" height="2.7" fill="#3885bc"/>
<rect x="221.13" y="237.71" width="2.58" height="2.7" fill="#bcdaea"/>
<rect x="223.66" y="237.71" width="2.58" height="2.7" fill="#deebf2"/>
<rect x="226.2" y="237.71" width="2.58" height="2.7" fill="#82bbd9"/>
<rect x="228.73" y="237.71" width="2.58" height="2.7" fill="#fce0d0"/>
<rect x="231.27" y="237.71" width="2.58" height="2.7" fill="#dae9f2"/>
<rect x="152.7" y="240.36" width="2.58" height="2.7" fill="#f7f6f5"/>
<rect x="155.23" y="240.36" width="2.58" height="2.7" fill="#f7f5f4"/>
<rect x="157.77" y="240.36" width="2.58" height="2.7" fill="#f2a07e"/>
<rect x="160.3" y="240.36" width="2.58" height="2.7" fill="#fae8de"/>
<rect x="162.84" y="240.36" width="2.58" height="2.7" fill="#eff3f5"/>
<rect x="165.37" y="240.36" width="2.58" height="2.7" fill="#f8bb9e"/>
<rect x="167.91" y="240.36" width="2.58" height="2.7" fill="#fbd0b8"/>
<rect x="170.44" y="240.36" width="2.58" height="2.7" fill="#fac7ad"/>
<rect x="172.97" y="240.36" width="2.58" height="2.7" fill="#f8bb9e"/>
<rect x="175.51" y="240.36" width="2.58" height="2.7" fill="#f7f6f6"/>
<rect x="178.04" y="240.36" width="2.58" height="2.7" fill="#f7b799"/>
<rect x="180.58" y="240.36" width="2.58" height="2.7" fill="#f6b293"/>
<rect x="183.11" y="240.36" width="2.58" height="2.7" fill="#e27c63"/>
<rect x="185.65" y="240.36" width="2.58" height="2.7" fill="#fce1d1"/>
<rect x="188.18" y="240.36" width="2.58" height="2.7" fill="#eb8f71"/>
<rect x="190.72" y="240.36" width="2.58" height="2.7" fill="#f3a481"/>
<rect x="193.25" y="240.36" width="2.58" height="2.7" fill="#96c7df"/>
<rect x="195.78" y="240.36" width="2.58" height="2.7" fill="#d7e8f1"/>
<rect x="198.32" y="240.36" width="2.58" height="2.7" fill="#b2d5e7"/>
<rect x="200.85" y="240.36" width="2.58" height="2.7" fill="#e4eef3"/>
<rect x="203.39" y="240.36" width="2.58" height="2.7" fill="#2d76b4"/>
<rect x="205.92" y="240.36" width="2.58" height="2.7" fill="#8bc1dc"/>
<rect x="208.46" y="240.36" width="2.58" height="2.7" fill="#d1e5f0"/>
<rect x="210.99" y="240.36" width="2.58" height="2.7" fill="#d7e8f1"/>
<rect x="213.53" y="240.36" width="2.58" height="2.7" fill="#d1e5f0"/>
<rect x="216.06" y="240.36" width="2.58" height="2.7" fill="#cfe4ef"/>
<rect x="218.59" y="240.36" width="2.58" height="2.7" fill="#85bcd9"/>
<rect x="221.13" y="240.36" width="2.58" height="2.7" fill="#9ccae1"/>
<rect x="223.66" y="240.36" width="2.58" height="2.7" fill="#93c6de"/>
<rect x="226.2" y="240.36" width="2.58" height="2.7" fill="#7eb8d7"/>
<rect x="228.73" y="240.36" width="2.58" height="2.7" fill="#9dcbe1"/>
<rect x="231.27" y="240.36" width="2.58" height="2.7" fill="#98c8e0"/>
<rect x="152.7" y="243" width="2.58" height="2.7" fill="#fae7dc"/>
<rect x="155.23" y="243" width="2.58" height="2.7" fill="#f6b393"/>
<rect x="157.77" y="243" width="2.58" height="2.7" fill="#f6b293"/>
<rect x="160.3" y="243" width="2.58" height="2.7" fill="#f8bfa4"/>
<rect x="162.84" y="243" width="2.58" height="2.7" fill="#faeae0"/>
<rect x="165.37" y="243" width="2.58" height="2.7" fill="#f8f4f2"/>
<rect x="167.91" y="243" width="2.58" height="2.7" fill="#fac8af"/>
<rect x="170.44" y="243" width="2.58" height="2.7" fill="#f5f6f7"/>
<rect x="172.97" y="243" width="2.58" height="2.7" fill="#f7f7f7"/>
<rect x="175.51" y="243" width="2.58" height="2.7" fill="#fdddcb"/>
<rect x="178.04" y="243" width="2.58" height="2.7" fill="#f4a582"/>
<rect x="180.58" y="243" width="2.58" height="2.7" fill="#fddac6"/>
<rect x="183.11" y="243" width="2.58" height="2.7" fill="#f09c7b"/>
<rect x="185.65" y="243" width="2.58" height="2.7" fill="#f9c2a7"/>
<rect x="188.18" y="243" width="2.58" height="2.7" fill="#ec9274"/>
<rect x="190.72" y="243" width="2.58" height="2.7" fill="#ebf2f5"/>
<rect x="193.25" y="243" width="2.58" height="2.7" fill="#4494c3"/>
<rect x="195.78" y="243" width="2.58" height="2.7" fill="#9ecbe2"/>
<rect x="198.32" y="243" width="2.58" height="2.7" fill="#b6d7e8"/>
<rect x="200.85" y="243" width="2.58" height="2.7" fill="#e0ecf3"/>
<rect x="203.39" y="243" width="2.58" height="2.7" fill="#cbe2ee"/>
<rect x="205.92" y="243" width="2.58" height="2.7" fill="#3d8bbf"/>
<rect x="208.46" y="243" width="2.58" height="2.7" fill="#b0d4e7"/>
<rect x="210.99" y="243" width="2.58" height="2.7" fill="#d7e8f1"/>
<rect x="213.53" y="243" width="2.58" height="2.7" fill="#85bdda"/>
<rect x="216.06" y="243" width="2.58" height="2.7" fill="#abd2e5"/>
<rect x="218.59" y="243" width="2.58" height="2.7" fill="#3581ba"/>
<rect x="221.13" y="243" width="2.58" height="2.7" fill="#b7d8e9"/>
<rect x="223.66" y="243" width="2.58" height="2.7" fill="#fbceb7"/>
<rect x="226.2" y="243" width="2.58" height="2.7" fill="#8ac0db"/>
<rect x="228.73" y="243" width="2.58" height="2.7" fill="#dceaf2"/>
<rect x="231.27" y="243" width="2.58" height="2.7" fill="#9dcbe1"/>
<rect x="152.7" y="245.65" width="2.58" height="2.7" fill="#f2f5f6"/>
<rect x="155.23" y="245.65" width="2.58" height="2.7" fill="#fae9df"/>
<rect x="157.77" y="245.65" width="2.58" height="2.7" fill="#de725b"/>
<rect x="160.3" y="245.65" width="2.58" height="2.7" fill="#f5ad8c"/>
<rect x="162.84" y="245.65" width="2.58" height="2.7" fill="#c7e0ed"/>
<rect x="165.37" y="245.65" width="2.58" height="2.7" fill="#f6af8f"/>
<rect x="167.91" y="245.65" width="2.58" height="2.7" fill="#f9c4a9"/>
<rect x="170.44" y="245.65" width="2.58" height="2.7" fill="#f3a481"/>
<rect x="172.97" y="245.65" width="2.58" height="2.7" fill="#f9c4aa"/>
<rect x="175.51" y="245.65" width="2.58" height="2.7" fill="#f8f2ef"/>
<rect x="178.04" y="245.65" width="2.58" height="2.7" fill="#f4a481"/>
<rect x="180.58" y="245.65" width="2.58" height="2.7" fill="#fae7db"/>
<rect x="183.11" y="245.65" width="2.58" height="2.7" fill="#f5ac8a"/>
<rect x="185.65" y="245.65" width="2.58" height="2.7" fill="#f6af8f"/>
<rect x="188.18" y="245.65" width="2.58" height="2.7" fill="#fcd4be"/>
<rect x="190.72" y="245.65" width="2.58" height="2.7" fill="#f4f5f6"/>
<rect x="193.25" y="245.65" width="2.58" height="2.7" fill="#57a0ca"/>
<rect x="195.78" y="245.65" width="2.58" height="2.7" fill="#97c7df"/>
<rect x="198.32" y="245.65" width="2.58" height="2.7" fill="#e0ecf3"/>
<rect x="200.85" y="245.65" width="2.58" height="2.7" fill="#e3edf3"/>
<rect x="203.39" y="245.65" width="2.58" height="2.7" fill="#eaf1f5"/>
<rect x="205.92" y="245.65" width="2.58" height="2.7" fill="#cae1ee"/>
<rect x="208.46" y="245.65" width="2.58" height="2.7" fill="#fbe5d8"/>
<rect x="210.99" y="245.65" width="2.58" height="2.7" fill="#ebf2f5"/>
<rect x="213.53" y="245.65" width="2.58" height="2.7" fill="#97c7df"/>
<rect x="216.06" y="245.65" width="2.58" height="2.7" fill="#dbeaf2"/>
<rect x="218.59" y="245.65" width="2.58" height="2.7" fill="#88bfdb"/>
<rect x="221.13" y="245.65" width="2.58" height="2.7" fill="#dae9f2"/>
<rect x="223.66" y="245.65" width="2.58" height="2.7" fill="#dbeaf2"/>
<rect x="226.2" y="245.65" width="2.58" height="2.7" fill="#bedbea"/>
<rect x="228.73" y="245.65" width="2.58" height="2.7" fill="#fac6ac"/>
<rect x="231.27" y="245.65" width="2.58" height="2.7" fill="#f7f5f4"/>
<rect x="152.7" y="248.3" width="2.58" height="2.7" fill="#eaf1f5"/>
<rect x="155.23" y="248.3" width="2.58" height="2.7" fill="#f4a784"/>
<rect x="157.77" y="248.3" width="2.58" height="2.7" fill="#faebe2"/>
<rect x="160.3" y="248.3" width="2.58" height="2.7" fill="#fbe7db"/>
<rect x="162.84" y="248.3" width="2.58" height="2.7" fill="#d96652"/>
<rect x="165.37" y="248.3" width="2.58" height="2.7" fill="#f9ede7"/>
<rect x="167.91" y="248.3" width="2.58" height="2.7" fill="#f9c4a9"/>
<rect x="170.44" y="248.3" width="2.58" height="2.7" fill="#dc6f58"/>
<rect x="172.97" y="248.3" width="2.58" height="2.7" fill="#dbeaf2"/>
<rect x="175.51" y="248.3" width="2.58" height="2.7" fill="#f7f6f5"/>
<rect x="178.04" y="248.3" width="2.58" height="2.7" fill="#facbb2"/>
<rect x="180.58" y="248.3" width="2.58" height="2.7" fill="#faccb3"/>
<rect x="183.11" y="248.3" width="2.58" height="2.7" fill="#e98c6f"/>
<rect x="185.65" y="248.3" width="2.58" height="2.7" fill="#e58267"/>
<rect x="188.18" y="248.3" width="2.58" height="2.7" fill="#fddcc8"/>
<rect x="190.72" y="248.3" width="2.58" height="2.7" fill="#ec9274"/>
<rect x="193.25" y="248.3" width="2.58" height="2.7" fill="#84bcd9"/>
<rect x="195.78" y="248.3" width="2.58" height="2.7" fill="#f0f4f6"/>
<rect x="198.32" y="248.3" width="2.58" height="2.7" fill="#b9d9e9"/>
<rect x="200.85" y="248.3" width="2.58" height="2.7" fill="#c5dfed"/>
<rect x="203.39" y="248.3" width="2.58" height="2.7" fill="#408fc1"/>
<rect x="205.92" y="248.3" width="2.58" height="2.7" fill="#e5eff4"/>
<rect x="208.46" y="248.3" width="2.58" height="2.7" fill="#f9ede6"/>
<rect x="210.99" y="248.3" width="2.58" height="2.7" fill="#d5e7f1"/>
<rect x="213.53" y="248.3" width="2.58" height="2.7" fill="#79b5d6"/>
<rect x="216.06" y="248.3" width="2.58" height="2.7" fill="#a4cee3"/>
<rect x="218.59" y="248.3" width="2.58" height="2.7" fill="#b9d9e9"/>
<rect x="221.13" y="248.3" width="2.58" height="2.7" fill="#e0ecf3"/>
<rect x="223.66" y="248.3" width="2.58" height="2.7" fill="#f1f4f6"/>
<rect x="226.2" y="248.3" width="2.58" height="2.7" fill="#8bc1dc"/>
<rect x="228.73" y="248.3" width="2.58" height="2.7" fill="#f5ad8d"/>
<rect x="231.27" y="248.3" width="2.58" height="2.7" fill="#d4e6f1"/>
<rect x="152.7" y="250.95" width="2.58" height="2.7" fill="#ddebf2"/>
<rect x="155.23" y="250.95" width="2.58" height="2.7" fill="#fddcc9"/>
<rect x="157.77" y="250.95" width="2.58" height="2.7" fill="#f7b99b"/>
<rect x="160.3" y="250.95" width="2.58" height="2.7" fill="#d8e8f1"/>
<rect x="162.84" y="250.95" width="2.58" height="2.7" fill="#f8f1ec"/>
<rect x="165.37" y="250.95" width="2.58" height="2.7" fill="#f9eee7"/>
<rect x="167.91" y="250.95" width="2.58" height="2.7" fill="#fddcc9"/>
<rect x="170.44" y="250.95" width="2.58" height="2.7" fill="#ed9676"/>
<rect x="172.97" y="250.95" width="2.58" height="2.7" fill="#f9eee8"/>
<rect x="175.51" y="250.95" width="2.58" height="2.7" fill="#e2edf3"/>
<rect x="178.04" y="250.95" width="2.58" height="2.7" fill="#fbe2d3"/>
<rect x="180.58" y="250.95" width="2.58" height="2.7" fill="#d7e8f1"/>
<rect x="183.11" y="250.95" width="2.58" height="2.7" fill="#ef9979"/>
<rect x="185.65" y="250.95" width="2.58" height="2.7" fill="#fdd8c4"/>
<rect x="188.18" y="250.95" width="2.58" height="2.7" fill="#e6eff4"/>
<rect x="190.72" y="250.95" width="2.58" height="2.7" fill="#ee9777"/>
<rect x="193.25" y="250.95" width="2.58" height="2.7" fill="#5ba2cb"/>
<rect x="195.78" y="250.95" width="2.58" height="2.7" fill="#f9eee8"/>
<rect x="198.32" y="250.95" width="2.58" height="2.7" fill="#e8f0f4"/>
<rect x="200.85" y="250.95" width="2.58" height="2.7" fill="#f9eee7"/>
<rect x="203.39" y="250.95" width="2.58" height="2.7" fill="#d8e8f1"/>
<rect x="205.92" y="250.95" width="2.58" height="2.7" fill="#bfdceb"/>
<rect x="208.46" y="250.95" width="2.58" height="2.7" fill="#92c5de"/>
<rect x="210.99" y="250.95" width="2.58" height="2.7" fill="#a7d0e4"/>
<rect x="213.53" y="250.95" width="2.58" height="2.7" fill="#8cc1dc"/>
<rect x="216.06" y="250.95" width="2.58" height="2.7" fill="#deebf2"/>
<rect x="218.59" y="250.95" width="2.58" height="2.7" fill="#cbe2ee"/>
<rect x="221.13" y="250.95" width="2.58" height="2.7" fill="#dae9f2"/>
<rect x="223.66" y="250.95" width="2.58" height="2.7" fill="#faebe2"/>
<rect x="226.2" y="250.95" width="2.58" height="2.7" fill="#9dcbe1"/>
<rect x="228.73" y="250.95" width="2.58" height="2.7" fill="#f8f0eb"/>
<rect x="231.27" y="250.95" width="2.58" height="2.7" fill="#d7e8f1"/>
<rect x="152.7" y="253.59" width="2.58" height="2.7" fill="#d4e7f1"/>
<rect x="155.23" y="253.59" width="2.58" height="2.7" fill="#fcdfcd"/>
<rect x="157.77" y="253.59" width="2.58" height="2.7" fill="#facab1"/>
<rect x="160.3" y="253.59" width="2.58" height="2.7" fill="#d05447"/>
<rect x="162.84" y="253.59" width="2.58" height="2.7" fill="#f8f2ee"/>
<rect x="165.37" y="253.59" width="2.58" height="2.7" fill="#f7f6f6"/>
<rect x="167.91" y="253.59" width="2.58" height="2.7" fill="#f6b495"/>
<rect x="170.44" y="253.59" width="2.58" height="2.7" fill="#f2a07e"/>
<rect x="172.97" y="253.59" width="2.58" height="2.7" fill="#d7e8f1"/>
<rect x="175.51" y="253.59" width="2.58" height="2.7" fill="#f9eee8"/>
<rect x="178.04" y="253.59" width="2.58" height="2.7" fill="#fbceb6"/>
<rect x="180.58" y="253.59" width="2.58" height="2.7" fill="#f6b090"/>
<rect x="183.11" y="253.59" width="2.58" height="2.7" fill="#fcd4bf"/>
<rect x="185.65" y="253.59" width="2.58" height="2.7" fill="#f4a684"/>
<rect x="188.18" y="253.59" width="2.58" height="2.7" fill="#f9efe8"/>
<rect x="190.72" y="253.59" width="2.58" height="2.7" fill="#f1f4f6"/>
<rect x="193.25" y="253.59" width="2.58" height="2.7" fill="#85bdd9"/>
<rect x="195.78" y="253.59" width="2.58" height="2.7" fill="#cde3ef"/>
<rect x="198.32" y="253.59" width="2.58" height="2.7" fill="#fce0cf"/>
<rect x="200.85" y="253.59" width="2.58" height="2.7" fill="#f8f3f1"/>
<rect x="203.39" y="253.59" width="2.58" height="2.7" fill="#a0cce2"/>
<rect x="205.92" y="253.59" width="2.58" height="2.7" fill="#a6cfe4"/>
<rect x="208.46" y="253.59" width="2.58" height="2.7" fill="#ebf1f5"/>
<rect x="210.99" y="253.59" width="2.58" height="2.7" fill="#e2edf3"/>
<rect x="213.53" y="253.59" width="2.58" height="2.7" fill="#9ecbe1"/>
<rect x="216.06" y="253.59" width="2.58" height="2.7" fill="#a7d0e4"/>
<rect x="218.59" y="253.59" width="2.58" height="2.7" fill="#edf2f5"/>
<rect x="221.13" y="253.59" width="2.58" height="2.7" fill="#b9d9e9"/>
<rect x="223.66" y="253.59" width="2.58" height="2.7" fill="#ebf1f5"/>
<rect x="226.2" y="253.59" width="2.58" height="2.7" fill="#c7e0ed"/>
<rect x="228.73" y="253.59" width="2.58" height="2.7" fill="#d7e8f1"/>
<rect x="231.27" y="253.59" width="2.58" height="2.7" fill="#dceaf2"/>
<rect x="152.7" y="256.24" width="2.58" height="2.7" fill="#f6f7f7"/>
<rect x="155.23" y="256.24" width="2.58" height="2.7" fill="#fbd1bb"/>
<rect x="157.77" y="256.24" width="2.58" height="2.7" fill="#e7886c"/>
<rect x="160.3" y="256.24" width="2.58" height="2.7" fill="#fbd1bb"/>
<rect x="162.84" y="256.24" width="2.58" height="2.7" fill="#e58267"/>
<rect x="165.37" y="256.24" width="2.58" height="2.7" fill="#e7f0f4"/>
<rect x="167.91" y="256.24" width="2.58" height="2.7" fill="#fae8dd"/>
<rect x="170.44" y="256.24" width="2.58" height="2.7" fill="#fbe5d9"/>
<rect x="172.97" y="256.24" width="2.58" height="2.7" fill="#e1edf3"/>
<rect x="175.51" y="256.24" width="2.58" height="2.7" fill="#e5eef4"/>
<rect x="178.04" y="256.24" width="2.58" height="2.7" fill="#fbd2bb"/>
<rect x="180.58" y="256.24" width="2.58" height="2.7" fill="#cde3ef"/>
<rect x="183.11" y="256.24" width="2.58" height="2.7" fill="#fac7ad"/>
<rect x="185.65" y="256.24" width="2.58" height="2.7" fill="#fcd8c3"/>
<rect x="188.18" y="256.24" width="2.58" height="2.7" fill="#f2a17f"/>
<rect x="190.72" y="256.24" width="2.58" height="2.7" fill="#f1f4f6"/>
<rect x="193.25" y="256.24" width="2.58" height="2.7" fill="#63a7ce"/>
<rect x="195.78" y="256.24" width="2.58" height="2.7" fill="#91c4de"/>
<rect x="198.32" y="256.24" width="2.58" height="2.7" fill="#a5cfe4"/>
<rect x="200.85" y="256.24" width="2.58" height="2.7" fill="#f8f4f1"/>
<rect x="203.39" y="256.24" width="2.58" height="2.7" fill="#9ac9e0"/>
<rect x="205.92" y="256.24" width="2.58" height="2.7" fill="#8fc3dd"/>
<rect x="208.46" y="256.24" width="2.58" height="2.7" fill="#e5eef4"/>
<rect x="210.99" y="256.24" width="2.58" height="2.7" fill="#f0f4f6"/>
<rect x="213.53" y="256.24" width="2.58" height="2.7" fill="#b8d8e9"/>
<rect x="216.06" y="256.24" width="2.58" height="2.7" fill="#9ac9e0"/>
<rect x="218.59" y="256.24" width="2.58" height="2.7" fill="#e3eef3"/>
<rect x="221.13" y="256.24" width="2.58" height="2.7" fill="#aad1e5"/>
<rect x="223.66" y="256.24" width="2.58" height="2.7" fill="#fbe3d4"/>
<rect x="226.2" y="256.24" width="2.58" height="2.7" fill="#deebf2"/>
<rect x="228.73" y="256.24" width="2.58" height="2.7" fill="#f8f3f0"/>
<rect x="231.27" y="256.24" width="2.58" height="2.7" fill="#b2d5e7"/>
<rect x="152.7" y="258.89" width="2.58" height="2.7" fill="#f4a582"/>
<rect x="155.23" y="258.89" width="2.58" height="2.7" fill="#f6b495"/>
<rect x="157.77" y="258.89" width="2.58" height="2.7" fill="#ef9979"/>
<rect x="160.3" y="258.89" width="2.58" height="2.7" fill="#fcdfcd"/>
<rect x="162.84" y="258.89" width="2.58" height="2.7" fill="#ebf1f5"/>
<rect x="165.37" y="258.89" width="2.58" height="2.7" fill="#e98b6e"/>
<rect x="167.91" y="258.89" width="2.58" height="2.7" fill="#f5ab8a"/>
<rect x="170.44" y="258.89" width="2.58" height="2.7" fill="#f7b799"/>
<rect x="172.97" y="258.89" width="2.58" height="2.7" fill="#d8e8f1"/>
<rect x="175.51" y="258.89" width="2.58" height="2.7" fill="#fae7dc"/>
<rect x="178.04" y="258.89" width="2.58" height="2.7" fill="#e98d6f"/>
<rect x="180.58" y="258.89" width="2.58" height="2.7" fill="#f4a481"/>
<rect x="183.11" y="258.89" width="2.58" height="2.7" fill="#fac9af"/>
<rect x="185.65" y="258.89" width="2.58" height="2.7" fill="#f3a380"/>
<rect x="188.18" y="258.89" width="2.58" height="2.7" fill="#f6b090"/>
<rect x="190.72" y="258.89" width="2.58" height="2.7" fill="#f5ae8d"/>
<rect x="193.25" y="258.89" width="2.58" height="2.7" fill="#61a6cd"/>
<rect x="195.78" y="258.89" width="2.58" height="2.7" fill="#eff3f6"/>
<rect x="198.32" y="258.89" width="2.58" height="2.7" fill="#83bcd9"/>
<rect x="200.85" y="258.89" width="2.58" height="2.7" fill="#bfdceb"/>
<rect x="203.39" y="258.89" width="2.58" height="2.7" fill="#ebf1f5"/>
<rect x="205.92" y="258.89" width="2.58" height="2.7" fill="#d2e6f0"/>
<rect x="208.46" y="258.89" width="2.58" height="2.7" fill="#b3d6e8"/>
<rect x="210.99" y="258.89" width="2.58" height="2.7" fill="#bfdceb"/>
<rect x="213.53" y="258.89" width="2.58" height="2.7" fill="#a3cee3"/>
<rect x="216.06" y="258.89" width="2.58" height="2.7" fill="#c5dfed"/>
<rect x="218.59" y="258.89" width="2.58" height="2.7" fill="#6daed1"/>
<rect x="221.13" y="258.89" width="2.58" height="2.7" fill="#deebf2"/>
<rect x="223.66" y="258.89" width="2.58" height="2.7" fill="#f8f2ee"/>
<rect x="226.2" y="258.89" width="2.58" height="2.7" fill="#add3e6"/>
<rect x="228.73" y="258.89" width="2.58" height="2.7" fill="#569fca"/>
<rect x="231.27" y="258.89" width="2.58" height="2.7" fill="#bcdaea"/>
<rect x="152.7" y="261.53" width="2.58" height="2.7" fill="#f8f1ed"/>
<rect x="155.23" y="261.53" width="2.58" height="2.7" fill="#f8bca0"/>
<rect x="157.77" y="261.53" width="2.58" height="2.7" fill="#f8bda1"/>
<rect x="160.3" y="261.53" width="2.58" height="2.7" fill="#faeae1"/>
<rect x="162.84" y="261.53" width="2.58" height="2.7" fill="#f9eee7"/>
<rect x="165.37" y="261.53" width="2.58" height="2.7" fill="#d05447"/>
<rect x="167.91" y="261.53" width="2.58" height="2.7" fill="#ec9374"/>
<rect x="170.44" y="261.53" width="2.58" height="2.7" fill="#f6b292"/>
<rect x="172.97" y="261.53" width="2.58" height="2.7" fill="#f9eee7"/>
<rect x="175.51" y="261.53" width="2.58" height="2.7" fill="#eaf1f5"/>
<rect x="178.04" y="261.53" width="2.58" height="2.7" fill="#f09d7c"/>
<rect x="180.58" y="261.53" width="2.58" height="2.7" fill="#f5aa88"/>
<rect x="183.11" y="261.53" width="2.58" height="2.7" fill="#f9c2a8"/>
<rect x="185.65" y="261.53" width="2.58" height="2.7" fill="#fac7ad"/>
<rect x="188.18" y="261.53" width="2.58" height="2.7" fill="#f9c1a6"/>
<rect x="190.72" y="261.53" width="2.58" height="2.7" fill="#f9ede6"/>
<rect x="193.25" y="261.53" width="2.58" height="2.7" fill="#65a8ce"/>
<rect x="195.78" y="261.53" width="2.58" height="2.7" fill="#4896c5"/>
<rect x="198.32" y="261.53" width="2.58" height="2.7" fill="#b9d9e9"/>
<rect x="200.85" y="261.53" width="2.58" height="2.7" fill="#fbe3d5"/>
<rect x="203.39" y="261.53" width="2.58" height="2.7" fill="#bddbea"/>
<rect x="205.92" y="261.53" width="2.58" height="2.7" fill="#cee4ef"/>
<rect x="208.46" y="261.53" width="2.58" height="2.7" fill="#f9f0ea"/>
<rect x="210.99" y="261.53" width="2.58" height="2.7" fill="#92c5de"/>
<rect x="213.53" y="261.53" width="2.58" height="2.7" fill="#69abd0"/>
<rect x="216.06" y="261.53" width="2.58" height="2.7" fill="#509bc7"/>
<rect x="218.59" y="261.53" width="2.58" height="2.7" fill="#6fafd2"/>
<rect x="221.13" y="261.53" width="2.58" height="2.7" fill="#b0d4e6"/>
<rect x="223.66" y="261.53" width="2.58" height="2.7" fill="#e1ecf3"/>
<rect x="226.2" y="261.53" width="2.58" height="2.7" fill="#6aacd0"/>
<rect x="228.73" y="261.53" width="2.58" height="2.7" fill="#d7e8f1"/>
<rect x="231.27" y="261.53" width="2.58" height="2.7" fill="#4494c3"/>
<rect x="152.7" y="264.18" width="2.58" height="2.7" fill="#f9f0ea"/>
<rect x="155.23" y="264.18" width="2.58" height="2.7" fill="#f2a07f"/>
<rect x="157.77" y="264.18" width="2.58" height="2.7" fill="#f2a17f"/>
<rect x="160.3" y="264.18" width="2.58" height="2.7" fill="#f5ac8b"/>
<rect x="162.84" y="264.18" width="2.58" height="2.7" fill="#fcd3bc"/>
<rect x="165.37" y="264.18" width="2.58" height="2.7" fill="#f9c4a9"/>
<rect x="167.91" y="264.18" width="2.58" height="2.7" fill="#fbe6da"/>
<rect x="170.44" y="264.18" width="2.58" height="2.7" fill="#f9ece4"/>
<rect x="172.97" y="264.18" width="2.58" height="2.7" fill="#fddcca"/>
<rect x="175.51" y="264.18" width="2.58" height="2.7" fill="#e4eef3"/>
<rect x="178.04" y="264.18" width="2.58" height="2.7" fill="#f19d7c"/>
<rect x="180.58" y="264.18" width="2.58" height="2.7" fill="#f7ba9c"/>
<rect x="183.11" y="264.18" width="2.58" height="2.7" fill="#ef9979"/>
<rect x="185.65" y="264.18" width="2.58" height="2.7" fill="#f2a07e"/>
<rect x="188.18" y="264.18" width="2.58" height="2.7" fill="#f7b89b"/>
<rect x="190.72" y="264.18" width="2.58" height="2.7" fill="#f09d7c"/>
<rect x="193.25" y="264.18" width="2.58" height="2.7" fill="#58a0ca"/>
<rect x="195.78" y="264.18" width="2.58" height="2.7" fill="#bddbea"/>
<rect x="198.32" y="264.18" width="2.58" height="2.7" fill="#fbe4d6"/>
<rect x="200.85" y="264.18" width="2.58" height="2.7" fill="#e8f0f4"/>
<rect x="203.39" y="264.18" width="2.58" height="2.7" fill="#b9d9e9"/>
<rect x="205.92" y="264.18" width="2.58" height="2.7" fill="#b6d7e8"/>
<rect x="208.46" y="264.18" width="2.58" height="2.7" fill="#d3e6f0"/>
<rect x="210.99" y="264.18" width="2.58" height="2.7" fill="#dfecf3"/>
<rect x="213.53" y="264.18" width="2.58" height="2.7" fill="#a0cce2"/>
<rect x="216.06" y="264.18" width="2.58" height="2.7" fill="#b8d8e9"/>
<rect x="218.59" y="264.18" width="2.58" height="2.7" fill="#cde3ef"/>
<rect x="221.13" y="264.18" width="2.58" height="2.7" fill="#e4eef4"/>
<rect x="223.66" y="264.18" width="2.58" height="2.7" fill="#f8f3f0"/>
<rect x="226.2" y="264.18" width="2.58" height="2.7" fill="#98c8e0"/>
<rect x="228.73" y="264.18" width="2.58" height="2.7" fill="#fdddca"/>
<rect x="231.27" y="264.18" width="2.58" height="2.7" fill="#deebf2"/>
<rect x="152.7" y="266.83" width="2.58" height="2.7" fill="#faebe2"/>
<rect x="155.23" y="266.83" width="2.58" height="2.7" fill="#f8bea2"/>
<rect x="157.77" y="266.83" width="2.58" height="2.7" fill="#f5ae8d"/>
<rect x="160.3" y="266.83" width="2.58" height="2.7" fill="#fbe5d8"/>
<rect x="162.84" y="266.83" width="2.58" height="2.7" fill="#f3a381"/>
<rect x="165.37" y="266.83" width="2.58" height="2.7" fill="#fce1d1"/>
<rect x="167.91" y="266.83" width="2.58" height="2.7" fill="#fbe3d5"/>
<rect x="170.44" y="266.83" width="2.58" height="2.7" fill="#f5ab89"/>
<rect x="172.97" y="266.83" width="2.58" height="2.7" fill="#fae7db"/>
<rect x="175.51" y="266.83" width="2.58" height="2.7" fill="#e17a61"/>
<rect x="178.04" y="266.83" width="2.58" height="2.7" fill="#f5ad8c"/>
<rect x="180.58" y="266.83" width="2.58" height="2.7" fill="#fbcfb7"/>
<rect x="183.11" y="266.83" width="2.58" height="2.7" fill="#e48167"/>
<rect x="185.65" y="266.83" width="2.58" height="2.7" fill="#ec9273"/>
<rect x="188.18" y="266.83" width="2.58" height="2.7" fill="#fcd7c2"/>
<rect x="190.72" y="266.83" width="2.58" height="2.7" fill="#fac9b0"/>
<rect x="193.25" y="266.83" width="2.58" height="2.7" fill="#3e8cc0"/>
<rect x="195.78" y="266.83" width="2.58" height="2.7" fill="#c0dceb"/>
<rect x="198.32" y="266.83" width="2.58" height="2.7" fill="#408ec1"/>
<rect x="200.85" y="266.83" width="2.58" height="2.7" fill="#edf2f5"/>
<rect x="203.39" y="266.83" width="2.58" height="2.7" fill="#e0ecf3"/>
<rect x="205.92" y="266.83" width="2.58" height="2.7" fill="#aed3e6"/>
<rect x="208.46" y="266.83" width="2.58" height="2.7" fill="#286fb1"/>
<rect x="210.99" y="266.83" width="2.58" height="2.7" fill="#c7e0ed"/>
<rect x="213.53" y="266.83" width="2.58" height="2.7" fill="#317cb7"/>
<rect x="216.06" y="266.83" width="2.58" height="2.7" fill="#eff3f6"/>
<rect x="218.59" y="266.83" width="2.58" height="2.7" fill="#9ac9e0"/>
<rect x="221.13" y="266.83" width="2.58" height="2.7" fill="#f7f7f7"/>
<rect x="223.66" y="266.83" width="2.58" height="2.7" fill="#f9eee8"/>
<rect x="226.2" y="266.83" width="2.58" height="2.7" fill="#b1d5e7"/>
<rect x="228.73" y="266.83" width="2.58" height="2.7" fill="#ebf1f5"/>
<rect x="231.27" y="266.83" width="2.58" height="2.7" fill="#d6e7f1"/>
<rect x="152.7" y="269.48" width="2.58" height="2.7" fill="#fcdfcf"/>
<rect x="155.23" y="269.48" width="2.58" height="2.7" fill="#f2a17f"/>
<rect x="157.77" y="269.48" width="2.58" height="2.7" fill="#e68569"/>
<rect x="160.3" y="269.48" width="2.58" height="2.7" fill="#f7f5f4"/>
<rect x="162.84" y="269.48" width="2.58" height="2.7" fill="#f7f7f7"/>
<rect x="165.37" y="269.48" width="2.58" height="2.7" fill="#ee9777"/>
<rect x="167.91" y="269.48" width="2.58" height="2.7" fill="#f4a785"/>
<rect x="170.44" y="269.48" width="2.58" height="2.7" fill="#d86551"/>
<rect x="172.97" y="269.48" width="2.58" height="2.7" fill="#fbe7db"/>
<rect x="175.51" y="269.48" width="2.58" height="2.7" fill="#b2d5e7"/>
<rect x="178.04" y="269.48" width="2.58" height="2.7" fill="#facab2"/>
<rect x="180.58" y="269.48" width="2.58" height="2.7" fill="#f9c2a8"/>
<rect x="183.11" y="269.48" width="2.58" height="2.7" fill="#f7b99c"/>
<rect x="185.65" y="269.48" width="2.58" height="2.7" fill="#ea8d70"/>
<rect x="188.18" y="269.48" width="2.58" height="2.7" fill="#f9c3a9"/>
<rect x="190.72" y="269.48" width="2.58" height="2.7" fill="#f9c4aa"/>
<rect x="193.25" y="269.48" width="2.58" height="2.7" fill="#3c8abe"/>
<rect x="195.78" y="269.48" width="2.58" height="2.7" fill="#81bad8"/>
<rect x="198.32" y="269.48" width="2.58" height="2.7" fill="#f8f0ec"/>
<rect x="200.85" y="269.48" width="2.58" height="2.7" fill="#fce0cf"/>
<rect x="203.39" y="269.48" width="2.58" height="2.7" fill="#add3e6"/>
<rect x="205.92" y="269.48" width="2.58" height="2.7" fill="#66a9cf"/>
<rect x="208.46" y="269.48" width="2.58" height="2.7" fill="#82bbd9"/>
<rect x="210.99" y="269.48" width="2.58" height="2.7" fill="#fcd5bf"/>
<rect x="213.53" y="269.48" width="2.58" height="2.7" fill="#569fca"/>
<rect x="216.06" y="269.48" width="2.58" height="2.7" fill="#bad9e9"/>
<rect x="218.59" y="269.48" width="2.58" height="2.7" fill="#89c0db"/>
<rect x="221.13" y="269.48" width="2.58" height="2.7" fill="#e4eef4"/>
<rect x="223.66" y="269.48" width="2.58" height="2.7" fill="#fddbc7"/>
<rect x="226.2" y="269.48" width="2.58" height="2.7" fill="#94c6df"/>
<rect x="228.73" y="269.48" width="2.58" height="2.7" fill="#f9ece4"/>
<rect x="231.27" y="269.48" width="2.58" height="2.7" fill="#73b1d3"/>
<rect x="152.7" y="272.12" width="2.58" height="2.7" fill="#fddbc8"/>
<rect x="155.23" y="272.12" width="2.58" height="2.7" fill="#fbe3d5"/>
<rect x="157.77" y="272.12" width="2.58" height="2.7" fill="#e58368"/>
<rect x="160.3" y="272.12" width="2.58" height="2.7" fill="#facbb3"/>
<rect x="162.84" y="272.12" width="2.58" height="2.7" fill="#cf5246"/>
<rect x="165.37" y="272.12" width="2.58" height="2.7" fill="#facab1"/>
<rect x="167.91" y="272.12" width="2.58" height="2.7" fill="#f7b89b"/>
<rect x="170.44" y="272.12" width="2.58" height="2.7" fill="#e17960"/>
<rect x="172.97" y="272.12" width="2.58" height="2.7" fill="#f9ece4"/>
<rect x="175.51" y="272.12" width="2.58" height="2.7" fill="#fae9df"/>
<rect x="178.04" y="272.12" width="2.58" height="2.7" fill="#e98b6e"/>
<rect x="180.58" y="272.12" width="2.58" height="2.7" fill="#ed9676"/>
<rect x="183.11" y="272.12" width="2.58" height="2.7" fill="#f3a481"/>
<rect x="185.65" y="272.12" width="2.58" height="2.7" fill="#f9c2a7"/>
<rect x="188.18" y="272.12" width="2.58" height="2.7" fill="#ec9374"/>
<rect x="190.72" y="272.12" width="2.58" height="2.7" fill="#f4a784"/>
<rect x="193.25" y="272.12" width="2.58" height="2.7" fill="#98c8e0"/>
<rect x="195.78" y="272.12" width="2.58" height="2.7" fill="#3b88bd"/>
<rect x="198.32" y="272.12" width="2.58" height="2.7" fill="#cbe2ee"/>
<rect x="200.85" y="272.12" width="2.58" height="2.7" fill="#f7f6f5"/>
<rect x="203.39" y="272.12" width="2.58" height="2.7" fill="#f2f5f6"/>
<rect x="205.92" y="272.12" width="2.58" height="2.7" fill="#c9e1ee"/>
<rect x="208.46" y="272.12" width="2.58" height="2.7" fill="#4190c2"/>
<rect x="210.99" y="272.12" width="2.58" height="2.7" fill="#73b1d3"/>
<rect x="213.53" y="272.12" width="2.58" height="2.7" fill="#cae2ee"/>
<rect x="216.06" y="272.12" width="2.58" height="2.7" fill="#bfdceb"/>
<rect x="218.59" y="272.12" width="2.58" height="2.7" fill="#76b3d4"/>
<rect x="221.13" y="272.12" width="2.58" height="2.7" fill="#4997c5"/>
<rect x="223.66" y="272.12" width="2.58" height="2.7" fill="#f7f6f5"/>
<rect x="226.2" y="272.12" width="2.58" height="2.7" fill="#d7e8f1"/>
<rect x="228.73" y="272.12" width="2.58" height="2.7" fill="#f8f5f3"/>
<rect x="231.27" y="272.12" width="2.58" height="2.7" fill="#d7e8f1"/>
<rect x="152.7" y="274.77" width="2.58" height="2.7" fill="#e8f0f4"/>
<rect x="155.23" y="274.77" width="2.58" height="2.7" fill="#fbd1ba"/>
<rect x="157.77" y="274.77" width="2.58" height="2.7" fill="#f8f4f1"/>
<rect x="160.3" y="274.77" width="2.58" height="2.7" fill="#f7ba9c"/>
<rect x="162.84" y="274.77" width="2.58" height="2.7" fill="#dbeaf2"/>
<rect x="165.37" y="274.77" width="2.58" height="2.7" fill="#facbb3"/>
<rect x="167.91" y="274.77" width="2.58" height="2.7" fill="#e0785f"/>
<rect x="170.44" y="274.77" width="2.58" height="2.7" fill="#fbccb4"/>
<rect x="172.97" y="274.77" width="2.58" height="2.7" fill="#f9ece4"/>
<rect x="175.51" y="274.77" width="2.58" height="2.7" fill="#f5f6f7"/>
<rect x="178.04" y="274.77" width="2.58" height="2.7" fill="#f7b99c"/>
<rect x="180.58" y="274.77" width="2.58" height="2.7" fill="#faebe3"/>
<rect x="183.11" y="274.77" width="2.58" height="2.7" fill="#f3f5f6"/>
<rect x="185.65" y="274.77" width="2.58" height="2.7" fill="#fcdecd"/>
<rect x="188.18" y="274.77" width="2.58" height="2.7" fill="#fac8ae"/>
<rect x="190.72" y="274.77" width="2.58" height="2.7" fill="#f6af8f"/>
<rect x="193.25" y="274.77" width="2.58" height="2.7" fill="#5aa2cb"/>
<rect x="195.78" y="274.77" width="2.58" height="2.7" fill="#2166ac"/>
<rect x="198.32" y="274.77" width="2.58" height="2.7" fill="#f4a582"/>
<rect x="200.85" y="274.77" width="2.58" height="2.7" fill="#fce2d3"/>
<rect x="203.39" y="274.77" width="2.58" height="2.7" fill="#e0ecf3"/>
<rect x="205.92" y="274.77" width="2.58" height="2.7" fill="#87beda"/>
<rect x="208.46" y="274.77" width="2.58" height="2.7" fill="#e8f0f4"/>
<rect x="210.99" y="274.77" width="2.58" height="2.7" fill="#bcdaea"/>
<rect x="213.53" y="274.77" width="2.58" height="2.7" fill="#e1edf3"/>
<rect x="216.06" y="274.77" width="2.58" height="2.7" fill="#f8f4f2"/>
<rect x="218.59" y="274.77" width="2.58" height="2.7" fill="#9fcbe2"/>
<rect x="221.13" y="274.77" width="2.58" height="2.7" fill="#f2f4f6"/>
<rect x="223.66" y="274.77" width="2.58" height="2.7" fill="#f9c4a9"/>
<rect x="226.2" y="274.77" width="2.58" height="2.7" fill="#98c8e0"/>
<rect x="228.73" y="274.77" width="2.58" height="2.7" fill="#ddebf2"/>
<rect x="231.27" y="274.77" width="2.58" height="2.7" fill="#fce0cf"/>
<rect x="152.7" y="277.42" width="2.58" height="2.7" fill="#fcd6c1"/>
<rect x="155.23" y="277.42" width="2.58" height="2.7" fill="#ca4842"/>
<rect x="157.77" y="277.42" width="2.58" height="2.7" fill="#f7b99b"/>
<rect x="160.3" y="277.42" width="2.58" height="2.7" fill="#d9e9f1"/>
<rect x="162.84" y="277.42" width="2.58" height="2.7" fill="#fbe2d4"/>
<rect x="165.37" y="277.42" width="2.58" height="2.7" fill="#ee9878"/>
<rect x="167.91" y="277.42" width="2.58" height="2.7" fill="#f4a683"/>
<rect x="170.44" y="277.42" width="2.58" height="2.7" fill="#eb9072"/>
<rect x="172.97" y="277.42" width="2.58" height="2.7" fill="#f8f2ee"/>
<rect x="175.51" y="277.42" width="2.58" height="2.7" fill="#f09d7c"/>
<rect x="178.04" y="277.42" width="2.58" height="2.7" fill="#fcdecd"/>
<rect x="180.58" y="277.42" width="2.58" height="2.7" fill="#fac7ae"/>
<rect x="183.11" y="277.42" width="2.58" height="2.7" fill="#dc6d57"/>
<rect x="185.65" y="277.42" width="2.58" height="2.7" fill="#f8bda0"/>
<rect x="188.18" y="277.42" width="2.58" height="2.7" fill="#fbceb6"/>
<rect x="190.72" y="277.42" width="2.58" height="2.7" fill="#f8bda0"/>
<rect x="193.25" y="277.42" width="2.58" height="2.7" fill="#529dc8"/>
<rect x="195.78" y="277.42" width="2.58" height="2.7" fill="#e6eff4"/>
<rect x="198.32" y="277.42" width="2.58" height="2.7" fill="#faebe3"/>
<rect x="200.85" y="277.42" width="2.58" height="2.7" fill="#a7cfe4"/>
<rect x="203.39" y="277.42" width="2.58" height="2.7" fill="#dae9f2"/>
<rect x="205.92" y="277.42" width="2.58" height="2.7" fill="#c7e0ed"/>
<rect x="208.46" y="277.42" width="2.58" height="2.7" fill="#d7e8f1"/>
<rect x="210.99" y="277.42" width="2.58" height="2.7" fill="#7eb9d7"/>
<rect x="213.53" y="277.42" width="2.58" height="2.7" fill="#b2d5e7"/>
<rect x="216.06" y="277.42" width="2.58" height="2.7" fill="#d9e9f1"/>
<rect x="218.59" y="277.42" width="2.58" height="2.7" fill="#f5f6f7"/>
<rect x="221.13" y="277.42" width="2.58" height="2.7" fill="#9ecbe1"/>
<rect x="223.66" y="277.42" width="2.58" height="2.7" fill="#c7e0ed"/>
<rect x="226.2" y="277.42" width="2.58" height="2.7" fill="#64a8ce"/>
<rect x="228.73" y="277.42" width="2.58" height="2.7" fill="#b7d8e8"/>
<rect x="231.27" y="277.42" width="2.58" height="2.7" fill="#a5cfe3"/>
<rect x="152.7" y="280.06" width="2.58" height="2.7" fill="#f8f4f1"/>
<rect x="155.23" y="280.06" width="2.58" height="2.7" fill="#f9c4aa"/>
<rect x="157.77" y="280.06" width="2.58" height="2.7" fill="#f7b596"/>
<rect x="160.3" y="280.06" width="2.58" height="2.7" fill="#f7b799"/>
<rect x="162.84" y="280.06" width="2.58" height="2.7" fill="#e4eef4"/>
<rect x="165.37" y="280.06" width="2.58" height="2.7" fill="#fbd1ba"/>
<rect x="167.91" y="280.06" width="2.58" height="2.7" fill="#f9c2a7"/>
<rect x="170.44" y="280.06" width="2.58" height="2.7" fill="#e58468"/>
<rect x="172.97" y="280.06" width="2.58" height="2.7" fill="#cfe4f0"/>
<rect x="175.51" y="280.06" width="2.58" height="2.7" fill="#fcd7c2"/>
<rect x="178.04" y="280.06" width="2.58" height="2.7" fill="#ed9676"/>
<rect x="180.58" y="280.06" width="2.58" height="2.7" fill="#ec9374"/>
<rect x="183.11" y="280.06" width="2.58" height="2.7" fill="#e58167"/>
<rect x="185.65" y="280.06" width="2.58" height="2.7" fill="#e7876b"/>
<rect x="188.18" y="280.06" width="2.58" height="2.7" fill="#fddac6"/>
<rect x="190.72" y="280.06" width="2.58" height="2.7" fill="#fbcfb8"/>
<rect x="193.25" y="280.06" width="2.58" height="2.7" fill="#7bb7d6"/>
<rect x="195.78" y="280.06" width="2.58" height="2.7" fill="#edf2f5"/>
<rect x="198.32" y="280.06" width="2.58" height="2.7" fill="#d6e8f1"/>
<rect x="200.85" y="280.06" width="2.58" height="2.7" fill="#ddebf2"/>
<rect x="203.39" y="280.06" width="2.58" height="2.7" fill="#bedbeb"/>
<rect x="205.92" y="280.06" width="2.58" height="2.7" fill="#9bcae1"/>
<rect x="208.46" y="280.06" width="2.58" height="2.7" fill="#b3d6e7"/>
<rect x="210.99" y="280.06" width="2.58" height="2.7" fill="#a6cfe4"/>
<rect x="213.53" y="280.06" width="2.58" height="2.7" fill="#aad1e5"/>
<rect x="216.06" y="280.06" width="2.58" height="2.7" fill="#bcdaea"/>
<rect x="218.59" y="280.06" width="2.58" height="2.7" fill="#7db8d7"/>
<rect x="221.13" y="280.06" width="2.58" height="2.7" fill="#8bc1dc"/>
<rect x="223.66" y="280.06" width="2.58" height="2.7" fill="#e1edf3"/>
<rect x="226.2" y="280.06" width="2.58" height="2.7" fill="#7fb9d8"/>
<rect x="228.73" y="280.06" width="2.58" height="2.7" fill="#dae9f2"/>
<rect x="231.27" y="280.06" width="2.58" height="2.7" fill="#f5f6f7"/>
<rect x="152.7" y="282.71" width="2.58" height="2.7" fill="#ef9a7a"/>
<rect x="155.23" y="282.71" width="2.58" height="2.7" fill="#eb8f71"/>
<rect x="157.77" y="282.71" width="2.58" height="2.7" fill="#facab1"/>
<rect x="160.3" y="282.71" width="2.58" height="2.7" fill="#fcdfce"/>
<rect x="162.84" y="282.71" width="2.58" height="2.7" fill="#c7e0ed"/>
<rect x="165.37" y="282.71" width="2.58" height="2.7" fill="#f8f4f3"/>
<rect x="167.91" y="282.71" width="2.58" height="2.7" fill="#f5ad8c"/>
<rect x="170.44" y="282.71" width="2.58" height="2.7" fill="#faebe2"/>
<rect x="172.97" y="282.71" width="2.58" height="2.7" fill="#e5eef4"/>
<rect x="175.51" y="282.71" width="2.58" height="2.7" fill="#f9f0eb"/>
<rect x="178.04" y="282.71" width="2.58" height="2.7" fill="#f7b597"/>
<rect x="180.58" y="282.71" width="2.58" height="2.7" fill="#fddbc7"/>
<rect x="183.11" y="282.71" width="2.58" height="2.7" fill="#e6856a"/>
<rect x="185.65" y="282.71" width="2.58" height="2.7" fill="#f9c4aa"/>
<rect x="188.18" y="282.71" width="2.58" height="2.7" fill="#ef9878"/>
<rect x="190.72" y="282.71" width="2.58" height="2.7" fill="#fce0cf"/>
<rect x="193.25" y="282.71" width="2.58" height="2.7" fill="#71b0d3"/>
<rect x="195.78" y="282.71" width="2.58" height="2.7" fill="#e2edf3"/>
<rect x="198.32" y="282.71" width="2.58" height="2.7" fill="#deebf2"/>
<rect x="200.85" y="282.71" width="2.58" height="2.7" fill="#c1ddeb"/>
<rect x="203.39" y="282.71" width="2.58" height="2.7" fill="#a2cde3"/>
<rect x="205.92" y="282.71" width="2.58" height="2.7" fill="#d7e8f1"/>
<rect x="208.46" y="282.71" width="2.58" height="2.7" fill="#f8f3f0"/>
<rect x="210.99" y="282.71" width="2.58" height="2.7" fill="#e0ecf3"/>
<rect x="213.53" y="282.71" width="2.58" height="2.7" fill="#d4e7f1"/>
<rect x="216.06" y="282.71" width="2.58" height="2.7" fill="#afd4e6"/>
<rect x="218.59" y="282.71" width="2.58" height="2.7" fill="#9fcbe2"/>
<rect x="221.13" y="282.71" width="2.58" height="2.7" fill="#b1d5e7"/>
<rect x="223.66" y="282.71" width="2.58" height="2.7" fill="#fbe6db"/>
<rect x="226.2" y="282.71" width="2.58" height="2.7" fill="#d6e7f1"/>
<rect x="228.73" y="282.71" width="2.58" height="2.7" fill="#fbcdb5"/>
<rect x="231.27" y="282.71" width="2.58" height="2.7" fill="#dae9f2"/>
<rect x="152.7" y="285.36" width="2.58" height="2.7" fill="#faebe2"/>
<rect x="155.23" y="285.36" width="2.58" height="2.7" fill="#ea8f71"/>
<rect x="157.77" y="285.36" width="2.58" height="2.7" fill="#fae9df"/>
<rect x="160.3" y="285.36" width="2.58" height="2.7" fill="#f8f3ef"/>
<rect x="162.84" y="285.36" width="2.58" height="2.7" fill="#faeae1"/>
<rect x="165.37" y="285.36" width="2.58" height="2.7" fill="#fddbc7"/>
<rect x="167.91" y="285.36" width="2.58" height="2.7" fill="#f9eee7"/>
<rect x="170.44" y="285.36" width="2.58" height="2.7" fill="#fddac5"/>
<rect x="172.97" y="285.36" width="2.58" height="2.7" fill="#fbe3d5"/>
<rect x="175.51" y="285.36" width="2.58" height="2.7" fill="#e3eef3"/>
<rect x="178.04" y="285.36" width="2.58" height="2.7" fill="#be2f36"/>
<rect x="180.58" y="285.36" width="2.58" height="2.7" fill="#dc6d57"/>
<rect x="183.11" y="285.36" width="2.58" height="2.7" fill="#ed9475"/>
<rect x="185.65" y="285.36" width="2.58" height="2.7" fill="#eff3f6"/>
<rect x="188.18" y="285.36" width="2.58" height="2.7" fill="#c94641"/>
<rect x="190.72" y="285.36" width="2.58" height="2.7" fill="#f9ede5"/>
<rect x="193.25" y="285.36" width="2.58" height="2.7" fill="#95c6df"/>
<rect x="195.78" y="285.36" width="2.58" height="2.7" fill="#90c4dd"/>
<rect x="198.32" y="285.36" width="2.58" height="2.7" fill="#c4deec"/>
<rect x="200.85" y="285.36" width="2.58" height="2.7" fill="#f7f6f6"/>
<rect x="203.39" y="285.36" width="2.58" height="2.7" fill="#d6e7f1"/>
<rect x="205.92" y="285.36" width="2.58" height="2.7" fill="#c2ddec"/>
<rect x="208.46" y="285.36" width="2.58" height="2.7" fill="#8dc2dc"/>
<rect x="210.99" y="285.36" width="2.58" height="2.7" fill="#b6d7e8"/>
<rect x="213.53" y="285.36" width="2.58" height="2.7" fill="#f8f0ec"/>
<rect x="216.06" y="285.36" width="2.58" height="2.7" fill="#8dc2dc"/>
<rect x="218.59" y="285.36" width="2.58" height="2.7" fill="#b6d7e8"/>
<rect x="221.13" y="285.36" width="2.58" height="2.7" fill="#c7e0ed"/>
<rect x="223.66" y="285.36" width="2.58" height="2.7" fill="#f5ab8a"/>
<rect x="226.2" y="285.36" width="2.58" height="2.7" fill="#fae8dd"/>
<rect x="228.73" y="285.36" width="2.58" height="2.7" fill="#e8f0f4"/>
<rect x="231.27" y="285.36" width="2.58" height="2.7" fill="#ebf1f5"/>
<rect x="152.7" y="288.01" width="2.58" height="2.7" fill="#f09b7b"/>
<rect x="155.23" y="288.01" width="2.58" height="2.7" fill="#faeae1"/>
<rect x="157.77" y="288.01" width="2.58" height="2.7" fill="#e68469"/>
<rect x="160.3" y="288.01" width="2.58" height="2.7" fill="#ea8e70"/>
<rect x="162.84" y="288.01" width="2.58" height="2.7" fill="#e98b6e"/>
<rect x="165.37" y="288.01" width="2.58" height="2.7" fill="#f9c1a5"/>
<rect x="167.91" y="288.01" width="2.58" height="2.7" fill="#e98d6f"/>
<rect x="170.44" y="288.01" width="2.58" height="2.7" fill="#fbd2bb"/>
<rect x="172.97" y="288.01" width="2.58" height="2.7" fill="#f6f6f7"/>
<rect x="175.51" y="288.01" width="2.58" height="2.7" fill="#fbe4d6"/>
<rect x="178.04" y="288.01" width="2.58" height="2.7" fill="#f9c4aa"/>
<rect x="180.58" y="288.01" width="2.58" height="2.7" fill="#e7886c"/>
<rect x="183.11" y="288.01" width="2.58" height="2.7" fill="#e48167"/>
<rect x="185.65" y="288.01" width="2.58" height="2.7" fill="#c94540"/>
<rect x="188.18" y="288.01" width="2.58" height="2.7" fill="#fac9b0"/>
<rect x="190.72" y="288.01" width="2.58" height="2.7" fill="#fddbc7"/>
<rect x="193.25" y="288.01" width="2.58" height="2.7" fill="#78b5d5"/>
<rect x="195.78" y="288.01" width="2.58" height="2.7" fill="#d8e8f1"/>
<rect x="198.32" y="288.01" width="2.58" height="2.7" fill="#d4e7f1"/>
<rect x="200.85" y="288.01" width="2.58" height="2.7" fill="#6dadd1"/>
<rect x="203.39" y="288.01" width="2.58" height="2.7" fill="#add3e6"/>
<rect x="205.92" y="288.01" width="2.58" height="2.7" fill="#83bcd9"/>
<rect x="208.46" y="288.01" width="2.58" height="2.7" fill="#4d99c6"/>
<rect x="210.99" y="288.01" width="2.58" height="2.7" fill="#e6eff4"/>
<rect x="213.53" y="288.01" width="2.58" height="2.7" fill="#d1e5f0"/>
<rect x="216.06" y="288.01" width="2.58" height="2.7" fill="#6cadd1"/>
<rect x="218.59" y="288.01" width="2.58" height="2.7" fill="#bfdceb"/>
<rect x="221.13" y="288.01" width="2.58" height="2.7" fill="#d4e6f1"/>
<rect x="223.66" y="288.01" width="2.58" height="2.7" fill="#94c6df"/>
<rect x="226.2" y="288.01" width="2.58" height="2.7" fill="#63a7ce"/>
<rect x="228.73" y="288.01" width="2.58" height="2.7" fill="#e6eff4"/>
<rect x="231.27" y="288.01" width="2.58" height="2.7" fill="#4896c5"/>
<rect x="152.7" y="290.65" width="2.58" height="2.7" fill="#c5dfed"/>
<rect x="155.23" y="290.65" width="2.58" height="2.7" fill="#fbe6db"/>
<rect x="157.77" y="290.65" width="2.58" height="2.7" fill="#d45c4b"/>
<rect x="160.3" y="290.65" width="2.58" height="2.7" fill="#f7f7f7"/>
<rect x="162.84" y="290.65" width="2.58" height="2.7" fill="#f9ede5"/>
<rect x="165.37" y="290.65" width="2.58" height="2.7" fill="#fbe4d6"/>
<rect x="167.91" y="290.65" width="2.58" height="2.7" fill="#fac9b0"/>
<rect x="170.44" y="290.65" width="2.58" height="2.7" fill="#f5ac8b"/>
<rect x="172.97" y="290.65" width="2.58" height="2.7" fill="#eb9072"/>
<rect x="175.51" y="290.65" width="2.58" height="2.7" fill="#fae9e0"/>
<rect x="178.04" y="290.65" width="2.58" height="2.7" fill="#e58267"/>
<rect x="180.58" y="290.65" width="2.58" height="2.7" fill="#f9c3a8"/>
<rect x="183.11" y="290.65" width="2.58" height="2.7" fill="#eb9172"/>
<rect x="185.65" y="290.65" width="2.58" height="2.7" fill="#db6b55"/>
<rect x="188.18" y="290.65" width="2.58" height="2.7" fill="#c7423f"/>
<rect x="190.72" y="290.65" width="2.58" height="2.7" fill="#f8f1ec"/>
<rect x="193.25" y="290.65" width="2.58" height="2.7" fill="#6fafd2"/>
<rect x="195.78" y="290.65" width="2.58" height="2.7" fill="#e1edf3"/>
<rect x="198.32" y="290.65" width="2.58" height="2.7" fill="#d9e9f1"/>
<rect x="200.85" y="290.65" width="2.58" height="2.7" fill="#e1edf3"/>
<rect x="203.39" y="290.65" width="2.58" height="2.7" fill="#abd2e5"/>
<rect x="205.92" y="290.65" width="2.58" height="2.7" fill="#8cc1dc"/>
<rect x="208.46" y="290.65" width="2.58" height="2.7" fill="#d9e9f2"/>
<rect x="210.99" y="290.65" width="2.58" height="2.7" fill="#fae8dd"/>
<rect x="213.53" y="290.65" width="2.58" height="2.7" fill="#8dc2dc"/>
<rect x="216.06" y="290.65" width="2.58" height="2.7" fill="#aad1e5"/>
<rect x="218.59" y="290.65" width="2.58" height="2.7" fill="#d0e5f0"/>
<rect x="221.13" y="290.65" width="2.58" height="2.7" fill="#71b0d3"/>
<rect x="223.66" y="290.65" width="2.58" height="2.7" fill="#d8e8f1"/>
<rect x="226.2" y="290.65" width="2.58" height="2.7" fill="#c6dfed"/>
<rect x="228.73" y="290.65" width="2.58" height="2.7" fill="#f8f3f1"/>
<rect x="231.27" y="290.65" width="2.58" height="2.7" fill="#e6eff4"/>
</g>
<line x1="155.23" y1="153" x2="155.23" y2="293.3" stroke="#ffffff" stroke-width="0.35" opacity="0.8"/>
<line x1="157.77" y1="153" x2="157.77" y2="293.3" stroke="#ffffff" stroke-width="0.35" opacity="0.8"/>
<line x1="160.3" y1="153" x2="160.3" y2="293.3" stroke="#ffffff" stroke-width="0.35" opacity="0.8"/>
<line x1="162.84" y1="153" x2="162.84" y2="293.3" stroke="#ffffff" stroke-width="0.35" opacity="0.8"/>
<line x1="165.37" y1="153" x2="165.37" y2="293.3" stroke="#ffffff" stroke-width="0.35" opacity="0.8"/>
<line x1="167.91" y1="153" x2="167.91" y2="293.3" stroke="#ffffff" stroke-width="0.35" opacity="0.8"/>
<line x1="170.44" y1="153" x2="170.44" y2="293.3" stroke="#ffffff" stroke-width="0.35" opacity="0.8"/>
<line x1="172.97" y1="153" x2="172.97" y2="293.3" stroke="#ffffff" stroke-width="0.35" opacity="0.8"/>
<line x1="175.51" y1="153" x2="175.51" y2="293.3" stroke="#ffffff" stroke-width="0.35" opacity="0.8"/>
<line x1="178.04" y1="153" x2="178.04" y2="293.3" stroke="#ffffff" stroke-width="0.35" opacity="0.8"/>
<line x1="180.58" y1="153" x2="180.58" y2="293.3" stroke="#ffffff" stroke-width="0.35" opacity="0.8"/>
<line x1="183.11" y1="153" x2="183.11" y2="293.3" stroke="#ffffff" stroke-width="0.35" opacity="0.8"/>
<line x1="185.65" y1="153" x2="185.65" y2="293.3" stroke="#ffffff" stroke-width="0.35" opacity="0.8"/>
<line x1="188.18" y1="153" x2="188.18" y2="293.3" stroke="#ffffff" stroke-width="0.35" opacity="0.8"/>
<line x1="190.72" y1="153" x2="190.72" y2="293.3" stroke="#ffffff" stroke-width="0.35" opacity="0.8"/>
<line x1="193.25" y1="153" x2="193.25" y2="293.3" stroke="#ffffff" stroke-width="0.35" opacity="0.8"/>
<line x1="195.78" y1="153" x2="195.78" y2="293.3" stroke="#ffffff" stroke-width="0.35" opacity="0.8"/>
<line x1="198.32" y1="153" x2="198.32" y2="293.3" stroke="#ffffff" stroke-width="0.35" opacity="0.8"/>
<line x1="200.85" y1="153" x2="200.85" y2="293.3" stroke="#ffffff" stroke-width="0.35" opacity="0.8"/>
<line x1="203.39" y1="153" x2="203.39" y2="293.3" stroke="#ffffff" stroke-width="0.35" opacity="0.8"/>
<line x1="205.92" y1="153" x2="205.92" y2="293.3" stroke="#ffffff" stroke-width="0.35" opacity="0.8"/>
<line x1="208.46" y1="153" x2="208.46" y2="293.3" stroke="#ffffff" stroke-width="0.35" opacity="0.8"/>
<line x1="210.99" y1="153" x2="210.99" y2="293.3" stroke="#ffffff" stroke-width="0.35" opacity="0.8"/>
<line x1="213.53" y1="153" x2="213.53" y2="293.3" stroke="#ffffff" stroke-width="0.35" opacity="0.8"/>
<line x1="216.06" y1="153" x2="216.06" y2="293.3" stroke="#ffffff" stroke-width="0.35" opacity="0.8"/>
<line x1="218.59" y1="153" x2="218.59" y2="293.3" stroke="#ffffff" stroke-width="0.35" opacity="0.8"/>
<line x1="221.13" y1="153" x2="221.13" y2="293.3" stroke="#ffffff" stroke-width="0.35" opacity="0.8"/>
<line x1="223.66" y1="153" x2="223.66" y2="293.3" stroke="#ffffff" stroke-width="0.35" opacity="0.8"/>
<line x1="226.2" y1="153" x2="226.2" y2="293.3" stroke="#ffffff" stroke-width="0.35" opacity="0.8"/>
<line x1="228.73" y1="153" x2="228.73" y2="293.3" stroke="#ffffff" stroke-width="0.35" opacity="0.8"/>
<line x1="231.27" y1="153" x2="231.27" y2="293.3" stroke="#ffffff" stroke-width="0.35" opacity="0.8"/>
<line x1="152.7" y1="155.65" x2="233.8" y2="155.65" stroke="#ffffff" stroke-width="0.35" opacity="0.8"/>
<line x1="152.7" y1="158.29" x2="233.8" y2="158.29" stroke="#ffffff" stroke-width="0.35" opacity="0.8"/>
<line x1="152.7" y1="160.94" x2="233.8" y2="160.94" stroke="#ffffff" stroke-width="0.35" opacity="0.8"/>
<line x1="152.7" y1="163.59" x2="233.8" y2="163.59" stroke="#ffffff" stroke-width="0.35" opacity="0.8"/>
<line x1="152.7" y1="166.24" x2="233.8" y2="166.24" stroke="#ffffff" stroke-width="0.35" opacity="0.8"/>
<line x1="152.7" y1="168.88" x2="233.8" y2="168.88" stroke="#ffffff" stroke-width="0.35" opacity="0.8"/>
<line x1="152.7" y1="171.53" x2="233.8" y2="171.53" stroke="#ffffff" stroke-width="0.35" opacity="0.8"/>
<line x1="152.7" y1="174.18" x2="233.8" y2="174.18" stroke="#ffffff" stroke-width="0.35" opacity="0.8"/>
<line x1="152.7" y1="176.82" x2="233.8" y2="176.82" stroke="#ffffff" stroke-width="0.35" opacity="0.8"/>
<line x1="152.7" y1="179.47" x2="233.8" y2="179.47" stroke="#ffffff" stroke-width="0.35" opacity="0.8"/>
<line x1="152.7" y1="182.12" x2="233.8" y2="182.12" stroke="#ffffff" stroke-width="0.35" opacity="0.8"/>
<line x1="152.7" y1="184.77" x2="233.8" y2="184.77" stroke="#ffffff" stroke-width="0.35" opacity="0.8"/>
<line x1="152.7" y1="187.41" x2="233.8" y2="187.41" stroke="#ffffff" stroke-width="0.35" opacity="0.8"/>
<line x1="152.7" y1="190.06" x2="233.8" y2="190.06" stroke="#ffffff" stroke-width="0.35" opacity="0.8"/>
<line x1="152.7" y1="192.71" x2="233.8" y2="192.71" stroke="#ffffff" stroke-width="0.35" opacity="0.8"/>
<line x1="152.7" y1="195.35" x2="233.8" y2="195.35" stroke="#ffffff" stroke-width="0.35" opacity="0.8"/>
<line x1="152.7" y1="198" x2="233.8" y2="198" stroke="#ffffff" stroke-width="0.35" opacity="0.8"/>
<line x1="152.7" y1="200.65" x2="233.8" y2="200.65" stroke="#ffffff" stroke-width="0.35" opacity="0.8"/>
<line x1="152.7" y1="203.3" x2="233.8" y2="203.3" stroke="#ffffff" stroke-width="0.35" opacity="0.8"/>
<line x1="152.7" y1="205.94" x2="233.8" y2="205.94" stroke="#ffffff" stroke-width="0.35" opacity="0.8"/>
<line x1="152.7" y1="208.59" x2="233.8" y2="208.59" stroke="#ffffff" stroke-width="0.35" opacity="0.8"/>
<line x1="152.7" y1="211.24" x2="233.8" y2="211.24" stroke="#ffffff" stroke-width="0.35" opacity="0.8"/>
<line x1="152.7" y1="213.88" x2="233.8" y2="213.88" stroke="#ffffff" stroke-width="0.35" opacity="0.8"/>
<line x1="152.7" y1="216.53" x2="233.8" y2="216.53" stroke="#ffffff" stroke-width="0.35" opacity="0.8"/>
<line x1="152.7" y1="219.18" x2="233.8" y2="219.18" stroke="#ffffff" stroke-width="0.35" opacity="0.8"/>
<line x1="152.7" y1="221.83" x2="233.8" y2="221.83" stroke="#ffffff" stroke-width="0.35" opacity="0.8"/>
<line x1="152.7" y1="224.47" x2="233.8" y2="224.47" stroke="#ffffff" stroke-width="0.35" opacity="0.8"/>
<line x1="152.7" y1="227.12" x2="233.8" y2="227.12" stroke="#ffffff" stroke-width="0.35" opacity="0.8"/>
<line x1="152.7" y1="229.77" x2="233.8" y2="229.77" stroke="#ffffff" stroke-width="0.35" opacity="0.8"/>
<line x1="152.7" y1="232.42" x2="233.8" y2="232.42" stroke="#ffffff" stroke-width="0.35" opacity="0.8"/>
<line x1="152.7" y1="235.06" x2="233.8" y2="235.06" stroke="#ffffff" stroke-width="0.35" opacity="0.8"/>
<line x1="152.7" y1="237.71" x2="233.8" y2="237.71" stroke="#ffffff" stroke-width="0.35" opacity="0.8"/>
<line x1="152.7" y1="240.36" x2="233.8" y2="240.36" stroke="#ffffff" stroke-width="0.35" opacity="0.8"/>
<line x1="152.7" y1="243" x2="233.8" y2="243" stroke="#ffffff" stroke-width="0.35" opacity="0.8"/>
<line x1="152.7" y1="245.65" x2="233.8" y2="245.65" stroke="#ffffff" stroke-width="0.35" opacity="0.8"/>
<line x1="152.7" y1="248.3" x2="233.8" y2="248.3" stroke="#ffffff" stroke-width="0.35" opacity="0.8"/>
<line x1="152.7" y1="250.95" x2="233.8" y2="250.95" stroke="#ffffff" stroke-width="0.35" opacity="0.8"/>
<line x1="152.7" y1="253.59" x2="233.8" y2="253.59" stroke="#ffffff" stroke-width="0.35" opacity="0.8"/>
<line x1="152.7" y1="256.24" x2="233.8" y2="256.24" stroke="#ffffff" stroke-width="0.35" opacity="0.8"/>
<line x1="152.7" y1="258.89" x2="233.8" y2="258.89" stroke="#ffffff" stroke-width="0.35" opacity="0.8"/>
<line x1="152.7" y1="261.53" x2="233.8" y2="261.53" stroke="#ffffff" stroke-width="0.35" opacity="0.8"/>
<line x1="152.7" y1="264.18" x2="233.8" y2="264.18" stroke="#ffffff" stroke-width="0.35" opacity="0.8"/>
<line x1="152.7" y1="266.83" x2="233.8" y2="266.83" stroke="#ffffff" stroke-width="0.35" opacity="0.8"/>
<line x1="152.7" y1="269.48" x2="233.8" y2="269.48" stroke="#ffffff" stroke-width="0.35" opacity="0.8"/>
<line x1="152.7" y1="272.12" x2="233.8" y2="272.12" stroke="#ffffff" stroke-width="0.35" opacity="0.8"/>
<line x1="152.7" y1="274.77" x2="233.8" y2="274.77" stroke="#ffffff" stroke-width="0.35" opacity="0.8"/>
<line x1="152.7" y1="277.42" x2="233.8" y2="277.42" stroke="#ffffff" stroke-width="0.35" opacity="0.8"/>
<line x1="152.7" y1="280.06" x2="233.8" y2="280.06" stroke="#ffffff" stroke-width="0.35" opacity="0.8"/>
<line x1="152.7" y1="282.71" x2="233.8" y2="282.71" stroke="#ffffff" stroke-width="0.35" opacity="0.8"/>
<line x1="152.7" y1="285.36" x2="233.8" y2="285.36" stroke="#ffffff" stroke-width="0.35" opacity="0.8"/>
<line x1="152.7" y1="288.01" x2="233.8" y2="288.01" stroke="#ffffff" stroke-width="0.35" opacity="0.8"/>
<line x1="152.7" y1="290.65" x2="233.8" y2="290.65" stroke="#ffffff" stroke-width="0.35" opacity="0.8"/>
<rect x="152.7" y="149.8" width="40.55" height="1.9" fill="#5b8fd0"/>
<rect x="193.25" y="149.8" width="40.55" height="1.9" fill="#f5b778"/>
<rect x="193.25" y="153" width="40.55" height="21.18" fill="none" stroke="#8a2a3a" stroke-width="0.8"/>
<rect x="152.7" y="153" width="40.55" height="21.18" fill="none" stroke="#3a5fa0" stroke-width="0.7"/>
<rect x="152.7" y="174.18" width="40.55" height="119.12" fill="none" stroke="#3a4a80" stroke-width="0.8"/>
<rect x="193.25" y="174.18" width="40.55" height="119.12" fill="none" stroke="#3a6aa8" stroke-width="0.6"/>
<text x="193.6" y="144.6" font-size="8.8" text-anchor="middle" fill="#222" font-style="italic">LV</text>
<defs><linearGradient id="cs" x1="0" x2="1" y1="0" y2="0"><stop offset="0" stop-color="#2166ac"/><stop offset="0.17" stop-color="#4393c3"/><stop offset="0.33" stop-color="#92c5de"/><stop offset="0.5" stop-color="#f7f7f7"/><stop offset="0.67" stop-color="#f4a582"/><stop offset="0.83" stop-color="#d6604d"/><stop offset="1" stop-color="#b2182b"/></linearGradient></defs>
<rect x="175.6" y="296" width="39" height="2.2" fill="url(#cs)"/>
<text x="171.3" y="299.3" font-size="6" text-anchor="middle" fill="#222">−3</text>
<text x="217.3" y="299.3" font-size="6" text-anchor="middle" fill="#222">3</text>
<line x1="328.4" y1="149.5" x2="328.4" y2="280.5" stroke="#1a1a1a" stroke-width="0.9"/>
<line x1="328" y1="280" x2="386.3" y2="280" stroke="#1a1a1a" stroke-width="0.9"/>
<rect x="328.4" y="154.2" width="55.4" height="6.6" fill="#c8102e"/>
<line x1="326.2" y1="157.5" x2="328.4" y2="157.5" stroke="#1a1a1a" stroke-width="0.8"/>
<text x="323.2" y="159.5" font-size="6.0" text-anchor="end" fill="#222" textLength="70" lengthAdjust="spacingAndGlyphs">response to muscle activity</text>
<rect x="328.4" y="168.42" width="44.87" height="6.6" fill="#c8102e"/>
<line x1="326.2" y1="171.72" x2="328.4" y2="171.72" stroke="#1a1a1a" stroke-width="0.8"/>
<text x="323.2" y="173.72" font-size="6.0" text-anchor="end" fill="#222" textLength="50" lengthAdjust="spacingAndGlyphs">response to activity</text>
<rect x="328.4" y="182.64" width="55.4" height="6.6" fill="#c8102e"/>
<line x1="326.2" y1="185.94" x2="328.4" y2="185.94" stroke="#1a1a1a" stroke-width="0.8"/>
<text x="323.2" y="187.94" font-size="6.0" text-anchor="end" fill="#222" textLength="36.3" lengthAdjust="spacingAndGlyphs">PKA signaling</text>
<rect x="328.4" y="196.86" width="15.51" height="6.6" fill="#c8102e"/>
<line x1="326.2" y1="200.16" x2="328.4" y2="200.16" stroke="#1a1a1a" stroke-width="0.8"/>
<text x="323.2" y="202.16" font-size="6.0" text-anchor="end" fill="#222" textLength="58.5" lengthAdjust="spacingAndGlyphs">phospholipid transport</text>
<rect x="328.4" y="211.08" width="55.4" height="6.6" fill="#1b4f8a"/>
<line x1="326.2" y1="214.38" x2="328.4" y2="214.38" stroke="#1a1a1a" stroke-width="0.8"/>
<text x="323.2" y="216.38" font-size="6.0" text-anchor="end" fill="#222" textLength="64.3" lengthAdjust="spacingAndGlyphs">long-chain FA cell import</text>
<rect x="328.4" y="225.3" width="55.4" height="6.6" fill="#1b4f8a"/>
<line x1="326.2" y1="228.6" x2="328.4" y2="228.6" stroke="#1a1a1a" stroke-width="0.8"/>
<text x="323.2" y="230.6" font-size="6.0" text-anchor="end" fill="#222" textLength="38" lengthAdjust="spacingAndGlyphs">calcium import</text>
<rect x="328.4" y="239.52" width="55.4" height="6.6" fill="#1b4f8a"/>
<line x1="326.2" y1="242.82" x2="328.4" y2="242.82" stroke="#1a1a1a" stroke-width="0.8"/>
<text x="323.2" y="244.82" font-size="6.0" text-anchor="end" fill="#222" textLength="64.8" lengthAdjust="spacingAndGlyphs">actin filament distribution</text>
<rect x="328.4" y="253.74" width="55.4" height="6.6" fill="#c8102e"/>
<line x1="326.2" y1="257.04" x2="328.4" y2="257.04" stroke="#1a1a1a" stroke-width="0.8"/>
<text x="323.2" y="259.04" font-size="6.0" text-anchor="end" fill="#222" textLength="46.8" lengthAdjust="spacingAndGlyphs">acetate regulation</text>
<rect x="328.4" y="267.96" width="55.4" height="6.6" fill="#c8102e"/>
<line x1="326.2" y1="271.26" x2="328.4" y2="271.26" stroke="#1a1a1a" stroke-width="0.8"/>
<text x="323.2" y="273.26" font-size="6.0" text-anchor="end" fill="#222" textLength="70" lengthAdjust="spacingAndGlyphs">integrin-mediated signaling</text>
<line x1="328.4" y1="280" x2="328.4" y2="282.2" stroke="#1a1a1a" stroke-width="0.7"/>
<text x="328.4" y="290.8" font-size="5.4" text-anchor="middle" fill="#222">0</text>
<line x1="342.25" y1="280" x2="342.25" y2="282.2" stroke="#1a1a1a" stroke-width="0.7"/>
<text x="342.25" y="290.8" font-size="5.4" text-anchor="middle" fill="#222">25</text>
<line x1="356.1" y1="280" x2="356.1" y2="282.2" stroke="#1a1a1a" stroke-width="0.7"/>
<text x="356.1" y="290.8" font-size="5.4" text-anchor="middle" fill="#222">50</text>
<line x1="369.95" y1="280" x2="369.95" y2="282.2" stroke="#1a1a1a" stroke-width="0.7"/>
<text x="369.95" y="290.8" font-size="5.4" text-anchor="middle" fill="#222">75</text>
<line x1="383.8" y1="280" x2="383.8" y2="282.2" stroke="#1a1a1a" stroke-width="0.7"/>
<text x="383.8" y="290.8" font-size="5.4" text-anchor="middle" fill="#222">100</text>
<text x="357.7" y="302.6" font-size="7.4" text-anchor="middle" fill="#333" font-weight="bold" textLength="40" lengthAdjust="spacingAndGlyphs">Fold enrichment</text>
<rect x="396.3" y="220.5" width="5" height="5" fill="#c8102e"/>
<rect x="396.3" y="230" width="5" height="5" fill="#1b4f8a"/>
<text x="404.6" y="225" font-size="5.4" fill="#333">Increased</text>
<text x="404.6" y="234.5" font-size="5.4" fill="#333">Decreased</text>
<line x1="43.1" y1="335.8" x2="43.1" y2="385" stroke="#2a2a2a" stroke-width="1.3"/>
<line x1="42.5" y1="384.4" x2="76.2" y2="384.4" stroke="#2a2a2a" stroke-width="1.3"/>
<line x1="40.5" y1="336.5" x2="43.1" y2="336.5" stroke="#2a2a2a" stroke-width="0.9"/>
<text x="37.6" y="338.6" font-size="6.0" text-anchor="end" fill="#333">1.5</text>
<line x1="40.5" y1="348.3" x2="43.1" y2="348.3" stroke="#2a2a2a" stroke-width="0.9"/>
<text x="37.6" y="350.4" font-size="6.0" text-anchor="end" fill="#333">1.3</text>
<line x1="40.5" y1="360" x2="43.1" y2="360" stroke="#2a2a2a" stroke-width="0.9"/>
<text x="37.6" y="362.1" font-size="6.0" text-anchor="end" fill="#333">1.1</text>
<line x1="40.5" y1="371.6" x2="43.1" y2="371.6" stroke="#2a2a2a" stroke-width="0.9"/>
<text x="37.6" y="373.7" font-size="6.0" text-anchor="end" fill="#333">0.9</text>
<line x1="40.5" y1="383.1" x2="43.1" y2="383.1" stroke="#2a2a2a" stroke-width="0.9"/>
<text x="37.6" y="385.2" font-size="6.0" text-anchor="end" fill="#333">0.7</text>
<line x1="52.7" y1="350.4" x2="52.7" y2="364.4" stroke="#7f8090" stroke-width="0.75"/>
<line x1="52.7" y1="377.7" x2="52.7" y2="382.2" stroke="#7f8090" stroke-width="0.75"/>
<line x1="51.4" y1="350.4" x2="54" y2="350.4" stroke="#6f7080" stroke-width="0.8"/>
<line x1="51.4" y1="382.2" x2="54" y2="382.2" stroke="#6f7080" stroke-width="0.8"/>
<rect x="49.4" y="364.4" width="6.6" height="13.3" fill="#2ba3dc"/>
<line x1="49.4" y1="373.5" x2="56" y2="373.5" stroke="#17679e" stroke-width="1.0"/>
<line x1="67.05" y1="340.6" x2="67.05" y2="355" stroke="#7f8090" stroke-width="0.75"/>
<line x1="67.05" y1="370.6" x2="67.05" y2="375.6" stroke="#7f8090" stroke-width="0.75"/>
<line x1="65.75" y1="340.6" x2="68.35" y2="340.6" stroke="#6f7080" stroke-width="0.8"/>
<line x1="65.75" y1="375.6" x2="68.35" y2="375.6" stroke="#6f7080" stroke-width="0.8"/>
<rect x="63.5" y="355" width="7.1" height="15.6" fill="#f38d0d"/>
<line x1="63.5" y1="361" x2="70.6" y2="361" stroke="#7a3a12" stroke-width="1.0"/>
<line x1="51.9" y1="339.5" x2="66.2" y2="339.5" stroke="#444" stroke-width="0.8"/>
<text x="59.05" y="340.1" font-size="5.2" text-anchor="middle" fill="#222">*</text>
<text x="59.4" y="331" font-size="7.2" text-anchor="middle" fill="#111" textLength="19.3" lengthAdjust="spacingAndGlyphs">Tnnc1</text>
<line x1="106.8" y1="336" x2="106.8" y2="385" stroke="#2a2a2a" stroke-width="1.3"/>
<line x1="106.2" y1="384.4" x2="132" y2="384.4" stroke="#2a2a2a" stroke-width="1.3"/>
<line x1="104.2" y1="342.5" x2="106.8" y2="342.5" stroke="#2a2a2a" stroke-width="0.9"/>
<text x="101.1" y="344.6" font-size="6.0" text-anchor="end" fill="#333">−0.048</text>
<line x1="104.2" y1="350.4" x2="106.8" y2="350.4" stroke="#2a2a2a" stroke-width="0.9"/>
<text x="101.1" y="352.5" font-size="6.0" text-anchor="end" fill="#333">−0.050</text>
<line x1="104.2" y1="358.1" x2="106.8" y2="358.1" stroke="#2a2a2a" stroke-width="0.9"/>
<text x="101.1" y="360.2" font-size="6.0" text-anchor="end" fill="#333">−0.052</text>
<line x1="104.2" y1="366.2" x2="106.8" y2="366.2" stroke="#2a2a2a" stroke-width="0.9"/>
<text x="101.1" y="368.3" font-size="6.0" text-anchor="end" fill="#333">−0.054</text>
<line x1="104.2" y1="374.1" x2="106.8" y2="374.1" stroke="#2a2a2a" stroke-width="0.9"/>
<text x="101.1" y="376.2" font-size="6.0" text-anchor="end" fill="#333">−0.056</text>
<line x1="104.2" y1="381.9" x2="106.8" y2="381.9" stroke="#2a2a2a" stroke-width="0.9"/>
<text x="101.1" y="384" font-size="6.0" text-anchor="end" fill="#333">−0.058</text>
<line x1="113.45" y1="361.2" x2="113.45" y2="363.1" stroke="#7f8090" stroke-width="0.75"/>
<line x1="113.45" y1="371.2" x2="113.45" y2="372.2" stroke="#7f8090" stroke-width="0.75"/>
<line x1="112.15" y1="361.2" x2="114.75" y2="361.2" stroke="#6f7080" stroke-width="0.8"/>
<line x1="112.15" y1="372.2" x2="114.75" y2="372.2" stroke="#6f7080" stroke-width="0.8"/>
<rect x="110.8" y="363.1" width="5.3" height="8.1" fill="#2ba3dc"/>
<line x1="110.8" y1="367.2" x2="116.1" y2="367.2" stroke="#17679e" stroke-width="1.0"/>
<circle cx="113.45" cy="381.9" r="0.6" fill="#222"/>
<line x1="124.9" y1="340.6" x2="124.9" y2="353.5" stroke="#7f8090" stroke-width="0.75"/>
<line x1="124.9" y1="362.8" x2="124.9" y2="373.1" stroke="#7f8090" stroke-width="0.75"/>
<line x1="123.6" y1="340.6" x2="126.2" y2="340.6" stroke="#6f7080" stroke-width="0.8"/>
<line x1="123.6" y1="373.1" x2="126.2" y2="373.1" stroke="#6f7080" stroke-width="0.8"/>
<rect x="121.8" y="353.5" width="6.2" height="9.3" fill="#f38d0d"/>
<line x1="121.8" y1="355.6" x2="128" y2="355.6" stroke="#7a3a12" stroke-width="1.0"/>
<line x1="113.2" y1="339.5" x2="124.9" y2="339.5" stroke="#444" stroke-width="0.8"/>
<text x="119.05" y="340.1" font-size="5.2" text-anchor="middle" fill="#222">**</text>
<text x="119.2" y="331" font-size="7.2" text-anchor="middle" fill="#111" textLength="16.3" lengthAdjust="spacingAndGlyphs">Nrap</text>
<line x1="162.2" y1="336.2" x2="162.2" y2="385" stroke="#2a2a2a" stroke-width="1.3"/>
<line x1="161.6" y1="384.4" x2="186.5" y2="384.4" stroke="#2a2a2a" stroke-width="1.3"/>
<line x1="159.6" y1="347.2" x2="162.2" y2="347.2" stroke="#2a2a2a" stroke-width="0.9"/>
<text x="158.1" y="349.3" font-size="6.5" text-anchor="end" fill="#333">−0.050</text>
<line x1="159.6" y1="361" x2="162.2" y2="361" stroke="#2a2a2a" stroke-width="0.9"/>
<text x="158.1" y="363.1" font-size="6.5" text-anchor="end" fill="#333">−0.052</text>
<line x1="159.6" y1="374.4" x2="162.2" y2="374.4" stroke="#2a2a2a" stroke-width="0.9"/>
<text x="158.1" y="376.5" font-size="6.5" text-anchor="end" fill="#333">−0.054</text>
<line x1="168.95" y1="346.9" x2="168.95" y2="360" stroke="#7f8090" stroke-width="0.75"/>
<line x1="168.95" y1="377.7" x2="168.95" y2="382.1" stroke="#7f8090" stroke-width="0.75"/>
<line x1="167.65" y1="346.9" x2="170.25" y2="346.9" stroke="#6f7080" stroke-width="0.8"/>
<line x1="167.65" y1="382.1" x2="170.25" y2="382.1" stroke="#6f7080" stroke-width="0.8"/>
<rect x="166" y="360" width="5.9" height="17.7" fill="#2ba3dc"/>
<line x1="166" y1="369.1" x2="171.9" y2="369.1" stroke="#17679e" stroke-width="1.0"/>
<line x1="180" y1="342.2" x2="180" y2="346.2" stroke="#7f8090" stroke-width="0.75"/>
<line x1="180" y1="357.5" x2="180" y2="368.1" stroke="#7f8090" stroke-width="0.75"/>
<line x1="178.7" y1="342.2" x2="181.3" y2="342.2" stroke="#6f7080" stroke-width="0.8"/>
<line x1="178.7" y1="368.1" x2="181.3" y2="368.1" stroke="#6f7080" stroke-width="0.8"/>
<rect x="176.9" y="346.2" width="6.2" height="11.3" fill="#f38d0d"/>
<line x1="176.9" y1="353.1" x2="183.1" y2="353.1" stroke="#7a3a12" stroke-width="1.0"/>
<line x1="169.4" y1="339.5" x2="179.8" y2="339.5" stroke="#444" stroke-width="0.8"/>
<text x="174.6" y="340.1" font-size="5.2" text-anchor="middle" fill="#222">**</text>
<text x="174.7" y="330.7" font-size="7.2" text-anchor="middle" fill="#111" textLength="28.1" lengthAdjust="spacingAndGlyphs">Myo18a</text>
<line x1="220" y1="336.3" x2="220" y2="383.8" stroke="#2a2a2a" stroke-width="1.3"/>
<line x1="219.4" y1="383.2" x2="243.8" y2="383.2" stroke="#2a2a2a" stroke-width="1.3"/>
<line x1="217.4" y1="340" x2="220" y2="340" stroke="#2a2a2a" stroke-width="0.9"/>
<text x="214" y="342.1" font-size="6.0" text-anchor="end" fill="#333">−0.062</text>
<line x1="217.4" y1="349.2" x2="220" y2="349.2" stroke="#2a2a2a" stroke-width="0.9"/>
<text x="214" y="351.3" font-size="6.0" text-anchor="end" fill="#333">−0.063</text>
<line x1="217.4" y1="358.3" x2="220" y2="358.3" stroke="#2a2a2a" stroke-width="0.9"/>
<text x="214" y="360.4" font-size="6.0" text-anchor="end" fill="#333">−0.064</text>
<line x1="217.4" y1="367.5" x2="220" y2="367.5" stroke="#2a2a2a" stroke-width="0.9"/>
<text x="214" y="369.6" font-size="6.0" text-anchor="end" fill="#333">−0.065</text>
<line x1="217.4" y1="376.3" x2="220" y2="376.3" stroke="#2a2a2a" stroke-width="0.9"/>
<text x="214" y="378.4" font-size="6.0" text-anchor="end" fill="#333">−0.066</text>
<line x1="226.65" y1="341.3" x2="226.65" y2="351.3" stroke="#7f8090" stroke-width="0.75"/>
<line x1="226.65" y1="382.5" x2="226.65" y2="382.5" stroke="#7f8090" stroke-width="0.75"/>
<line x1="225.35" y1="341.3" x2="227.95" y2="341.3" stroke="#6f7080" stroke-width="0.8"/>
<line x1="225.35" y1="382.5" x2="227.95" y2="382.5" stroke="#6f7080" stroke-width="0.8"/>
<rect x="223.8" y="351.3" width="5.7" height="31.2" fill="#2ba3dc"/>
<line x1="223.8" y1="382" x2="229.5" y2="382" stroke="#17679e" stroke-width="1.0"/>
<line x1="238.05" y1="342.5" x2="238.05" y2="346.3" stroke="#7f8090" stroke-width="0.75"/>
<line x1="238.05" y1="352.5" x2="238.05" y2="358.8" stroke="#7f8090" stroke-width="0.75"/>
<line x1="236.75" y1="342.5" x2="239.35" y2="342.5" stroke="#6f7080" stroke-width="0.8"/>
<line x1="236.75" y1="358.8" x2="239.35" y2="358.8" stroke="#6f7080" stroke-width="0.8"/>
<rect x="235.5" y="346.3" width="5.1" height="6.2" fill="#f38d0d"/>
<line x1="235.5" y1="349.3" x2="240.6" y2="349.3" stroke="#7a3a12" stroke-width="1.0"/>
<line x1="226.3" y1="340.5" x2="238" y2="340.5" stroke="#444" stroke-width="0.8"/>
<text x="232.15" y="340.3" font-size="5.2" text-anchor="middle" fill="#222">**</text>
<text x="231.6" y="331.4" font-size="7.2" text-anchor="middle" fill="#111" textLength="20.8" lengthAdjust="spacingAndGlyphs">Phkg1</text>
<line x1="58.1" y1="404.2" x2="58.1" y2="453.2" stroke="#2a2a2a" stroke-width="1.3"/>
<line x1="57.5" y1="452.6" x2="80" y2="452.6" stroke="#2a2a2a" stroke-width="1.3"/>
<line x1="55.5" y1="405.2" x2="58.1" y2="405.2" stroke="#2a2a2a" stroke-width="0.9"/>
<text x="51.9" y="407.3" font-size="6.0" text-anchor="end" fill="#333">−0.0450</text>
<line x1="55.5" y1="417.4" x2="58.1" y2="417.4" stroke="#2a2a2a" stroke-width="0.9"/>
<text x="51.9" y="419.5" font-size="6.0" text-anchor="end" fill="#333">−0.0475</text>
<line x1="55.5" y1="429.2" x2="58.1" y2="429.2" stroke="#2a2a2a" stroke-width="0.9"/>
<text x="51.9" y="431.3" font-size="6.0" text-anchor="end" fill="#333">−0.0500</text>
<line x1="55.5" y1="441.5" x2="58.1" y2="441.5" stroke="#2a2a2a" stroke-width="0.9"/>
<text x="51.9" y="443.6" font-size="6.0" text-anchor="end" fill="#333">−0.0525</text>
<line x1="64.6" y1="410.2" x2="64.6" y2="420.7" stroke="#7f8090" stroke-width="0.75"/>
<line x1="64.6" y1="427.7" x2="64.6" y2="433.2" stroke="#7f8090" stroke-width="0.75"/>
<line x1="63.3" y1="410.2" x2="65.9" y2="410.2" stroke="#6f7080" stroke-width="0.8"/>
<line x1="63.3" y1="433.2" x2="65.9" y2="433.2" stroke="#6f7080" stroke-width="0.8"/>
<rect x="62.1" y="420.7" width="5" height="7" fill="#2ba3dc"/>
<line x1="62.1" y1="424.6" x2="67.1" y2="424.6" stroke="#17679e" stroke-width="1.0"/>
<circle cx="64.6" cy="443.4" r="0.6" fill="#222"/>
<line x1="74.65" y1="424.2" x2="74.65" y2="428.2" stroke="#7f8090" stroke-width="0.75"/>
<line x1="74.65" y1="436.1" x2="74.65" y2="443" stroke="#7f8090" stroke-width="0.75"/>
<line x1="73.35" y1="424.2" x2="75.95" y2="424.2" stroke="#6f7080" stroke-width="0.8"/>
<line x1="73.35" y1="443" x2="75.95" y2="443" stroke="#6f7080" stroke-width="0.8"/>
<rect x="72.2" y="428.2" width="4.9" height="7.9" fill="#f38d0d"/>
<line x1="72.2" y1="432" x2="77.1" y2="432" stroke="#7a3a12" stroke-width="1.0"/>
<circle cx="74.65" cy="450.1" r="0.6" fill="#222"/>
<line x1="64.7" y1="408.5" x2="75" y2="408.5" stroke="#444" stroke-width="0.8"/>
<text x="69.85" y="408.3" font-size="5.2" text-anchor="middle" fill="#222">*</text>
<text x="70.2" y="398.6" font-size="7.2" text-anchor="middle" fill="#111" textLength="14.1" lengthAdjust="spacingAndGlyphs">Pin1</text>
<line x1="103.8" y1="404" x2="103.8" y2="453.2" stroke="#2a2a2a" stroke-width="1.3"/>
<line x1="103.2" y1="452.6" x2="132.5" y2="452.6" stroke="#2a2a2a" stroke-width="1.3"/>
<line x1="101.2" y1="415.5" x2="103.8" y2="415.5" stroke="#2a2a2a" stroke-width="0.9"/>
<text x="97.6" y="417.6" font-size="6.0" text-anchor="end" fill="#333">0.14</text>
<line x1="101.2" y1="429" x2="103.8" y2="429" stroke="#2a2a2a" stroke-width="0.9"/>
<text x="97.6" y="431.1" font-size="6.0" text-anchor="end" fill="#333">0.12</text>
<line x1="101.2" y1="442.5" x2="103.8" y2="442.5" stroke="#2a2a2a" stroke-width="0.9"/>
<text x="97.6" y="444.6" font-size="6.0" text-anchor="end" fill="#333">0.10</text>
<line x1="111.95" y1="430.8" x2="111.95" y2="435.5" stroke="#7f8090" stroke-width="0.75"/>
<line x1="111.95" y1="443.8" x2="111.95" y2="450.5" stroke="#7f8090" stroke-width="0.75"/>
<line x1="110.65" y1="430.8" x2="113.25" y2="430.8" stroke="#6f7080" stroke-width="0.8"/>
<line x1="110.65" y1="450.5" x2="113.25" y2="450.5" stroke="#6f7080" stroke-width="0.8"/>
<rect x="108.8" y="435.5" width="6.3" height="8.3" fill="#2ba3dc"/>
<line x1="108.8" y1="437" x2="115.1" y2="437" stroke="#17679e" stroke-width="1.0"/>
<line x1="125.65" y1="427.5" x2="125.65" y2="430" stroke="#7f8090" stroke-width="0.75"/>
<line x1="125.65" y1="435" x2="125.65" y2="444.5" stroke="#7f8090" stroke-width="0.75"/>
<line x1="124.35" y1="427.5" x2="126.95" y2="427.5" stroke="#6f7080" stroke-width="0.8"/>
<line x1="124.35" y1="444.5" x2="126.95" y2="444.5" stroke="#6f7080" stroke-width="0.8"/>
<rect x="122.5" y="430" width="6.3" height="5" fill="#f38d0d"/>
<line x1="122.5" y1="431.8" x2="128.8" y2="431.8" stroke="#7a3a12" stroke-width="1.0"/>
<circle cx="125.65" cy="408.8" r="0.6" fill="#222"/>
<line x1="112.5" y1="408.5" x2="125" y2="408.5" stroke="#444" stroke-width="0.8"/>
<text x="118.75" y="408.3" font-size="5.2" text-anchor="middle" fill="#222">*</text>
<text x="119.7" y="398.8" font-size="7.2" text-anchor="middle" fill="#111" textLength="29.5" lengthAdjust="spacingAndGlyphs">Rtn4ip1</text>
<line x1="164.5" y1="404" x2="164.5" y2="453.2" stroke="#2a2a2a" stroke-width="1.3"/>
<line x1="163.9" y1="452.6" x2="189.5" y2="452.6" stroke="#2a2a2a" stroke-width="1.3"/>
<line x1="161.9" y1="405.8" x2="164.5" y2="405.8" stroke="#2a2a2a" stroke-width="0.9"/>
<text x="158.7" y="407.9" font-size="6.0" text-anchor="end" fill="#333">−0.050</text>
<line x1="161.9" y1="419.5" x2="164.5" y2="419.5" stroke="#2a2a2a" stroke-width="0.9"/>
<text x="158.7" y="421.6" font-size="6.0" text-anchor="end" fill="#333">−0.055</text>
<line x1="161.9" y1="433" x2="164.5" y2="433" stroke="#2a2a2a" stroke-width="0.9"/>
<text x="158.7" y="435.1" font-size="6.0" text-anchor="end" fill="#333">−0.060</text>
<line x1="161.9" y1="446.8" x2="164.5" y2="446.8" stroke="#2a2a2a" stroke-width="0.9"/>
<text x="158.7" y="448.9" font-size="6.0" text-anchor="end" fill="#333">−0.065</text>
<line x1="170.9" y1="408.8" x2="170.9" y2="411.3" stroke="#7f8090" stroke-width="0.75"/>
<line x1="170.9" y1="417.5" x2="170.9" y2="418.8" stroke="#7f8090" stroke-width="0.75"/>
<line x1="169.6" y1="408.8" x2="172.2" y2="408.8" stroke="#6f7080" stroke-width="0.8"/>
<line x1="169.6" y1="418.8" x2="172.2" y2="418.8" stroke="#6f7080" stroke-width="0.8"/>
<rect x="168" y="411.3" width="5.8" height="6.2" fill="#2ba3dc"/>
<line x1="168" y1="414.5" x2="173.8" y2="414.5" stroke="#17679e" stroke-width="1.0"/>
<circle cx="170.9" cy="435.5" r="0.6" fill="#222"/>
<line x1="182.8" y1="417.5" x2="182.8" y2="422.5" stroke="#7f8090" stroke-width="0.75"/>
<line x1="182.8" y1="434.5" x2="182.8" y2="450" stroke="#7f8090" stroke-width="0.75"/>
<line x1="181.5" y1="417.5" x2="184.1" y2="417.5" stroke="#6f7080" stroke-width="0.8"/>
<line x1="181.5" y1="450" x2="184.1" y2="450" stroke="#6f7080" stroke-width="0.8"/>
<rect x="180" y="422.5" width="5.6" height="12" fill="#f38d0d"/>
<line x1="180" y1="430.5" x2="185.6" y2="430.5" stroke="#7a3a12" stroke-width="1.0"/>
<line x1="170.5" y1="408.5" x2="181.3" y2="408.5" stroke="#444" stroke-width="0.8"/>
<text x="175.9" y="408.3" font-size="5.2" text-anchor="middle" fill="#222">**</text>
<text x="176.9" y="399.2" font-size="7.2" text-anchor="middle" fill="#111" textLength="23.8" lengthAdjust="spacingAndGlyphs">Myh10</text>
<line x1="217.5" y1="404" x2="217.5" y2="453.2" stroke="#2a2a2a" stroke-width="1.3"/>
<line x1="216.9" y1="452.6" x2="245" y2="452.6" stroke="#2a2a2a" stroke-width="1.3"/>
<line x1="214.9" y1="405" x2="217.5" y2="405" stroke="#2a2a2a" stroke-width="0.9"/>
<text x="214.5" y="407.1" font-size="6.0" text-anchor="end" fill="#333">−0.060</text>
<line x1="214.9" y1="418.3" x2="217.5" y2="418.3" stroke="#2a2a2a" stroke-width="0.9"/>
<text x="214.5" y="420.4" font-size="6.0" text-anchor="end" fill="#333">−0.062</text>
<line x1="214.9" y1="431.3" x2="217.5" y2="431.3" stroke="#2a2a2a" stroke-width="0.9"/>
<text x="214.5" y="433.4" font-size="6.0" text-anchor="end" fill="#333">−0.064</text>
<line x1="214.9" y1="444.5" x2="217.5" y2="444.5" stroke="#2a2a2a" stroke-width="0.9"/>
<text x="214.5" y="446.6" font-size="6.0" text-anchor="end" fill="#333">−0.066</text>
<line x1="226.95" y1="427" x2="226.95" y2="431.3" stroke="#7f8090" stroke-width="0.75"/>
<line x1="226.95" y1="438.8" x2="226.95" y2="440" stroke="#7f8090" stroke-width="0.75"/>
<line x1="225.65" y1="427" x2="228.25" y2="427" stroke="#6f7080" stroke-width="0.8"/>
<line x1="225.65" y1="440" x2="228.25" y2="440" stroke="#6f7080" stroke-width="0.8"/>
<rect x="224.3" y="431.3" width="5.3" height="7.5" fill="#2ba3dc"/>
<line x1="224.3" y1="432" x2="229.6" y2="432" stroke="#17679e" stroke-width="1.0"/>
<circle cx="226.95" cy="413.3" r="0.6" fill="#222"/>
<circle cx="226.95" cy="450.8" r="0.6" fill="#222"/>
<line x1="238.4" y1="434.5" x2="238.4" y2="438" stroke="#7f8090" stroke-width="0.75"/>
<line x1="238.4" y1="450" x2="238.4" y2="450.5" stroke="#7f8090" stroke-width="0.75"/>
<line x1="237.1" y1="434.5" x2="239.7" y2="434.5" stroke="#6f7080" stroke-width="0.8"/>
<line x1="237.1" y1="450.5" x2="239.7" y2="450.5" stroke="#6f7080" stroke-width="0.8"/>
<rect x="235.5" y="438" width="5.8" height="12" fill="#f38d0d"/>
<line x1="235.5" y1="443.8" x2="241.3" y2="443.8" stroke="#7a3a12" stroke-width="1.0"/>
<line x1="227.5" y1="408.5" x2="238.8" y2="408.5" stroke="#444" stroke-width="0.8"/>
<text x="233.15" y="408.3" font-size="5.2" text-anchor="middle" fill="#222">**</text>
<text x="233.1" y="399.2" font-size="7.2" text-anchor="middle" fill="#111" textLength="26.3" lengthAdjust="spacingAndGlyphs">Myl12b</text>
<line x1="112.1" y1="471.3" x2="112.1" y2="521.4" stroke="#2a2a2a" stroke-width="1.3"/>
<line x1="111.5" y1="520.8" x2="137" y2="520.8" stroke="#2a2a2a" stroke-width="1.3"/>
<line x1="109.5" y1="472.5" x2="112.1" y2="472.5" stroke="#2a2a2a" stroke-width="0.9"/>
<text x="106" y="474.6" font-size="6.0" text-anchor="end" fill="#333">−0.010</text>
<line x1="109.5" y1="486.3" x2="112.1" y2="486.3" stroke="#2a2a2a" stroke-width="0.9"/>
<text x="106" y="488.4" font-size="6.0" text-anchor="end" fill="#333">−0.015</text>
<line x1="109.5" y1="499.4" x2="112.1" y2="499.4" stroke="#2a2a2a" stroke-width="0.9"/>
<text x="106" y="501.5" font-size="6.0" text-anchor="end" fill="#333">−0.020</text>
<line x1="109.5" y1="512.2" x2="112.1" y2="512.2" stroke="#2a2a2a" stroke-width="0.9"/>
<text x="106" y="514.3" font-size="6.0" text-anchor="end" fill="#333">−0.025</text>
<line x1="119.2" y1="488" x2="119.2" y2="492" stroke="#7f8090" stroke-width="0.75"/>
<line x1="119.2" y1="497.5" x2="119.2" y2="506.3" stroke="#7f8090" stroke-width="0.75"/>
<line x1="117.9" y1="488" x2="120.5" y2="488" stroke="#6f7080" stroke-width="0.8"/>
<line x1="117.9" y1="506.3" x2="120.5" y2="506.3" stroke="#6f7080" stroke-width="0.8"/>
<rect x="116.3" y="492" width="5.8" height="5.5" fill="#2ba3dc"/>
<line x1="116.3" y1="494.3" x2="122.1" y2="494.3" stroke="#17679e" stroke-width="1.0"/>
<circle cx="119.2" cy="477.5" r="0.6" fill="#222"/>
<circle cx="119.2" cy="480.5" r="0.6" fill="#222"/>
<circle cx="119.2" cy="512" r="0.6" fill="#222"/>
<line x1="130.4" y1="491.3" x2="130.4" y2="498.3" stroke="#7f8090" stroke-width="0.75"/>
<line x1="130.4" y1="507.5" x2="130.4" y2="518.8" stroke="#7f8090" stroke-width="0.75"/>
<line x1="129.1" y1="491.3" x2="131.7" y2="491.3" stroke="#6f7080" stroke-width="0.8"/>
<line x1="129.1" y1="518.8" x2="131.7" y2="518.8" stroke="#6f7080" stroke-width="0.8"/>
<rect x="127.5" y="498.3" width="5.8" height="9.2" fill="#f38d0d"/>
<line x1="127.5" y1="502" x2="133.3" y2="502" stroke="#7a3a12" stroke-width="1.0"/>
<line x1="120" y1="475.5" x2="130.5" y2="475.5" stroke="#444" stroke-width="0.8"/>
<text x="125.25" y="475.8" font-size="5.2" text-anchor="middle" fill="#222">*</text>
<text x="124.8" y="465.5" font-size="7.2" text-anchor="middle" fill="#111" textLength="24.5" lengthAdjust="spacingAndGlyphs">Arpc1a</text>
<line x1="156.8" y1="471.3" x2="156.8" y2="521.4" stroke="#2a2a2a" stroke-width="1.3"/>
<line x1="156.2" y1="520.8" x2="192" y2="520.8" stroke="#2a2a2a" stroke-width="1.3"/>
<line x1="154.2" y1="480.5" x2="156.8" y2="480.5" stroke="#2a2a2a" stroke-width="0.9"/>
<text x="152" y="482.6" font-size="6.0" text-anchor="end" fill="#333">1.8</text>
<line x1="154.2" y1="490.8" x2="156.8" y2="490.8" stroke="#2a2a2a" stroke-width="0.9"/>
<text x="152" y="492.9" font-size="6.0" text-anchor="end" fill="#333">1.7</text>
<line x1="154.2" y1="500.8" x2="156.8" y2="500.8" stroke="#2a2a2a" stroke-width="0.9"/>
<text x="152" y="502.9" font-size="6.0" text-anchor="end" fill="#333">1.6</text>
<line x1="154.2" y1="511.3" x2="156.8" y2="511.3" stroke="#2a2a2a" stroke-width="0.9"/>
<text x="152" y="513.4" font-size="6.0" text-anchor="end" fill="#333">1.5</text>
<line x1="166.05" y1="476.3" x2="166.05" y2="479.5" stroke="#7f8090" stroke-width="0.75"/>
<line x1="166.05" y1="494.5" x2="166.05" y2="503.3" stroke="#7f8090" stroke-width="0.75"/>
<line x1="164.75" y1="476.3" x2="167.35" y2="476.3" stroke="#6f7080" stroke-width="0.8"/>
<line x1="164.75" y1="503.3" x2="167.35" y2="503.3" stroke="#6f7080" stroke-width="0.8"/>
<rect x="162.5" y="479.5" width="7.1" height="15" fill="#2ba3dc"/>
<line x1="162.5" y1="488.8" x2="169.6" y2="488.8" stroke="#17679e" stroke-width="1.0"/>
<line x1="180.4" y1="480" x2="180.4" y2="492.5" stroke="#7f8090" stroke-width="0.75"/>
<line x1="180.4" y1="507" x2="180.4" y2="518.3" stroke="#7f8090" stroke-width="0.75"/>
<line x1="179.1" y1="480" x2="181.7" y2="480" stroke="#6f7080" stroke-width="0.8"/>
<line x1="179.1" y1="518.3" x2="181.7" y2="518.3" stroke="#6f7080" stroke-width="0.8"/>
<rect x="177" y="492.5" width="6.8" height="14.5" fill="#f38d0d"/>
<line x1="177" y1="498.8" x2="183.8" y2="498.8" stroke="#7a3a12" stroke-width="1.0"/>
<line x1="166.3" y1="475.5" x2="180" y2="475.5" stroke="#444" stroke-width="0.8"/>
<text x="173.15" y="475.8" font-size="5.2" text-anchor="middle" fill="#222">*</text>
<text x="173.5" y="465.5" font-size="7.2" text-anchor="middle" fill="#111" textLength="28" lengthAdjust="spacingAndGlyphs">Mybpc3</text>
<text x="24" y="360" font-size="7" text-anchor="middle" fill="#2a2a2a" font-weight="bold" textLength="49" lengthAdjust="spacingAndGlyphs" transform="rotate(-90 24 360)">Autoscaled intensity</text>
<text x="23.5" y="428.3" font-size="7" text-anchor="middle" fill="#2a2a2a" font-weight="bold" textLength="49" lengthAdjust="spacingAndGlyphs" transform="rotate(-90 23.5 428.3)">Autoscaled intensity</text>
<text x="82.3" y="495.5" font-size="7" text-anchor="middle" fill="#2a2a2a" font-weight="bold" textLength="49" lengthAdjust="spacingAndGlyphs" transform="rotate(-90 82.3 495.5)">Autoscaled intensity</text>
<g shape-rendering="crispEdges">
<rect x="276.9" y="326.9" width="6.33" height="7.69" fill="#dbe9f6"/>
<rect x="283.18" y="326.9" width="6.33" height="7.69" fill="#f9f9fb"/>
<rect x="289.46" y="326.9" width="6.33" height="7.69" fill="#fbe9df"/>
<rect x="295.73" y="326.9" width="6.33" height="7.69" fill="#dbe9f6"/>
<rect x="302.01" y="326.9" width="6.33" height="7.69" fill="#dbe9f6"/>
<rect x="308.29" y="326.9" width="6.33" height="7.69" fill="#1c5ca5"/>
<rect x="314.57" y="326.9" width="6.33" height="7.69" fill="#dbe9f6"/>
<rect x="320.85" y="326.9" width="6.33" height="7.69" fill="#f9f9fb"/>
<rect x="327.13" y="326.9" width="6.33" height="7.69" fill="#f9f9fb"/>
<rect x="333.4" y="326.9" width="6.33" height="7.69" fill="#f9f9fb"/>
<rect x="339.68" y="326.9" width="6.33" height="7.69" fill="#fbe9df"/>
<rect x="345.96" y="326.9" width="6.33" height="7.69" fill="#fbe9df"/>
<rect x="352.24" y="326.9" width="6.33" height="7.69" fill="#dbe9f6"/>
<rect x="358.52" y="326.9" width="6.33" height="7.69" fill="#e68560"/>
<rect x="364.8" y="326.9" width="6.33" height="7.69" fill="#fbe9df"/>
<rect x="371.07" y="326.9" width="6.33" height="7.69" fill="#f9f9fb"/>
<rect x="377.35" y="326.9" width="6.33" height="7.69" fill="#f8d8c7"/>
<rect x="383.63" y="326.9" width="6.33" height="7.69" fill="#e68560"/>
<rect x="389.91" y="326.9" width="6.33" height="7.69" fill="#f9f9fb"/>
<rect x="396.19" y="326.9" width="6.33" height="7.69" fill="#f9f9fb"/>
<rect x="402.47" y="326.9" width="6.33" height="7.69" fill="#f9f9fb"/>
<rect x="408.74" y="326.9" width="6.33" height="7.69" fill="#fbe9df"/>
<rect x="415.02" y="326.9" width="6.33" height="7.69" fill="#f4bda1"/>
<rect x="276.9" y="334.54" width="6.33" height="7.69" fill="#69a0d2"/>
<rect x="283.18" y="334.54" width="6.33" height="7.69" fill="#f9f9fb"/>
<rect x="289.46" y="334.54" width="6.33" height="7.69" fill="#f9f9fb"/>
<rect x="295.73" y="334.54" width="6.33" height="7.69" fill="#f9f9fb"/>
<rect x="302.01" y="334.54" width="6.33" height="7.69" fill="#96bee1"/>
<rect x="308.29" y="334.54" width="6.33" height="7.69" fill="#96bee1"/>
<rect x="314.57" y="334.54" width="6.33" height="7.69" fill="#fbe9df"/>
<rect x="320.85" y="334.54" width="6.33" height="7.69" fill="#fbe9df"/>
<rect x="327.13" y="334.54" width="6.33" height="7.69" fill="#f9f9fb"/>
<rect x="333.4" y="334.54" width="6.33" height="7.69" fill="#fbe9df"/>
<rect x="339.68" y="334.54" width="6.33" height="7.69" fill="#f8d8c7"/>
<rect x="345.96" y="334.54" width="6.33" height="7.69" fill="#f8d8c7"/>
<rect x="352.24" y="334.54" width="6.33" height="7.69" fill="#f9f9fb"/>
<rect x="358.52" y="334.54" width="6.33" height="7.69" fill="#f8d8c7"/>
<rect x="364.8" y="334.54" width="6.33" height="7.69" fill="#f9f9fb"/>
<rect x="371.07" y="334.54" width="6.33" height="7.69" fill="#fbe9df"/>
<rect x="377.35" y="334.54" width="6.33" height="7.69" fill="#f8d8c7"/>
<rect x="383.63" y="334.54" width="6.33" height="7.69" fill="#f9f9fb"/>
<rect x="389.91" y="334.54" width="6.33" height="7.69" fill="#f8d8c7"/>
<rect x="396.19" y="334.54" width="6.33" height="7.69" fill="#f8d8c7"/>
<rect x="402.47" y="334.54" width="6.33" height="7.69" fill="#f8d8c7"/>
<rect x="408.74" y="334.54" width="6.33" height="7.69" fill="#e68560"/>
<rect x="415.02" y="334.54" width="6.33" height="7.69" fill="#f4bda1"/>
<rect x="276.9" y="342.18" width="6.33" height="7.69" fill="#69a0d2"/>
<rect x="283.18" y="342.18" width="6.33" height="7.69" fill="#c0d8ed"/>
<rect x="289.46" y="342.18" width="6.33" height="7.69" fill="#dbe9f6"/>
<rect x="295.73" y="342.18" width="6.33" height="7.69" fill="#f9f9fb"/>
<rect x="302.01" y="342.18" width="6.33" height="7.69" fill="#f9f9fb"/>
<rect x="308.29" y="342.18" width="6.33" height="7.69" fill="#c0d8ed"/>
<rect x="314.57" y="342.18" width="6.33" height="7.69" fill="#f8d8c7"/>
<rect x="320.85" y="342.18" width="6.33" height="7.69" fill="#f8d8c7"/>
<rect x="327.13" y="342.18" width="6.33" height="7.69" fill="#eea582"/>
<rect x="333.4" y="342.18" width="6.33" height="7.69" fill="#c0d8ed"/>
<rect x="339.68" y="342.18" width="6.33" height="7.69" fill="#dbe9f6"/>
<rect x="345.96" y="342.18" width="6.33" height="7.69" fill="#dbe9f6"/>
<rect x="352.24" y="342.18" width="6.33" height="7.69" fill="#f4bda1"/>
<rect x="358.52" y="342.18" width="6.33" height="7.69" fill="#f8d8c7"/>
<rect x="364.8" y="342.18" width="6.33" height="7.69" fill="#f8d8c7"/>
<rect x="371.07" y="342.18" width="6.33" height="7.69" fill="#f8d8c7"/>
<rect x="377.35" y="342.18" width="6.33" height="7.69" fill="#f9f9fb"/>
<rect x="383.63" y="342.18" width="6.33" height="7.69" fill="#f4bda1"/>
<rect x="389.91" y="342.18" width="6.33" height="7.69" fill="#f4bda1"/>
<rect x="396.19" y="342.18" width="6.33" height="7.69" fill="#f4bda1"/>
<rect x="402.47" y="342.18" width="6.33" height="7.69" fill="#f4bda1"/>
<rect x="408.74" y="342.18" width="6.33" height="7.69" fill="#f9f9fb"/>
<rect x="415.02" y="342.18" width="6.33" height="7.69" fill="#f4bda1"/>
<rect x="276.9" y="349.82" width="6.33" height="7.69" fill="#c0d8ed"/>
<rect x="283.18" y="349.82" width="6.33" height="7.69" fill="#f8d8c7"/>
<rect x="289.46" y="349.82" width="6.33" height="7.69" fill="#f8d8c7"/>
<rect x="295.73" y="349.82" width="6.33" height="7.69" fill="#fbe9df"/>
<rect x="302.01" y="349.82" width="6.33" height="7.69" fill="#c0d8ed"/>
<rect x="308.29" y="349.82" width="6.33" height="7.69" fill="#c0d8ed"/>
<rect x="314.57" y="349.82" width="6.33" height="7.69" fill="#f8d8c7"/>
<rect x="320.85" y="349.82" width="6.33" height="7.69" fill="#f8d8c7"/>
<rect x="327.13" y="349.82" width="6.33" height="7.69" fill="#c0d8ed"/>
<rect x="333.4" y="349.82" width="6.33" height="7.69" fill="#c0d8ed"/>
<rect x="339.68" y="349.82" width="6.33" height="7.69" fill="#f9f9fb"/>
<rect x="345.96" y="349.82" width="6.33" height="7.69" fill="#69a0d2"/>
<rect x="352.24" y="349.82" width="6.33" height="7.69" fill="#f8d8c7"/>
<rect x="358.52" y="349.82" width="6.33" height="7.69" fill="#f8d8c7"/>
<rect x="364.8" y="349.82" width="6.33" height="7.69" fill="#f8d8c7"/>
<rect x="371.07" y="349.82" width="6.33" height="7.69" fill="#f8d8c7"/>
<rect x="377.35" y="349.82" width="6.33" height="7.69" fill="#f8d8c7"/>
<rect x="383.63" y="349.82" width="6.33" height="7.69" fill="#f8d8c7"/>
<rect x="389.91" y="349.82" width="6.33" height="7.69" fill="#f8d8c7"/>
<rect x="396.19" y="349.82" width="6.33" height="7.69" fill="#f8d8c7"/>
<rect x="402.47" y="349.82" width="6.33" height="7.69" fill="#f8d8c7"/>
<rect x="408.74" y="349.82" width="6.33" height="7.69" fill="#f8d8c7"/>
<rect x="415.02" y="349.82" width="6.33" height="7.69" fill="#f4bda1"/>
<rect x="276.9" y="357.45" width="6.33" height="7.69" fill="#c0d8ed"/>
<rect x="283.18" y="357.45" width="6.33" height="7.69" fill="#f9f9fb"/>
<rect x="289.46" y="357.45" width="6.33" height="7.69" fill="#f9f9fb"/>
<rect x="295.73" y="357.45" width="6.33" height="7.69" fill="#fbe9df"/>
<rect x="302.01" y="357.45" width="6.33" height="7.69" fill="#c0d8ed"/>
<rect x="308.29" y="357.45" width="6.33" height="7.69" fill="#c0d8ed"/>
<rect x="314.57" y="357.45" width="6.33" height="7.69" fill="#c0d8ed"/>
<rect x="320.85" y="357.45" width="6.33" height="7.69" fill="#c0d8ed"/>
<rect x="327.13" y="357.45" width="6.33" height="7.69" fill="#c0d8ed"/>
<rect x="333.4" y="357.45" width="6.33" height="7.69" fill="#c0d8ed"/>
<rect x="339.68" y="357.45" width="6.33" height="7.69" fill="#dbe9f6"/>
<rect x="345.96" y="357.45" width="6.33" height="7.69" fill="#fbe9df"/>
<rect x="352.24" y="357.45" width="6.33" height="7.69" fill="#f8d8c7"/>
<rect x="358.52" y="357.45" width="6.33" height="7.69" fill="#f8d8c7"/>
<rect x="364.8" y="357.45" width="6.33" height="7.69" fill="#eea582"/>
<rect x="371.07" y="357.45" width="6.33" height="7.69" fill="#c0d8ed"/>
<rect x="377.35" y="357.45" width="6.33" height="7.69" fill="#f9f9fb"/>
<rect x="383.63" y="357.45" width="6.33" height="7.69" fill="#f8d8c7"/>
<rect x="389.91" y="357.45" width="6.33" height="7.69" fill="#f4bda1"/>
<rect x="396.19" y="357.45" width="6.33" height="7.69" fill="#f4bda1"/>
<rect x="402.47" y="357.45" width="6.33" height="7.69" fill="#f4bda1"/>
<rect x="408.74" y="357.45" width="6.33" height="7.69" fill="#f4bda1"/>
<rect x="415.02" y="357.45" width="6.33" height="7.69" fill="#eea582"/>
<rect x="276.9" y="365.09" width="6.33" height="7.69" fill="#c0d8ed"/>
<rect x="283.18" y="365.09" width="6.33" height="7.69" fill="#f9f9fb"/>
<rect x="289.46" y="365.09" width="6.33" height="7.69" fill="#e68560"/>
<rect x="295.73" y="365.09" width="6.33" height="7.69" fill="#fbe9df"/>
<rect x="302.01" y="365.09" width="6.33" height="7.69" fill="#c0d8ed"/>
<rect x="308.29" y="365.09" width="6.33" height="7.69" fill="#f9f9fb"/>
<rect x="314.57" y="365.09" width="6.33" height="7.69" fill="#f9f9fb"/>
<rect x="320.85" y="365.09" width="6.33" height="7.69" fill="#96bee1"/>
<rect x="327.13" y="365.09" width="6.33" height="7.69" fill="#f9f9fb"/>
<rect x="333.4" y="365.09" width="6.33" height="7.69" fill="#c0d8ed"/>
<rect x="339.68" y="365.09" width="6.33" height="7.69" fill="#f9f9fb"/>
<rect x="345.96" y="365.09" width="6.33" height="7.69" fill="#f9f9fb"/>
<rect x="352.24" y="365.09" width="6.33" height="7.69" fill="#f8d8c7"/>
<rect x="358.52" y="365.09" width="6.33" height="7.69" fill="#f9f9fb"/>
<rect x="364.8" y="365.09" width="6.33" height="7.69" fill="#f9f9fb"/>
<rect x="371.07" y="365.09" width="6.33" height="7.69" fill="#f8d8c7"/>
<rect x="377.35" y="365.09" width="6.33" height="7.69" fill="#f8d8c7"/>
<rect x="383.63" y="365.09" width="6.33" height="7.69" fill="#f4bda1"/>
<rect x="389.91" y="365.09" width="6.33" height="7.69" fill="#f9f9fb"/>
<rect x="396.19" y="365.09" width="6.33" height="7.69" fill="#f9f9fb"/>
<rect x="402.47" y="365.09" width="6.33" height="7.69" fill="#f8d8c7"/>
<rect x="408.74" y="365.09" width="6.33" height="7.69" fill="#f9f9fb"/>
<rect x="415.02" y="365.09" width="6.33" height="7.69" fill="#eea582"/>
<rect x="276.9" y="372.73" width="6.33" height="7.69" fill="#c0d8ed"/>
<rect x="283.18" y="372.73" width="6.33" height="7.69" fill="#f9f9fb"/>
<rect x="289.46" y="372.73" width="6.33" height="7.69" fill="#f9f9fb"/>
<rect x="295.73" y="372.73" width="6.33" height="7.69" fill="#dbe9f6"/>
<rect x="302.01" y="372.73" width="6.33" height="7.69" fill="#c0d8ed"/>
<rect x="308.29" y="372.73" width="6.33" height="7.69" fill="#dbe9f6"/>
<rect x="314.57" y="372.73" width="6.33" height="7.69" fill="#dbe9f6"/>
<rect x="320.85" y="372.73" width="6.33" height="7.69" fill="#c0d8ed"/>
<rect x="327.13" y="372.73" width="6.33" height="7.69" fill="#f9f9fb"/>
<rect x="333.4" y="372.73" width="6.33" height="7.69" fill="#dbe9f6"/>
<rect x="339.68" y="372.73" width="6.33" height="7.69" fill="#f4bda1"/>
<rect x="345.96" y="372.73" width="6.33" height="7.69" fill="#f4bda1"/>
<rect x="352.24" y="372.73" width="6.33" height="7.69" fill="#f8d8c7"/>
<rect x="358.52" y="372.73" width="6.33" height="7.69" fill="#f9f9fb"/>
<rect x="364.8" y="372.73" width="6.33" height="7.69" fill="#c0d8ed"/>
<rect x="371.07" y="372.73" width="6.33" height="7.69" fill="#f8d8c7"/>
<rect x="377.35" y="372.73" width="6.33" height="7.69" fill="#f8d8c7"/>
<rect x="383.63" y="372.73" width="6.33" height="7.69" fill="#f8d8c7"/>
<rect x="389.91" y="372.73" width="6.33" height="7.69" fill="#f9f9fb"/>
<rect x="396.19" y="372.73" width="6.33" height="7.69" fill="#f9f9fb"/>
<rect x="402.47" y="372.73" width="6.33" height="7.69" fill="#f8d8c7"/>
<rect x="408.74" y="372.73" width="6.33" height="7.69" fill="#f4bda1"/>
<rect x="415.02" y="372.73" width="6.33" height="7.69" fill="#d85837"/>
<rect x="276.9" y="380.37" width="6.33" height="7.69" fill="#1c5ca5"/>
<rect x="283.18" y="380.37" width="6.33" height="7.69" fill="#f9f9fb"/>
<rect x="289.46" y="380.37" width="6.33" height="7.69" fill="#f4bda1"/>
<rect x="295.73" y="380.37" width="6.33" height="7.69" fill="#f9f9fb"/>
<rect x="302.01" y="380.37" width="6.33" height="7.69" fill="#c0d8ed"/>
<rect x="308.29" y="380.37" width="6.33" height="7.69" fill="#f9f9fb"/>
<rect x="314.57" y="380.37" width="6.33" height="7.69" fill="#f9f9fb"/>
<rect x="320.85" y="380.37" width="6.33" height="7.69" fill="#f9f9fb"/>
<rect x="327.13" y="380.37" width="6.33" height="7.69" fill="#dbe9f6"/>
<rect x="333.4" y="380.37" width="6.33" height="7.69" fill="#dbe9f6"/>
<rect x="339.68" y="380.37" width="6.33" height="7.69" fill="#f9f9fb"/>
<rect x="345.96" y="380.37" width="6.33" height="7.69" fill="#f9f9fb"/>
<rect x="352.24" y="380.37" width="6.33" height="7.69" fill="#f8d8c7"/>
<rect x="358.52" y="380.37" width="6.33" height="7.69" fill="#f9f9fb"/>
<rect x="364.8" y="380.37" width="6.33" height="7.69" fill="#f9f9fb"/>
<rect x="371.07" y="380.37" width="6.33" height="7.69" fill="#f9f9fb"/>
<rect x="377.35" y="380.37" width="6.33" height="7.69" fill="#fbe9df"/>
<rect x="383.63" y="380.37" width="6.33" height="7.69" fill="#f8d8c7"/>
<rect x="389.91" y="380.37" width="6.33" height="7.69" fill="#f9f9fb"/>
<rect x="396.19" y="380.37" width="6.33" height="7.69" fill="#f4bda1"/>
<rect x="402.47" y="380.37" width="6.33" height="7.69" fill="#f9f9fb"/>
<rect x="408.74" y="380.37" width="6.33" height="7.69" fill="#f4bda1"/>
<rect x="415.02" y="380.37" width="6.33" height="7.69" fill="#f9f9fb"/>
<rect x="276.9" y="388.01" width="6.33" height="7.69" fill="#69a0d2"/>
<rect x="283.18" y="388.01" width="6.33" height="7.69" fill="#f9f9fb"/>
<rect x="289.46" y="388.01" width="6.33" height="7.69" fill="#fbe9df"/>
<rect x="295.73" y="388.01" width="6.33" height="7.69" fill="#f9f9fb"/>
<rect x="302.01" y="388.01" width="6.33" height="7.69" fill="#4885c3"/>
<rect x="308.29" y="388.01" width="6.33" height="7.69" fill="#f9f9fb"/>
<rect x="314.57" y="388.01" width="6.33" height="7.69" fill="#f9f9fb"/>
<rect x="320.85" y="388.01" width="6.33" height="7.69" fill="#f9f9fb"/>
<rect x="327.13" y="388.01" width="6.33" height="7.69" fill="#f9f9fb"/>
<rect x="333.4" y="388.01" width="6.33" height="7.69" fill="#f9f9fb"/>
<rect x="339.68" y="388.01" width="6.33" height="7.69" fill="#f9f9fb"/>
<rect x="345.96" y="388.01" width="6.33" height="7.69" fill="#f9f9fb"/>
<rect x="352.24" y="388.01" width="6.33" height="7.69" fill="#f8d8c7"/>
<rect x="358.52" y="388.01" width="6.33" height="7.69" fill="#dbe9f6"/>
<rect x="364.8" y="388.01" width="6.33" height="7.69" fill="#f9f9fb"/>
<rect x="371.07" y="388.01" width="6.33" height="7.69" fill="#fbe9df"/>
<rect x="377.35" y="388.01" width="6.33" height="7.69" fill="#fbe9df"/>
<rect x="383.63" y="388.01" width="6.33" height="7.69" fill="#fbe9df"/>
<rect x="389.91" y="388.01" width="6.33" height="7.69" fill="#f4bda1"/>
<rect x="396.19" y="388.01" width="6.33" height="7.69" fill="#e68560"/>
<rect x="402.47" y="388.01" width="6.33" height="7.69" fill="#f9f9fb"/>
<rect x="408.74" y="388.01" width="6.33" height="7.69" fill="#f4bda1"/>
<rect x="415.02" y="388.01" width="6.33" height="7.69" fill="#f9f9fb"/>
<rect x="276.9" y="395.65" width="6.33" height="7.69" fill="#dbe9f6"/>
<rect x="283.18" y="395.65" width="6.33" height="7.69" fill="#f8d8c7"/>
<rect x="289.46" y="395.65" width="6.33" height="7.69" fill="#fbe9df"/>
<rect x="295.73" y="395.65" width="6.33" height="7.69" fill="#dbe9f6"/>
<rect x="302.01" y="395.65" width="6.33" height="7.69" fill="#c0d8ed"/>
<rect x="308.29" y="395.65" width="6.33" height="7.69" fill="#c0d8ed"/>
<rect x="314.57" y="395.65" width="6.33" height="7.69" fill="#c0d8ed"/>
<rect x="320.85" y="395.65" width="6.33" height="7.69" fill="#f9f9fb"/>
<rect x="327.13" y="395.65" width="6.33" height="7.69" fill="#fbe9df"/>
<rect x="333.4" y="395.65" width="6.33" height="7.69" fill="#f4bda1"/>
<rect x="339.68" y="395.65" width="6.33" height="7.69" fill="#dbe9f6"/>
<rect x="345.96" y="395.65" width="6.33" height="7.69" fill="#dbe9f6"/>
<rect x="352.24" y="395.65" width="6.33" height="7.69" fill="#f8d8c7"/>
<rect x="358.52" y="395.65" width="6.33" height="7.69" fill="#f8d8c7"/>
<rect x="364.8" y="395.65" width="6.33" height="7.69" fill="#e68560"/>
<rect x="371.07" y="395.65" width="6.33" height="7.69" fill="#fbe9df"/>
<rect x="377.35" y="395.65" width="6.33" height="7.69" fill="#dbe9f6"/>
<rect x="383.63" y="395.65" width="6.33" height="7.69" fill="#f8d8c7"/>
<rect x="389.91" y="395.65" width="6.33" height="7.69" fill="#f8d8c7"/>
<rect x="396.19" y="395.65" width="6.33" height="7.69" fill="#fbe9df"/>
<rect x="402.47" y="395.65" width="6.33" height="7.69" fill="#f9f9fb"/>
<rect x="408.74" y="395.65" width="6.33" height="7.69" fill="#f8d8c7"/>
<rect x="415.02" y="395.65" width="6.33" height="7.69" fill="#c0d8ed"/>
<rect x="276.9" y="403.28" width="6.33" height="7.69" fill="#dbe9f6"/>
<rect x="283.18" y="403.28" width="6.33" height="7.69" fill="#f8d8c7"/>
<rect x="289.46" y="403.28" width="6.33" height="7.69" fill="#f8d8c7"/>
<rect x="295.73" y="403.28" width="6.33" height="7.69" fill="#dbe9f6"/>
<rect x="302.01" y="403.28" width="6.33" height="7.69" fill="#3778bc"/>
<rect x="308.29" y="403.28" width="6.33" height="7.69" fill="#c0d8ed"/>
<rect x="314.57" y="403.28" width="6.33" height="7.69" fill="#c0d8ed"/>
<rect x="320.85" y="403.28" width="6.33" height="7.69" fill="#f9f9fb"/>
<rect x="327.13" y="403.28" width="6.33" height="7.69" fill="#f9f9fb"/>
<rect x="333.4" y="403.28" width="6.33" height="7.69" fill="#fbe9df"/>
<rect x="339.68" y="403.28" width="6.33" height="7.69" fill="#f9f9fb"/>
<rect x="345.96" y="403.28" width="6.33" height="7.69" fill="#f9f9fb"/>
<rect x="352.24" y="403.28" width="6.33" height="7.69" fill="#f8d8c7"/>
<rect x="358.52" y="403.28" width="6.33" height="7.69" fill="#eea582"/>
<rect x="364.8" y="403.28" width="6.33" height="7.69" fill="#f8d8c7"/>
<rect x="371.07" y="403.28" width="6.33" height="7.69" fill="#f9f9fb"/>
<rect x="377.35" y="403.28" width="6.33" height="7.69" fill="#f9f9fb"/>
<rect x="383.63" y="403.28" width="6.33" height="7.69" fill="#f9f9fb"/>
<rect x="389.91" y="403.28" width="6.33" height="7.69" fill="#f8d8c7"/>
<rect x="396.19" y="403.28" width="6.33" height="7.69" fill="#f8d8c7"/>
<rect x="402.47" y="403.28" width="6.33" height="7.69" fill="#f8d8c7"/>
<rect x="408.74" y="403.28" width="6.33" height="7.69" fill="#f8d8c7"/>
<rect x="415.02" y="403.28" width="6.33" height="7.69" fill="#f9f9fb"/>
<rect x="276.9" y="410.92" width="6.33" height="7.69" fill="#dbe9f6"/>
<rect x="283.18" y="410.92" width="6.33" height="7.69" fill="#dbe9f6"/>
<rect x="289.46" y="410.92" width="6.33" height="7.69" fill="#dbe9f6"/>
<rect x="295.73" y="410.92" width="6.33" height="7.69" fill="#dbe9f6"/>
<rect x="302.01" y="410.92" width="6.33" height="7.69" fill="#dbe9f6"/>
<rect x="308.29" y="410.92" width="6.33" height="7.69" fill="#dbe9f6"/>
<rect x="314.57" y="410.92" width="6.33" height="7.69" fill="#dbe9f6"/>
<rect x="320.85" y="410.92" width="6.33" height="7.69" fill="#dbe9f6"/>
<rect x="327.13" y="410.92" width="6.33" height="7.69" fill="#dbe9f6"/>
<rect x="333.4" y="410.92" width="6.33" height="7.69" fill="#dbe9f6"/>
<rect x="339.68" y="410.92" width="6.33" height="7.69" fill="#dbe9f6"/>
<rect x="345.96" y="410.92" width="6.33" height="7.69" fill="#dbe9f6"/>
<rect x="352.24" y="410.92" width="6.33" height="7.69" fill="#f9f9fb"/>
<rect x="358.52" y="410.92" width="6.33" height="7.69" fill="#dbe9f6"/>
<rect x="364.8" y="410.92" width="6.33" height="7.69" fill="#dbe9f6"/>
<rect x="371.07" y="410.92" width="6.33" height="7.69" fill="#e68560"/>
<rect x="377.35" y="410.92" width="6.33" height="7.69" fill="#dbe9f6"/>
<rect x="383.63" y="410.92" width="6.33" height="7.69" fill="#dbe9f6"/>
<rect x="389.91" y="410.92" width="6.33" height="7.69" fill="#eea582"/>
<rect x="396.19" y="410.92" width="6.33" height="7.69" fill="#fbe9df"/>
<rect x="402.47" y="410.92" width="6.33" height="7.69" fill="#e68560"/>
<rect x="408.74" y="410.92" width="6.33" height="7.69" fill="#e68560"/>
<rect x="415.02" y="410.92" width="6.33" height="7.69" fill="#dbe9f6"/>
<rect x="276.9" y="418.56" width="6.33" height="7.69" fill="#f9f9fb"/>
<rect x="283.18" y="418.56" width="6.33" height="7.69" fill="#f9f9fb"/>
<rect x="289.46" y="418.56" width="6.33" height="7.69" fill="#f8d8c7"/>
<rect x="295.73" y="418.56" width="6.33" height="7.69" fill="#f8d8c7"/>
<rect x="302.01" y="418.56" width="6.33" height="7.69" fill="#dbe9f6"/>
<rect x="308.29" y="418.56" width="6.33" height="7.69" fill="#f9f9fb"/>
<rect x="314.57" y="418.56" width="6.33" height="7.69" fill="#f9f9fb"/>
<rect x="320.85" y="418.56" width="6.33" height="7.69" fill="#96bee1"/>
<rect x="327.13" y="418.56" width="6.33" height="7.69" fill="#c0d8ed"/>
<rect x="333.4" y="418.56" width="6.33" height="7.69" fill="#f9f9fb"/>
<rect x="339.68" y="418.56" width="6.33" height="7.69" fill="#c0d8ed"/>
<rect x="345.96" y="418.56" width="6.33" height="7.69" fill="#c0d8ed"/>
<rect x="352.24" y="418.56" width="6.33" height="7.69" fill="#f4bda1"/>
<rect x="358.52" y="418.56" width="6.33" height="7.69" fill="#f9f9fb"/>
<rect x="364.8" y="418.56" width="6.33" height="7.69" fill="#f9f9fb"/>
<rect x="371.07" y="418.56" width="6.33" height="7.69" fill="#e68560"/>
<rect x="377.35" y="418.56" width="6.33" height="7.69" fill="#f9f9fb"/>
<rect x="383.63" y="418.56" width="6.33" height="7.69" fill="#fbe9df"/>
<rect x="389.91" y="418.56" width="6.33" height="7.69" fill="#fbe9df"/>
<rect x="396.19" y="418.56" width="6.33" height="7.69" fill="#f9f9fb"/>
<rect x="402.47" y="418.56" width="6.33" height="7.69" fill="#f4bda1"/>
<rect x="408.74" y="418.56" width="6.33" height="7.69" fill="#f4bda1"/>
<rect x="415.02" y="418.56" width="6.33" height="7.69" fill="#f9f9fb"/>
</g>
<rect x="276.9" y="324.3" width="72.3" height="2.2" fill="#6d9dd3"/>
<rect x="349.2" y="324.3" width="72.1" height="2.2" fill="#f6bb7c"/>
<text x="424.3" y="332.92" font-size="6.2" fill="#222">Isca2</text>
<text x="273.7" y="333.32" font-size="6" text-anchor="end" fill="#222" font-weight="bold">*</text>
<text x="424.3" y="340.56" font-size="6.2" fill="#222">Pdha</text>
<text x="273.7" y="340.96" font-size="6" text-anchor="end" fill="#222" font-weight="bold">**</text>
<text x="424.3" y="348.2" font-size="6.2" fill="#222">Mcu</text>
<text x="273.7" y="348.6" font-size="6" text-anchor="end" fill="#222" font-weight="bold">**</text>
<text x="424.3" y="355.83" font-size="6.2" fill="#222">Ears2</text>
<text x="273.7" y="356.23" font-size="6" text-anchor="end" fill="#222" font-weight="bold">**</text>
<text x="424.3" y="363.47" font-size="6.2" fill="#222">Atad1</text>
<text x="273.7" y="363.87" font-size="6" text-anchor="end" fill="#222" font-weight="bold">***</text>
<text x="424.3" y="371.11" font-size="6.2" fill="#222">Map2k4</text>
<text x="273.7" y="371.51" font-size="6" text-anchor="end" fill="#222" font-weight="bold">**</text>
<text x="424.3" y="378.75" font-size="6.2" fill="#222">Acsf2</text>
<text x="273.7" y="379.15" font-size="6" text-anchor="end" fill="#222" font-weight="bold">**</text>
<text x="424.3" y="386.39" font-size="6.2" fill="#222">Ndufa9</text>
<text x="273.7" y="386.79" font-size="6" text-anchor="end" fill="#222" font-weight="bold">*</text>
<text x="424.3" y="394.03" font-size="6.2" fill="#222">Dnaja3</text>
<text x="273.7" y="394.43" font-size="6" text-anchor="end" fill="#222" font-weight="bold">**</text>
<text x="424.3" y="401.67" font-size="6.2" fill="#222">Mtpap</text>
<text x="273.7" y="402.07" font-size="6" text-anchor="end" fill="#222" font-weight="bold">**</text>
<text x="424.3" y="409.3" font-size="6.2" fill="#222">Uqcrfs1</text>
<text x="273.7" y="409.7" font-size="6" text-anchor="end" fill="#222" font-weight="bold">**</text>
<text x="424.3" y="416.94" font-size="6.2" fill="#222">Slc25a19</text>
<text x="273.7" y="417.34" font-size="6" text-anchor="end" fill="#222" font-weight="bold">**</text>
<text x="424.3" y="424.58" font-size="6.2" fill="#222">Acads</text>
<text x="273.7" y="424.98" font-size="6" text-anchor="end" fill="#222" font-weight="bold">**</text>
<path d="M307.5,505 L307.5,477.6 A27.4,27.4 0 0 1 334.82,502.94 Z" fill="#f0920f" stroke="#fff" stroke-width="0.7" stroke-linejoin="round"/>
<path d="M307.5,505 L334.82,502.94 A27.4,27.4 0 0 1 327.71,523.5 Z" fill="#f5b614" stroke="#fff" stroke-width="0.7" stroke-linejoin="round"/>
<path d="M307.5,505 L327.71,523.5 A27.4,27.4 0 0 1 287.53,523.76 Z" fill="#c4711c" stroke="#fff" stroke-width="0.7" stroke-linejoin="round"/>
<path d="M307.5,505 L287.53,523.76 A27.4,27.4 0 0 1 307.5,477.6 Z" fill="#0f5e4c" stroke="#fff" stroke-width="0.7" stroke-linejoin="round"/>
<path d="M435.5,504.6 L435.5,477.6 A27,27 0 0 1 461.92,510.16 Z" fill="#f0920f" stroke="#fff" stroke-width="0.7" stroke-linejoin="round"/>
<path d="M435.5,504.6 L461.92,510.16 A27,27 0 0 1 448.51,528.26 Z" fill="#f5b614" stroke="#fff" stroke-width="0.7" stroke-linejoin="round"/>
<path d="M435.5,504.6 L448.51,528.26 A27,27 0 0 1 410.21,514.06 Z" fill="#c4711c" stroke="#fff" stroke-width="0.7" stroke-linejoin="round"/>
<path d="M435.5,504.6 L410.21,514.06 A27,27 0 0 1 435.5,477.6 Z" fill="#0f5e4c" stroke="#fff" stroke-width="0.7" stroke-linejoin="round"/>
<text x="290.4" y="456.6" font-size="8.1" fill="#222">hG6PD<tspan font-size="5.4" dy="2">ND</tspan></text>
<text x="415" y="456.6" font-size="8.1" fill="#222">hG6PD<tspan font-size="5.4" dy="2">Med−</tspan></text>
<text x="308.7" y="468.3" font-size="5.8" fill="#222">ECM Glycoproteins,</text>
<text x="308.7" y="474.6" font-size="5.8" fill="#222">23.8%</text>
<line x1="326.3" y1="476.6" x2="326.3" y2="483.6" stroke="#444" stroke-width="0.6"/>
<text x="255.5" y="477.6" font-size="5.8" fill="#222">Collagens,</text>
<text x="255.5" y="484.6" font-size="5.8" fill="#222">36.9%</text>
<polyline points="276.8,482.6 279.6,482.6 281.4,492.6" fill="none" stroke="#444" stroke-width="0.6"/>
<text x="372.5" y="503.8" font-size="5.8" text-anchor="end" fill="#222">ECM</text>
<text x="372.5" y="511.3" font-size="5.8" text-anchor="end" fill="#222">Regulators,</text>
<text x="372.5" y="519" font-size="5.8" text-anchor="end" fill="#222">13.0%</text>
<line x1="334.6" y1="513.9" x2="342.6" y2="512.3" stroke="#444" stroke-width="0.6"/>
<text x="282" y="545.4" font-size="5.8" fill="#222">ECM-affiliated Proteins,</text>
<text x="282" y="552.1" font-size="5.8" fill="#222">26.2%</text>
<line x1="307.5" y1="533.2" x2="307.5" y2="538.8" stroke="#444" stroke-width="0.6"/>
<text x="460.5" y="473.8" font-size="5.8" fill="#222">ECM</text>
<text x="460.5" y="481.3" font-size="5.8" fill="#222">Glycoproteins,</text>
<text x="460.5" y="487.6" font-size="5.8" fill="#222">28.3%</text>
<text x="408.8" y="478.3" font-size="5.8" text-anchor="end" fill="#222">Collagens,</text>
<text x="405.3" y="485.8" font-size="5.8" text-anchor="end" fill="#222">30.7%</text>
<polyline points="409.6,478.8 412.2,478.8 412.2,487.6" fill="none" stroke="#444" stroke-width="0.6"/>
<text x="482.5" y="525" font-size="5.8" text-anchor="end" fill="#222">ECM</text>
<text x="482.5" y="532.8" font-size="5.8" text-anchor="end" fill="#222">Regulators,</text>
<text x="482.5" y="540" font-size="5.8" text-anchor="end" fill="#222">13.7%</text>
<text x="383" y="531.5" font-size="5.8" fill="#222">ECM-affiliated</text>
<text x="383" y="538.8" font-size="5.8" fill="#222">Proteins,</text>
<text x="383" y="545.8" font-size="5.8" fill="#222">27.3%</text>
<line x1="419.3" y1="531" x2="424.6" y2="530" stroke="#444" stroke-width="0.6"/>
<rect x="0.5" y="0.5" width="519" height="559" fill="none" stroke="#555" stroke-width="1"/></svg></body></html>
